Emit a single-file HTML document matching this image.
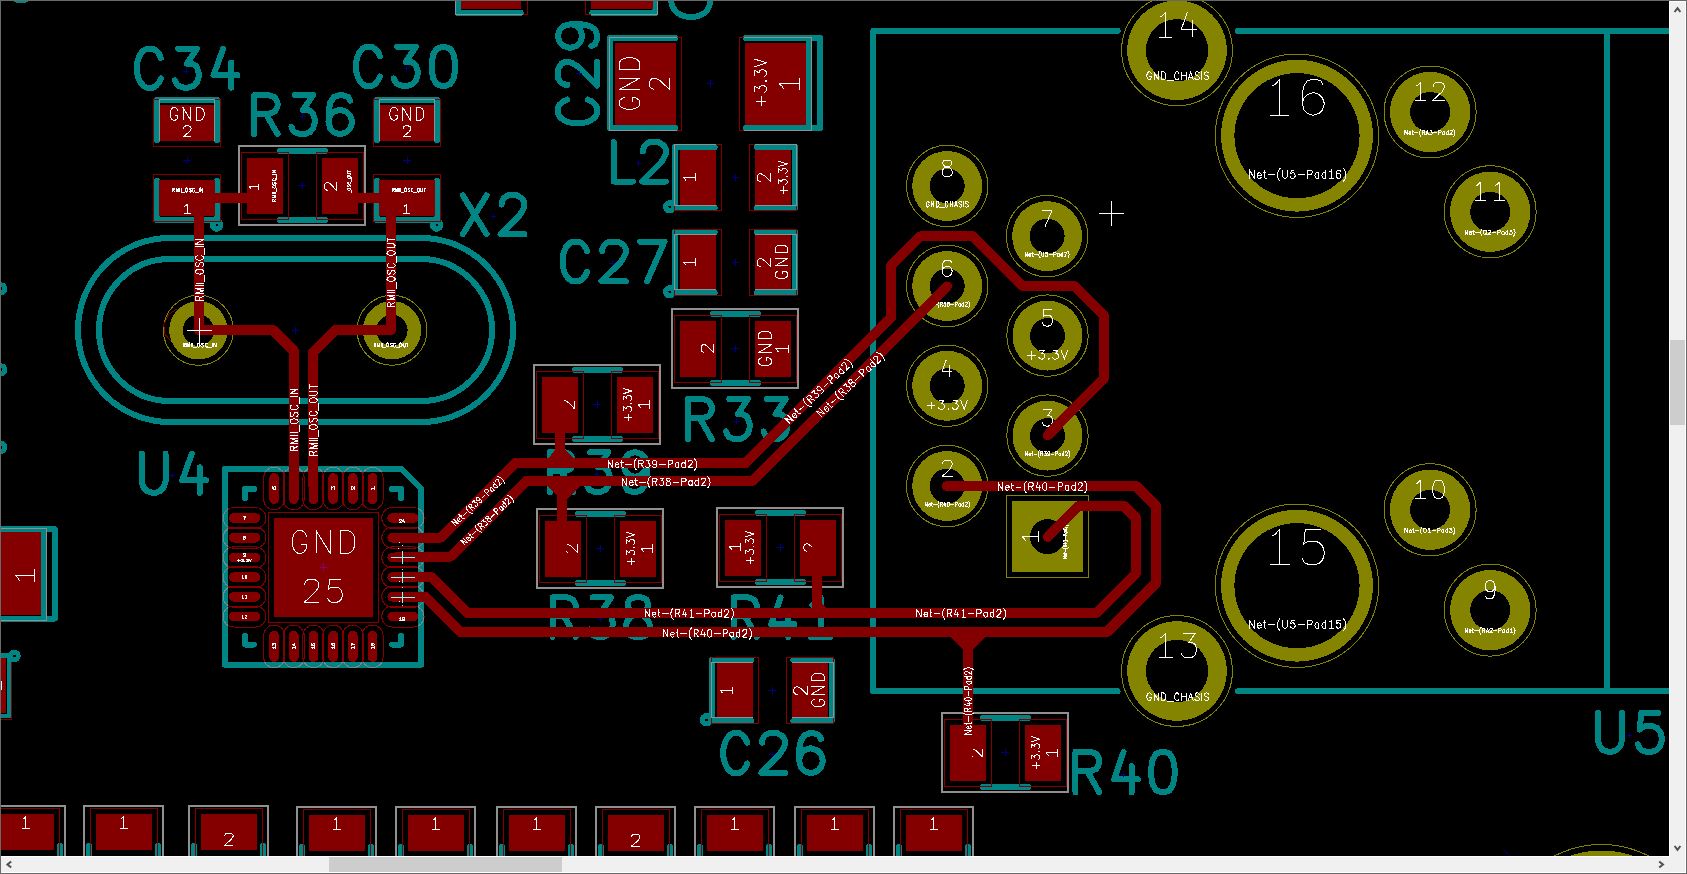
<!DOCTYPE html>
<html><head><meta charset="utf-8"><title>Pcbnew</title>
<style>html,body{margin:0;padding:0;background:#000;overflow:hidden;font-family:"Liberation Sans",sans-serif}
svg{display:block;position:absolute;left:0;top:0}</style></head>
<body>
<svg width="1687" height="874" viewBox="0 0 1687 874" fill="none" stroke-linecap="round" stroke-linejoin="round" shape-rendering="crispEdges">
<rect x="0" y="0" width="1687" height="874" fill="#000"/>
<g>
<path d="M157 140 L157 100 L217 100 L217 140" stroke="#008484" stroke-width="6" stroke-linecap="round" stroke-linejoin="round"/>
<path d="M157 181 L157 220 L217 220 L217 181" stroke="#008484" stroke-width="6" stroke-linecap="round" stroke-linejoin="round"/>
<circle cx="216.6" cy="225" r="4" fill="none" stroke="#008484" stroke-width="5.6"/>
<path transform="translate(187.2 68.2) rotate(0)" d="M-26.4 -10.2 L-27.9 -13.9 L-31.1 -17.6 L-34.3 -19.4 L-40.6 -19.4 L-43.8 -17.6 L-47.0 -13.9 L-48.6 -10.2 L-50.2 -4.6 L-50.2 4.6 L-48.6 10.2 L-47.0 13.9 L-43.8 17.6 L-40.6 19.4 L-34.3 19.4 L-31.1 17.6 L-27.9 13.9 L-26.4 10.2 M-8.9 -19.4 L9.8 -19.4 L-0.4 -4.6 L4.7 -4.6 L8.1 -2.8 L9.8 -0.9 L11.5 4.6 L11.5 8.3 L9.8 13.9 L6.4 17.6 L1.3 19.4 L-3.8 19.4 L-8.9 17.6 L-10.6 15.7 L-12.3 12.0 M35.9 -19.4 L26.4 7.0 L50.2 7.0 M43.9 -5.7 L43.9 19.4" stroke="#008484" stroke-width="6"/>
<path d="M377 140 L377 100 L437 100 L437 140" stroke="#008484" stroke-width="6" stroke-linecap="round" stroke-linejoin="round"/>
<path d="M377 181 L377 220 L437 220 L437 181" stroke="#008484" stroke-width="6" stroke-linecap="round" stroke-linejoin="round"/>
<circle cx="436.6" cy="225" r="4" fill="none" stroke="#008484" stroke-width="5.6"/>
<path transform="translate(405.7 66.4) rotate(0)" d="M-25.9 -10.2 L-27.4 -13.9 L-30.6 -17.6 L-33.8 -19.5 L-40.1 -19.5 L-43.3 -17.6 L-46.4 -13.9 L-48.0 -10.2 L-49.6 -4.6 L-49.6 4.6 L-48.0 10.2 L-46.4 13.9 L-43.3 17.6 L-40.1 19.5 L-33.8 19.5 L-30.6 17.6 L-27.4 13.9 L-25.9 10.2 M-8.5 -19.5 L10.2 -19.5 L-0.0 -4.6 L5.1 -4.6 L8.5 -2.8 L10.2 -0.9 L11.9 4.6 L11.9 8.4 L10.2 13.9 L6.8 17.6 L1.7 19.5 L-3.4 19.5 L-8.5 17.6 L-10.2 15.8 L-11.9 12.1 M36.0 -19.5 L31.0 -17.6 L27.6 -12.1 L25.9 -2.8 L25.9 2.8 L27.6 12.1 L31.0 17.6 L36.0 19.5 L39.4 19.5 L44.5 17.6 L47.9 12.1 L49.6 2.8 L49.6 -2.8 L47.9 -12.1 L44.5 -17.6 L39.4 -19.5 L36.0 -19.5" stroke="#008484" stroke-width="6"/>
<path d="M280 151 L325.5 151" stroke="#008484" stroke-width="6" stroke-linecap="round" stroke-linejoin="round"/>
<path d="M280 220 L325.5 220" stroke="#008484" stroke-width="6" stroke-linecap="round" stroke-linejoin="round"/>
<path transform="translate(303 114.6) rotate(0)" d="M-48.9 -19.4 L-48.9 19.4 M-48.9 -19.4 L-33.9 -19.4 L-28.9 -17.6 L-27.2 -15.7 L-25.5 -12.0 L-25.5 -8.3 L-27.2 -4.6 L-28.9 -2.8 L-33.9 -0.9 L-48.9 -0.9 M-37.2 -0.9 L-25.5 19.4 M-8.3 -19.4 L10.1 -19.4 L0.0 -4.6 L5.1 -4.6 L8.4 -2.8 L10.1 -0.9 L11.7 4.6 L11.7 8.3 L10.1 13.9 L6.7 17.6 L1.7 19.4 L-3.3 19.4 L-8.3 17.6 L-10.0 15.7 L-11.6 12.0 M47.1 -13.9 L45.3 -17.6 L39.9 -19.4 L36.3 -19.4 L30.9 -17.6 L27.3 -12.0 L25.5 -2.8 L25.5 6.5 L27.3 13.9 L30.9 17.6 L36.3 19.4 L38.1 19.4 L43.5 17.6 L47.1 13.9 L48.9 8.3 L48.9 6.5 L47.1 0.9 L43.5 -2.8 L38.1 -4.6 L36.3 -4.6 L30.9 -2.8 L27.3 0.9 L25.5 6.5" stroke="#008484" stroke-width="6"/>
<path transform="translate(493.6 214.8) rotate(0)" d="M-30.8 -19.4 L-7.0 19.4 M-7.0 -19.4 L-30.8 19.4 M7.9 -10.2 L7.9 -12.0 L9.6 -15.7 L11.3 -17.6 L14.7 -19.4 L23.2 -19.4 L26.6 -17.6 L29.1 -15.7 L30.8 -12.0 L30.8 -8.3 L29.1 -4.6 L25.7 0.9 L7.0 19.4 L30.8 19.4" stroke="#008484" stroke-width="6"/>
<path d="M170 238 H421 A92 92 0 0 1 421 422 H170 A92 92 0 0 1 170 238 Z" stroke="#008484" stroke-width="6"/>
<path d="M170 259 H421 A71 71 0 0 1 421 401 H170 A71 71 0 0 1 170 259 Z" stroke="#008484" stroke-width="6"/>
<path d="M225 469 H401.3 L421 488.7 V664.8 H225 Z" stroke="#008484" stroke-width="6" stroke-linejoin="round"/>
<path transform="translate(173.9 473.2) rotate(0)" d="M-32.1 -19.6 L-32.1 8.4 L-30.5 14.0 L-27.1 17.7 L-22.0 19.6 L-18.6 19.6 L-13.5 17.7 L-10.1 14.0 L-8.4 8.4 L-8.4 -19.6 M17.9 -19.6 L8.4 7.1 L32.1 7.1 M25.9 -5.8 L25.9 19.6" stroke="#008484" stroke-width="6"/>
<path d="M254 489 L245 489 L245 498" stroke="#008484" stroke-width="6" stroke-linecap="round" stroke-linejoin="round"/>
<path d="M392 489 L401 489 L401 498" stroke="#008484" stroke-width="6" stroke-linecap="round" stroke-linejoin="round"/>
<path d="M254 644.5 L245 644.5 L245 635.5" stroke="#008484" stroke-width="6" stroke-linecap="round" stroke-linejoin="round"/>
<path d="M392 644.5 L401 644.5 L401 635.5" stroke="#008484" stroke-width="6" stroke-linecap="round" stroke-linejoin="round"/>
<path d="M713 314 L758.5 314" stroke="#008484" stroke-width="6" stroke-linecap="round" stroke-linejoin="round"/>
<path d="M713 383 L758.5 383" stroke="#008484" stroke-width="6" stroke-linecap="round" stroke-linejoin="round"/>
<path transform="translate(737.7 419.1) rotate(0)" d="M-49.7 -20.1 L-49.7 20.1 M-49.7 -20.1 L-34.4 -20.1 L-29.3 -18.1 L-27.6 -16.2 L-25.9 -12.4 L-25.9 -8.6 L-27.6 -4.8 L-29.3 -2.9 L-34.4 -1.0 L-49.7 -1.0 M-37.8 -1.0 L-25.9 20.1 M-8.4 -20.1 L10.2 -20.1 L0.0 -4.8 L5.1 -4.8 L8.5 -2.9 L10.2 -1.0 L11.9 4.8 L11.9 8.6 L10.2 14.3 L6.8 18.1 L1.7 20.1 L-3.3 20.1 L-8.4 18.1 L-10.1 16.2 L-11.8 12.4 M29.3 -20.1 L48.0 -20.1 L37.8 -4.8 L42.9 -4.8 L46.3 -2.9 L48.0 -1.0 L49.7 4.8 L49.7 8.6 L48.0 14.3 L44.6 18.1 L39.5 20.1 L34.4 20.1 L29.3 18.1 L27.6 16.2 L25.9 12.4" stroke="#008484" stroke-width="6"/>
<path d="M575 370 L620.5 370" stroke="#008484" stroke-width="6" stroke-linecap="round" stroke-linejoin="round"/>
<path d="M575 439 L620.5 439" stroke="#008484" stroke-width="6" stroke-linecap="round" stroke-linejoin="round"/>
<path transform="translate(598.3 472.1) rotate(0)" d="M-48.4 -19.9 L-48.4 19.9 M-48.4 -19.9 L-33.6 -19.9 L-28.6 -18.0 L-26.9 -16.1 L-25.3 -12.3 L-25.3 -8.5 L-26.9 -4.7 L-28.6 -2.8 L-33.6 -0.9 L-48.4 -0.9 M-36.9 -0.9 L-25.3 19.9 M-8.2 -19.9 L10.0 -19.9 L0.0 -4.7 L5.0 -4.7 L8.3 -2.8 L10.0 -0.9 L11.6 4.7 L11.6 8.5 L10.0 14.2 L6.7 18.0 L1.7 19.9 L-3.3 19.9 L-8.2 18.0 L-9.9 16.1 L-11.5 12.3 M48.4 -6.6 L46.7 -0.9 L43.1 2.8 L37.8 4.7 L36.0 4.7 L30.6 2.8 L27.1 -0.9 L25.3 -6.6 L25.3 -8.5 L27.1 -14.2 L30.6 -18.0 L36.0 -19.9 L37.8 -19.9 L43.1 -18.0 L46.7 -14.2 L48.4 -6.6 L48.4 2.8 L46.7 12.3 L43.1 18.0 L37.8 19.9 L34.2 19.9 L28.9 18.0 L27.1 14.2" stroke="#008484" stroke-width="6"/>
<path d="M578 514 L623.5 514" stroke="#008484" stroke-width="6" stroke-linecap="round" stroke-linejoin="round"/>
<path d="M578 583 L623.5 583" stroke="#008484" stroke-width="6" stroke-linecap="round" stroke-linejoin="round"/>
<path transform="translate(601 617.2) rotate(0)" d="M-48.5 -19.8 L-48.5 19.8 M-48.5 -19.8 L-33.6 -19.8 L-28.6 -17.9 L-27.0 -16.0 L-25.3 -12.2 L-25.3 -8.5 L-27.0 -4.7 L-28.6 -2.8 L-33.6 -0.9 L-48.5 -0.9 M-36.9 -0.9 L-25.3 19.8 M-8.2 -19.8 L10.0 -19.8 L0.0 -4.7 L5.0 -4.7 L8.3 -2.8 L10.0 -0.9 L11.6 4.7 L11.6 8.5 L10.0 14.1 L6.7 17.9 L1.7 19.8 L-3.3 19.8 L-8.2 17.9 L-9.9 16.0 L-11.5 12.2 M33.6 -19.8 L28.6 -17.9 L27.0 -14.1 L27.0 -10.3 L28.6 -6.6 L31.9 -4.7 L38.6 -2.8 L43.5 -0.9 L46.8 2.8 L48.5 6.6 L48.5 12.2 L46.8 16.0 L45.2 17.9 L40.2 19.8 L33.6 19.8 L28.6 17.9 L27.0 16.0 L25.3 12.2 L25.3 6.6 L27.0 2.8 L30.3 -0.9 L35.3 -2.8 L41.9 -4.7 L45.2 -6.6 L46.8 -10.3 L46.8 -14.1 L45.2 -17.9 L40.2 -19.8 L33.6 -19.8" stroke="#008484" stroke-width="6"/>
<path d="M758 513 L803.5 513" stroke="#008484" stroke-width="6" stroke-linecap="round" stroke-linejoin="round"/>
<path d="M758 582 L803.5 582" stroke="#008484" stroke-width="6" stroke-linecap="round" stroke-linejoin="round"/>
<path transform="translate(782 617.2) rotate(0)" d="M-48.4 -19.8 L-48.4 19.8 M-48.4 -19.8 L-33.6 -19.8 L-28.6 -17.9 L-26.9 -16.0 L-25.3 -12.2 L-25.3 -8.5 L-26.9 -4.7 L-28.6 -2.8 L-33.6 -0.9 L-48.4 -0.9 M-36.9 -0.9 L-25.3 19.8 M-1.4 -19.8 L-10.7 7.1 L12.5 7.1 M6.3 -5.8 L6.3 19.8 M30.3 -12.2 L33.6 -14.1 L38.5 -19.8 L38.5 19.8 M28.6 19.8 L48.4 19.8" stroke="#008484" stroke-width="6"/>
<path d="M983 718 L1028.5 718" stroke="#008484" stroke-width="6" stroke-linecap="round" stroke-linejoin="round"/>
<path d="M983 787 L1028.5 787" stroke="#008484" stroke-width="6" stroke-linecap="round" stroke-linejoin="round"/>
<path transform="translate(1125.1 772) rotate(0)" d="M-49.6 -20.2 L-49.6 20.2 M-49.6 -20.2 L-34.4 -20.2 L-29.3 -18.3 L-27.6 -16.4 L-25.9 -12.5 L-25.9 -8.7 L-27.6 -4.8 L-29.3 -2.9 L-34.4 -1.0 L-49.6 -1.0 M-37.8 -1.0 L-25.9 20.2 M-1.5 -20.2 L-11.0 7.3 L12.8 7.3 M6.5 -6.0 L6.5 20.2 M36.1 -20.2 L31.0 -18.3 L27.6 -12.5 L25.9 -2.9 L25.9 2.9 L27.6 12.5 L31.0 18.3 L36.1 20.2 L39.5 20.2 L44.6 18.3 L48.0 12.5 L49.6 2.9 L49.6 -2.9 L48.0 -12.5 L44.6 -18.3 L39.5 -20.2 L36.1 -20.2" stroke="#008484" stroke-width="6"/>
<path d="M714.7 147 L675 147 L675 208 L714.7 208" stroke="#008484" stroke-width="6" stroke-linecap="round" stroke-linejoin="round"/>
<path d="M756.6 147 L795 147 L795 208 L756.6 208" stroke="#008484" stroke-width="6" stroke-linecap="round" stroke-linejoin="round"/>
<circle cx="669.7" cy="206.8" r="4" fill="none" stroke="#008484" stroke-width="5.4"/>
<path transform="translate(639.9 161.8) rotate(0)" d="M-26.1 -19.7 L-26.1 19.7 M-26.1 19.7 L-6.8 19.7 M3.0 -10.3 L3.0 -12.2 L4.7 -15.9 L6.4 -17.8 L9.9 -19.7 L18.4 -19.7 L21.9 -17.8 L24.4 -15.9 L26.1 -12.2 L26.1 -8.4 L24.4 -4.7 L21.0 0.9 L2.1 19.7 L26.1 19.7" stroke="#008484" stroke-width="6"/>
<path d="M714.7 232 L675 232 L675 293 L714.7 293" stroke="#008484" stroke-width="6" stroke-linecap="round" stroke-linejoin="round"/>
<path d="M756.6 232 L795 232 L795 293 L756.6 293" stroke="#008484" stroke-width="6" stroke-linecap="round" stroke-linejoin="round"/>
<circle cx="669.7" cy="291.8" r="4" fill="none" stroke="#008484" stroke-width="5.4"/>
<path transform="translate(613.6 261.4) rotate(0)" d="M-26.5 -10.3 L-28.2 -14.1 L-31.4 -17.9 L-34.7 -19.8 L-41.2 -19.8 L-44.4 -17.9 L-47.7 -14.1 L-49.3 -10.3 L-50.9 -4.7 L-50.9 4.7 L-49.3 10.3 L-47.7 14.1 L-44.4 17.9 L-41.2 19.8 L-34.7 19.8 L-31.4 17.9 L-28.2 14.1 L-26.5 10.3 M-11.3 -10.3 L-11.3 -12.2 L-9.6 -16.0 L-7.8 -17.9 L-4.3 -19.8 L4.3 -19.8 L7.8 -17.9 L10.4 -16.0 L12.2 -12.2 L12.2 -8.5 L10.4 -4.7 L7.0 0.9 L-12.2 19.8 L12.2 19.8 M50.9 -19.8 L33.5 19.8 M26.5 -19.8 L50.9 -19.8" stroke="#008484" stroke-width="6"/>
<path d="M751.5 660 L711.8 660 L711.8 721 L751.5 721" stroke="#008484" stroke-width="6" stroke-linecap="round" stroke-linejoin="round"/>
<path d="M793.4 660 L831.8 660 L831.8 721 L793.4 721" stroke="#008484" stroke-width="6" stroke-linecap="round" stroke-linejoin="round"/>
<circle cx="706.5" cy="719.8" r="4" fill="none" stroke="#008484" stroke-width="5.4"/>
<path transform="translate(773.1 753.1) rotate(0)" d="M-25.9 -10.4 L-27.4 -14.2 L-30.6 -18.0 L-33.8 -19.9 L-40.1 -19.9 L-43.3 -18.0 L-46.4 -14.2 L-48.0 -10.4 L-49.6 -4.7 L-49.6 4.7 L-48.0 10.4 L-46.4 14.2 L-43.3 18.0 L-40.1 19.9 L-33.8 19.9 L-30.6 18.0 L-27.4 14.2 L-25.9 10.4 M-11.0 -10.4 L-11.0 -12.3 L-9.3 -16.1 L-7.6 -18.0 L-4.2 -19.9 L4.2 -19.9 L7.6 -18.0 L10.2 -16.1 L11.9 -12.3 L11.9 -8.5 L10.2 -4.7 L6.8 0.9 L-11.9 19.9 L11.9 19.9 M47.8 -14.2 L45.9 -18.0 L40.5 -19.9 L36.8 -19.9 L31.3 -18.0 L27.7 -12.3 L25.9 -2.8 L25.9 6.6 L27.7 14.2 L31.3 18.0 L36.8 19.9 L38.6 19.9 L44.1 18.0 L47.8 14.2 L49.6 8.5 L49.6 6.6 L47.8 0.9 L44.1 -2.8 L38.6 -4.7 L36.8 -4.7 L31.3 -2.8 L27.7 0.9 L25.9 6.6" stroke="#008484" stroke-width="6"/>
<path d="M675 38 L610 38 L610 128 L675 128" stroke="#008484" stroke-width="6" stroke-linecap="round" stroke-linejoin="round"/>
<path d="M746 38 L820 38 L820 128 L746 128" stroke="#008484" stroke-width="6" stroke-linecap="round" stroke-linejoin="round"/>
<path d="M809 38 L809 128" stroke="#008484" stroke-width="6" stroke-linecap="round" stroke-linejoin="round"/>
<path transform="translate(577.5 73.7) rotate(-90)" d="M-25.9 -10.2 L-27.5 -13.9 L-30.6 -17.6 L-33.8 -19.5 L-40.1 -19.5 L-43.3 -17.6 L-46.5 -13.9 L-48.1 -10.2 L-49.6 -4.6 L-49.6 4.6 L-48.1 10.2 L-46.5 13.9 L-43.3 17.6 L-40.1 19.5 L-33.8 19.5 L-30.6 17.6 L-27.5 13.9 L-25.9 10.2 M-11.0 -10.2 L-11.0 -12.1 L-9.3 -15.8 L-7.6 -17.6 L-4.2 -19.5 L4.2 -19.5 L7.6 -17.6 L10.2 -15.8 L11.9 -12.1 L11.9 -8.4 L10.2 -4.6 L6.8 0.9 L-11.9 19.5 L11.9 19.5 M49.6 -6.5 L47.8 -0.9 L44.2 2.8 L38.7 4.6 L36.9 4.6 L31.4 2.8 L27.7 -0.9 L25.9 -6.5 L25.9 -8.4 L27.7 -13.9 L31.4 -17.6 L36.9 -19.5 L38.7 -19.5 L44.2 -17.6 L47.8 -13.9 L49.6 -6.5 L49.6 2.8 L47.8 12.1 L44.2 17.6 L38.7 19.5 L35.0 19.5 L29.5 17.6 L27.7 13.9" stroke="#008484" stroke-width="6"/>
<path d="M457.5 0 L457.5 12.9 L520.6 12.9" stroke="#008484" stroke-width="6" stroke-linecap="round" stroke-linejoin="round"/>
<path d="M592.4 12.9 L655.4 12.9 L655.4 0" stroke="#008484" stroke-width="6" stroke-linecap="round" stroke-linejoin="round"/>
<path d="M671 -2 C671 11,680 17,691 17 S710.5 11,710.5 -2" stroke="#008484" stroke-width="6" stroke-linecap="round"/>
<path d="M1117.6 30.9 L873.3 30.9 L873.3 691.3 L1117.6 691.3" stroke="#008484" stroke-width="6" stroke-linecap="round" stroke-linejoin="round"/>
<path d="M1238 30.9 L1680 30.9" stroke="#008484" stroke-width="6" stroke-linecap="round" stroke-linejoin="round"/>
<path d="M1238 691.3 L1680 691.3" stroke="#008484" stroke-width="6" stroke-linecap="round" stroke-linejoin="round"/>
<path d="M1606.7 30.9 L1606.7 691.3" stroke="#008484" stroke-width="6" stroke-linecap="round" stroke-linejoin="round"/>
<path transform="translate(1629.9 732.4) rotate(0)" d="M-31.9 -19.4 L-31.9 8.3 L-30.2 13.9 L-26.8 17.6 L-21.7 19.4 L-18.2 19.4 L-13.1 17.6 L-9.7 13.9 L-8.0 8.3 L-8.0 -19.4 M28.5 -19.4 L11.4 -19.4 L9.7 -2.8 L11.4 -4.6 L16.5 -6.5 L21.7 -6.5 L26.8 -4.6 L30.2 -0.9 L31.9 4.6 L31.9 8.3 L30.2 13.9 L26.8 17.6 L21.7 19.4 L16.5 19.4 L11.4 17.6 L9.7 15.7 L8.0 12.0" stroke="#008484" stroke-width="6"/>
<ellipse cx="21" cy="0.5" rx="8" ry="2.5" fill="#008484"/>
<path d="M0 529.2 L54.8 529.2 L54.8 618.6 L0 618.6" stroke="#008484" stroke-width="6" stroke-linecap="round" stroke-linejoin="round"/>
<path d="M44.2 529.2 L44.2 618.6" stroke="#008484" stroke-width="6" stroke-linecap="round" stroke-linejoin="round"/>
<path d="M0 655.2 L8.8 655.2 L8.8 715.8 L0 715.8" stroke="#008484" stroke-width="4.6" stroke-linecap="round" stroke-linejoin="round"/>
<circle cx="14.3" cy="656" r="3.9" fill="none" stroke="#008484" stroke-width="5"/>
<circle cx="1" cy="288.7" r="3.9" fill="none" stroke="#008484" stroke-width="5"/>
<circle cx="1" cy="369.7" r="3.9" fill="none" stroke="#008484" stroke-width="5"/>
<circle cx="1" cy="447.4" r="3.9" fill="none" stroke="#008484" stroke-width="5"/>
<path d="M-9 846 L-9 870" stroke="#008484" stroke-width="6" stroke-linecap="round" stroke-linejoin="round"/>
<path d="M60 846 L60 870" stroke="#008484" stroke-width="6" stroke-linecap="round" stroke-linejoin="round"/>
<path d="M89 846 L89 870" stroke="#008484" stroke-width="6" stroke-linecap="round" stroke-linejoin="round"/>
<path d="M158 846 L158 870" stroke="#008484" stroke-width="6" stroke-linecap="round" stroke-linejoin="round"/>
<path d="M194 846 L194 870" stroke="#008484" stroke-width="6" stroke-linecap="round" stroke-linejoin="round"/>
<path d="M263 846 L263 870" stroke="#008484" stroke-width="6" stroke-linecap="round" stroke-linejoin="round"/>
<path d="M302 847 L302 870" stroke="#008484" stroke-width="6" stroke-linecap="round" stroke-linejoin="round"/>
<path d="M371 847 L371 870" stroke="#008484" stroke-width="6" stroke-linecap="round" stroke-linejoin="round"/>
<path d="M401 847 L401 870" stroke="#008484" stroke-width="6" stroke-linecap="round" stroke-linejoin="round"/>
<path d="M470 847 L470 870" stroke="#008484" stroke-width="6" stroke-linecap="round" stroke-linejoin="round"/>
<path d="M502 847 L502 870" stroke="#008484" stroke-width="6" stroke-linecap="round" stroke-linejoin="round"/>
<path d="M571 847 L571 870" stroke="#008484" stroke-width="6" stroke-linecap="round" stroke-linejoin="round"/>
<path d="M601 847 L601 870" stroke="#008484" stroke-width="6" stroke-linecap="round" stroke-linejoin="round"/>
<path d="M670 847 L670 870" stroke="#008484" stroke-width="6" stroke-linecap="round" stroke-linejoin="round"/>
<path d="M700 847 L700 870" stroke="#008484" stroke-width="6" stroke-linecap="round" stroke-linejoin="round"/>
<path d="M769 847 L769 870" stroke="#008484" stroke-width="6" stroke-linecap="round" stroke-linejoin="round"/>
<path d="M800 847 L800 870" stroke="#008484" stroke-width="6" stroke-linecap="round" stroke-linejoin="round"/>
<path d="M869 847 L869 870" stroke="#008484" stroke-width="6" stroke-linecap="round" stroke-linejoin="round"/>
<path d="M899 847 L899 870" stroke="#008484" stroke-width="6" stroke-linecap="round" stroke-linejoin="round"/>
<path d="M968 847 L968 870" stroke="#008484" stroke-width="6" stroke-linecap="round" stroke-linejoin="round"/>
</g>
<g style="mix-blend-mode:difference">
<rect x="263.6" y="467.3" width="21" height="42.5" rx="10.5" stroke="#840000" stroke-width="1"/>
<rect x="263.6" y="625" width="21" height="42.7" rx="10.5" stroke="#840000" stroke-width="1"/>
<rect x="223.1" y="507.5" width="42.9" height="21" rx="10.5" stroke="#840000" stroke-width="1"/>
<rect x="381.7" y="507.5" width="42.4" height="21" rx="10.5" stroke="#840000" stroke-width="1"/>
<rect x="283.2" y="467.3" width="21" height="42.5" rx="10.5" stroke="#840000" stroke-width="1"/>
<rect x="283.2" y="625" width="21" height="42.7" rx="10.5" stroke="#840000" stroke-width="1"/>
<rect x="223.1" y="527.2" width="42.9" height="21" rx="10.5" stroke="#840000" stroke-width="1"/>
<rect x="381.7" y="527.2" width="42.4" height="21" rx="10.5" stroke="#840000" stroke-width="1"/>
<rect x="302.9" y="467.3" width="21" height="42.5" rx="10.5" stroke="#840000" stroke-width="1"/>
<rect x="302.9" y="625" width="21" height="42.7" rx="10.5" stroke="#840000" stroke-width="1"/>
<rect x="223.1" y="546.9" width="42.9" height="21" rx="10.5" stroke="#840000" stroke-width="1"/>
<rect x="381.7" y="546.9" width="42.4" height="21" rx="10.5" stroke="#840000" stroke-width="1"/>
<rect x="322.7" y="467.3" width="21" height="42.5" rx="10.5" stroke="#840000" stroke-width="1"/>
<rect x="322.7" y="625" width="21" height="42.7" rx="10.5" stroke="#840000" stroke-width="1"/>
<rect x="223.1" y="566.6" width="42.9" height="21" rx="10.5" stroke="#840000" stroke-width="1"/>
<rect x="381.7" y="566.6" width="42.4" height="21" rx="10.5" stroke="#840000" stroke-width="1"/>
<rect x="342.4" y="467.3" width="21" height="42.5" rx="10.5" stroke="#840000" stroke-width="1"/>
<rect x="342.4" y="625" width="21" height="42.7" rx="10.5" stroke="#840000" stroke-width="1"/>
<rect x="223.1" y="586.2" width="42.9" height="21" rx="10.5" stroke="#840000" stroke-width="1"/>
<rect x="381.7" y="586.2" width="42.4" height="21" rx="10.5" stroke="#840000" stroke-width="1"/>
<rect x="362.1" y="467.3" width="21" height="42.5" rx="10.5" stroke="#840000" stroke-width="1"/>
<rect x="362.1" y="625" width="21" height="42.7" rx="10.5" stroke="#840000" stroke-width="1"/>
<rect x="223.1" y="606" width="42.9" height="21" rx="10.5" stroke="#840000" stroke-width="1"/>
<rect x="381.7" y="606" width="42.4" height="21" rx="10.5" stroke="#840000" stroke-width="1"/>
</g>
<g>
<circle cx="198.4" cy="330.3" r="29.2" fill="#848400" stroke="none" stroke-width="1"/>
<circle cx="198.4" cy="330.3" r="15.6" fill="#000" stroke="none" stroke-width="1"/>
<circle cx="198.4" cy="330.3" r="35" fill="none" stroke="#848400" stroke-width="1"/>
<circle cx="392" cy="330.3" r="29.2" fill="#848400" stroke="none" stroke-width="1"/>
<circle cx="392" cy="330.3" r="15.6" fill="#000" stroke="none" stroke-width="1"/>
<circle cx="392" cy="330.3" r="35" fill="none" stroke="#848400" stroke-width="1"/>
<circle cx="947.2" cy="186" r="35" fill="#848400" stroke="none" stroke-width="1"/>
<circle cx="947.2" cy="186" r="17.5" fill="#000" stroke="none" stroke-width="1"/>
<circle cx="947.2" cy="186" r="40.7" fill="none" stroke="#848400" stroke-width="1"/>
<circle cx="947.2" cy="286" r="35" fill="#848400" stroke="none" stroke-width="1"/>
<circle cx="947.2" cy="286" r="17.5" fill="#000" stroke="none" stroke-width="1"/>
<circle cx="947.2" cy="286" r="40.7" fill="none" stroke="#848400" stroke-width="1"/>
<circle cx="947.2" cy="385.8" r="35" fill="#848400" stroke="none" stroke-width="1"/>
<circle cx="947.2" cy="385.8" r="17.5" fill="#000" stroke="none" stroke-width="1"/>
<circle cx="947.2" cy="385.8" r="40.7" fill="none" stroke="#848400" stroke-width="1"/>
<circle cx="947.2" cy="486" r="35" fill="#848400" stroke="none" stroke-width="1"/>
<circle cx="947.2" cy="486" r="17.5" fill="#000" stroke="none" stroke-width="1"/>
<circle cx="947.2" cy="486" r="40.7" fill="none" stroke="#848400" stroke-width="1"/>
<circle cx="1047.1" cy="236.1" r="35" fill="#848400" stroke="none" stroke-width="1"/>
<circle cx="1047.1" cy="236.1" r="17.5" fill="#000" stroke="none" stroke-width="1"/>
<circle cx="1047.1" cy="236.1" r="40.7" fill="none" stroke="#848400" stroke-width="1"/>
<circle cx="1047.5" cy="335.6" r="35" fill="#848400" stroke="none" stroke-width="1"/>
<circle cx="1047.5" cy="335.6" r="17.5" fill="#000" stroke="none" stroke-width="1"/>
<circle cx="1047.5" cy="335.6" r="40.7" fill="none" stroke="#848400" stroke-width="1"/>
<circle cx="1047.5" cy="435.6" r="35" fill="#848400" stroke="none" stroke-width="1"/>
<circle cx="1047.5" cy="435.6" r="17.5" fill="#000" stroke="none" stroke-width="1"/>
<circle cx="1047.5" cy="435.6" r="40.7" fill="none" stroke="#848400" stroke-width="1"/>
<rect x="1012" y="501" width="71" height="71" fill="#848400" stroke="none"/>
<circle cx="1047.5" cy="536.7" r="17.5" fill="#000" stroke="none" stroke-width="1"/>
<rect x="1006.5" y="495.5" width="82" height="82" stroke="#848400" stroke-width="1"/>
<circle cx="1177" cy="50.3" r="49.8" fill="#848400" stroke="none" stroke-width="1"/>
<circle cx="1177" cy="50.3" r="31.2" fill="#000" stroke="none" stroke-width="1"/>
<circle cx="1177" cy="50.3" r="55.4" fill="none" stroke="#848400" stroke-width="1"/>
<circle cx="1177" cy="671" r="49.8" fill="#848400" stroke="none" stroke-width="1"/>
<circle cx="1177" cy="671" r="31.2" fill="#000" stroke="none" stroke-width="1"/>
<circle cx="1177" cy="671" r="55.4" fill="none" stroke="#848400" stroke-width="1"/>
<circle cx="1297" cy="135.7" r="75.9" fill="#848400" stroke="none" stroke-width="1"/>
<circle cx="1297" cy="135.7" r="62.6" fill="#000" stroke="none" stroke-width="1"/>
<circle cx="1297" cy="135.7" r="81.7" fill="none" stroke="#848400" stroke-width="1"/>
<circle cx="1297" cy="585.7" r="75.9" fill="#848400" stroke="none" stroke-width="1"/>
<circle cx="1297" cy="585.7" r="62.6" fill="#000" stroke="none" stroke-width="1"/>
<circle cx="1297" cy="585.7" r="81.7" fill="none" stroke="#848400" stroke-width="1"/>
<circle cx="1430.1" cy="112" r="40.2" fill="#848400" stroke="none" stroke-width="1"/>
<circle cx="1430.1" cy="112" r="20" fill="#000" stroke="none" stroke-width="1"/>
<circle cx="1430.1" cy="112" r="46" fill="none" stroke="#848400" stroke-width="1"/>
<circle cx="1490.2" cy="211.8" r="40.2" fill="#848400" stroke="none" stroke-width="1"/>
<circle cx="1490.2" cy="211.8" r="20" fill="#000" stroke="none" stroke-width="1"/>
<circle cx="1490.2" cy="211.8" r="46" fill="none" stroke="#848400" stroke-width="1"/>
<circle cx="1430.1" cy="509.8" r="40.2" fill="#848400" stroke="none" stroke-width="1"/>
<circle cx="1430.1" cy="509.8" r="20" fill="#000" stroke="none" stroke-width="1"/>
<circle cx="1430.1" cy="509.8" r="46" fill="none" stroke="#848400" stroke-width="1"/>
<circle cx="1490.2" cy="610.1" r="40.2" fill="#848400" stroke="none" stroke-width="1"/>
<circle cx="1490.2" cy="610.1" r="20" fill="#000" stroke="none" stroke-width="1"/>
<circle cx="1490.2" cy="610.1" r="46" fill="none" stroke="#848400" stroke-width="1"/>
<circle cx="1601.5" cy="947.9" r="97.4" fill="#848400" stroke="none" stroke-width="1"/>
<circle cx="1601.5" cy="947.9" r="80" fill="#000" stroke="none" stroke-width="1"/>
<circle cx="1601.5" cy="947.9" r="103.4" fill="none" stroke="#848400" stroke-width="1"/>
</g>
<g>
<rect x="239" y="146" width="126" height="79" stroke="#909090" stroke-width="2"/>
<rect x="672" y="309" width="126" height="79" stroke="#909090" stroke-width="2"/>
<rect x="534" y="365" width="126" height="79" stroke="#909090" stroke-width="2"/>
<rect x="537" y="509" width="126" height="79" stroke="#909090" stroke-width="2"/>
<rect x="717" y="508" width="126" height="79" stroke="#909090" stroke-width="2"/>
<rect x="942" y="713" width="126" height="79" stroke="#909090" stroke-width="2"/>
<path d="M-14 900 V806 H65 V900" stroke="#909090" stroke-width="2" stroke-linejoin="round"/>
<path d="M84 900 V806 H163 V900" stroke="#909090" stroke-width="2" stroke-linejoin="round"/>
<path d="M189 900 V806 H268 V900" stroke="#909090" stroke-width="2" stroke-linejoin="round"/>
<path d="M297 900 V807 H376 V900" stroke="#909090" stroke-width="2" stroke-linejoin="round"/>
<path d="M396 900 V807 H475 V900" stroke="#909090" stroke-width="2" stroke-linejoin="round"/>
<path d="M497 900 V807 H576 V900" stroke="#909090" stroke-width="2" stroke-linejoin="round"/>
<path d="M596 900 V807 H675 V900" stroke="#909090" stroke-width="2" stroke-linejoin="round"/>
<path d="M695 900 V807 H774 V900" stroke="#909090" stroke-width="2" stroke-linejoin="round"/>
<path d="M795 900 V807 H874 V900" stroke="#909090" stroke-width="2" stroke-linejoin="round"/>
<path d="M894 900 V807 H973 V900" stroke="#909090" stroke-width="2" stroke-linejoin="round"/>
</g>
<g>
<path d="M183.9 71.2 h5 M186.4 68.7 v5" stroke="#000084" stroke-width="1"/>
<path d="M403.5 68.3 h5 M406 65.8 v5" stroke="#000084" stroke-width="1"/>
<path d="M300 116 h5 M302.5 113.5 v5" stroke="#000084" stroke-width="1"/>
<path d="M491 216.5 h5 M493.5 214 v5" stroke="#000084" stroke-width="1"/>
<path d="M169.5 475.5 h5 M172 473 v5" stroke="#000084" stroke-width="1"/>
<path d="M733.5 421.5 h5 M736 419 v5" stroke="#000084" stroke-width="1"/>
<path d="M594.2 474.1 h5 M596.7 471.6 v5" stroke="#000084" stroke-width="1"/>
<path d="M598 619 h5 M600.5 616.5 v5" stroke="#000084" stroke-width="1"/>
<path d="M778 618 h5 M780.5 615.5 v5" stroke="#000084" stroke-width="1"/>
<path d="M1121.4 774 h5 M1123.9 771.5 v5" stroke="#000084" stroke-width="1"/>
<path d="M636.4 163.5 h5 M638.9 161 v5" stroke="#000084" stroke-width="1"/>
<path d="M609.5 263.2 h5 M612 260.7 v5" stroke="#000084" stroke-width="1"/>
<path d="M769.5 754.4 h5 M772 751.9 v5" stroke="#000084" stroke-width="1"/>
<path d="M576.5 73.6 h5 M579 71.1 v5" stroke="#000084" stroke-width="1"/>
<path d="M1626.5 735 h5 M1629 732.5 v5" stroke="#000084" stroke-width="1"/>
</g>
<g>
<rect x="159" y="105" width="56" height="36" fill="#840000" stroke="none"/>
<rect x="159" y="180" width="56" height="36" fill="#840000" stroke="none"/>
<rect x="379" y="105" width="56" height="36" fill="#840000" stroke="none"/>
<rect x="379" y="180" width="56" height="36" fill="#840000" stroke="none"/>
<rect x="247" y="158" width="36" height="56" fill="#840000" stroke="none"/>
<rect x="322" y="158" width="36" height="56" fill="#840000" stroke="none"/>
<rect x="273.6" y="517.9" width="99.5" height="98.9" fill="#840000" stroke="none"/>
<path d="M274.1 477.8 L274.1 499.3" stroke="#840000" stroke-width="9.6" stroke-linecap="round" stroke-linejoin="round"/>
<path d="M274.1 635.5 L274.1 657.2" stroke="#840000" stroke-width="9.6" stroke-linecap="round" stroke-linejoin="round"/>
<path d="M233.6 518 L255.5 518" stroke="#840000" stroke-width="9.6" stroke-linecap="round" stroke-linejoin="round"/>
<path d="M392.2 518 L413.6 518" stroke="#840000" stroke-width="9.6" stroke-linecap="round" stroke-linejoin="round"/>
<path d="M293.8 477.8 L293.8 499.3" stroke="#840000" stroke-width="9.6" stroke-linecap="round" stroke-linejoin="round"/>
<path d="M293.8 635.5 L293.8 657.2" stroke="#840000" stroke-width="9.6" stroke-linecap="round" stroke-linejoin="round"/>
<path d="M233.6 537.7 L255.5 537.7" stroke="#840000" stroke-width="9.6" stroke-linecap="round" stroke-linejoin="round"/>
<path d="M392.2 537.7 L413.6 537.7" stroke="#840000" stroke-width="9.6" stroke-linecap="round" stroke-linejoin="round"/>
<path d="M313.4 477.8 L313.4 499.3" stroke="#840000" stroke-width="9.6" stroke-linecap="round" stroke-linejoin="round"/>
<path d="M313.4 635.5 L313.4 657.2" stroke="#840000" stroke-width="9.6" stroke-linecap="round" stroke-linejoin="round"/>
<path d="M233.6 557.4 L255.5 557.4" stroke="#840000" stroke-width="9.6" stroke-linecap="round" stroke-linejoin="round"/>
<path d="M392.2 557.4 L413.6 557.4" stroke="#840000" stroke-width="9.6" stroke-linecap="round" stroke-linejoin="round"/>
<path d="M333.2 477.8 L333.2 499.3" stroke="#840000" stroke-width="9.6" stroke-linecap="round" stroke-linejoin="round"/>
<path d="M333.2 635.5 L333.2 657.2" stroke="#840000" stroke-width="9.6" stroke-linecap="round" stroke-linejoin="round"/>
<path d="M233.6 577.1 L255.5 577.1" stroke="#840000" stroke-width="9.6" stroke-linecap="round" stroke-linejoin="round"/>
<path d="M392.2 577.1 L413.6 577.1" stroke="#840000" stroke-width="9.6" stroke-linecap="round" stroke-linejoin="round"/>
<path d="M352.9 477.8 L352.9 499.3" stroke="#840000" stroke-width="9.6" stroke-linecap="round" stroke-linejoin="round"/>
<path d="M352.9 635.5 L352.9 657.2" stroke="#840000" stroke-width="9.6" stroke-linecap="round" stroke-linejoin="round"/>
<path d="M233.6 596.8 L255.5 596.8" stroke="#840000" stroke-width="9.6" stroke-linecap="round" stroke-linejoin="round"/>
<path d="M392.2 596.8 L413.6 596.8" stroke="#840000" stroke-width="9.6" stroke-linecap="round" stroke-linejoin="round"/>
<path d="M372.6 477.8 L372.6 499.3" stroke="#840000" stroke-width="9.6" stroke-linecap="round" stroke-linejoin="round"/>
<path d="M372.6 635.5 L372.6 657.2" stroke="#840000" stroke-width="9.6" stroke-linecap="round" stroke-linejoin="round"/>
<path d="M233.6 616.5 L255.5 616.5" stroke="#840000" stroke-width="9.6" stroke-linecap="round" stroke-linejoin="round"/>
<path d="M392.2 616.5 L413.6 616.5" stroke="#840000" stroke-width="9.6" stroke-linecap="round" stroke-linejoin="round"/>
<rect x="680" y="321" width="36" height="56" fill="#840000" stroke="none"/>
<rect x="755" y="321" width="36" height="56" fill="#840000" stroke="none"/>
<rect x="542" y="377" width="36" height="56" fill="#840000" stroke="none"/>
<rect x="617" y="377" width="36" height="56" fill="#840000" stroke="none"/>
<rect x="545" y="521" width="36" height="56" fill="#840000" stroke="none"/>
<rect x="620" y="521" width="36" height="56" fill="#840000" stroke="none"/>
<rect x="725" y="520" width="36" height="56" fill="#840000" stroke="none"/>
<rect x="800" y="520" width="36" height="56" fill="#840000" stroke="none"/>
<rect x="950" y="725" width="36" height="56" fill="#840000" stroke="none"/>
<rect x="1025" y="725" width="36" height="56" fill="#840000" stroke="none"/>
<rect x="680" y="150" width="36" height="55" fill="#840000" stroke="none"/>
<rect x="755" y="150" width="36" height="55" fill="#840000" stroke="none"/>
<rect x="680" y="235" width="36" height="55" fill="#840000" stroke="none"/>
<rect x="755" y="235" width="36" height="55" fill="#840000" stroke="none"/>
<rect x="716.8" y="663" width="36" height="55" fill="#840000" stroke="none"/>
<rect x="791.8" y="663" width="36" height="55" fill="#840000" stroke="none"/>
<rect x="615" y="43" width="61" height="82" fill="#840000" stroke="none"/>
<rect x="745" y="43" width="61" height="82" fill="#840000" stroke="none"/>
<rect x="460.6" y="0" width="60.7" height="9.3" fill="#840000" stroke="none"/>
<rect x="590.9" y="0" width="61.7" height="8.8" fill="#840000" stroke="none"/>
<rect x="0" y="532.4" width="41.2" height="83" fill="#840000" stroke="none"/>
<rect x="0" y="658" width="5.5" height="55" fill="#840000" stroke="none"/>
<rect x="-2" y="814" width="56" height="36" fill="#840000" stroke="none"/>
<rect x="96" y="814" width="56" height="36" fill="#840000" stroke="none"/>
<rect x="201" y="814" width="56" height="36" fill="#840000" stroke="none"/>
<rect x="309" y="815" width="56" height="36" fill="#840000" stroke="none"/>
<rect x="408" y="815" width="56" height="36" fill="#840000" stroke="none"/>
<rect x="509" y="815" width="56" height="36" fill="#840000" stroke="none"/>
<rect x="608" y="815" width="56" height="36" fill="#840000" stroke="none"/>
<rect x="707" y="815" width="56" height="36" fill="#840000" stroke="none"/>
<rect x="807" y="815" width="56" height="36" fill="#840000" stroke="none"/>
<rect x="906" y="815" width="56" height="36" fill="#840000" stroke="none"/>
</g>
<g>
<rect x="153.5" y="99.5" width="67" height="47" stroke="#840000" stroke-width="1"/>
<rect x="153.5" y="174.5" width="67" height="47" stroke="#840000" stroke-width="1"/>
<rect x="373.5" y="99.5" width="67" height="47" stroke="#840000" stroke-width="1"/>
<rect x="373.5" y="174.5" width="67" height="47" stroke="#840000" stroke-width="1"/>
<rect x="241.5" y="152.5" width="47" height="67" stroke="#840000" stroke-width="1"/>
<rect x="316.5" y="152.5" width="47" height="67" stroke="#840000" stroke-width="1"/>
<rect x="268.3" y="512.6" width="110.1" height="109.5" stroke="#840000" stroke-width="1"/>
<rect x="674.5" y="315.5" width="47" height="67" stroke="#840000" stroke-width="1"/>
<rect x="749.5" y="315.5" width="47" height="67" stroke="#840000" stroke-width="1"/>
<rect x="536.5" y="371.5" width="47" height="67" stroke="#840000" stroke-width="1"/>
<rect x="611.5" y="371.5" width="47" height="67" stroke="#840000" stroke-width="1"/>
<rect x="539.5" y="515.5" width="47" height="67" stroke="#840000" stroke-width="1"/>
<rect x="614.5" y="515.5" width="47" height="67" stroke="#840000" stroke-width="1"/>
<rect x="719.5" y="514.5" width="47" height="67" stroke="#840000" stroke-width="1"/>
<rect x="794.5" y="514.5" width="47" height="67" stroke="#840000" stroke-width="1"/>
<rect x="944.5" y="719.5" width="47" height="67" stroke="#840000" stroke-width="1"/>
<rect x="1019.5" y="719.5" width="47" height="67" stroke="#840000" stroke-width="1"/>
<rect x="674.5" y="144.5" width="47" height="66" stroke="#840000" stroke-width="1"/>
<rect x="749.5" y="144.5" width="47" height="66" stroke="#840000" stroke-width="1"/>
<rect x="674.5" y="229.5" width="47" height="66" stroke="#840000" stroke-width="1"/>
<rect x="749.5" y="229.5" width="47" height="66" stroke="#840000" stroke-width="1"/>
<rect x="711.3" y="657.5" width="47" height="66" stroke="#840000" stroke-width="1"/>
<rect x="786.3" y="657.5" width="47" height="66" stroke="#840000" stroke-width="1"/>
<rect x="609.5" y="37.5" width="72" height="93" stroke="#840000" stroke-width="1"/>
<rect x="739.5" y="37.5" width="72" height="93" stroke="#840000" stroke-width="1"/>
<path d="M585.4 0 L585.4 14.6 L592 14.6" stroke="#840000" stroke-width="1" stroke-linecap="butt" stroke-linejoin="round"/>
<path d="M527 0 L527 14.6 L520 14.6" stroke="#840000" stroke-width="1" stroke-linecap="butt" stroke-linejoin="round"/>
<path d="M177.5 308.5 L168.5 314.5 L163.8 324.6 L164.8 334 L170.4 340.6" stroke="#840000" stroke-width="1" stroke-linecap="butt" stroke-linejoin="round"/>
<path d="M0 719.5 L11.5 719.5 L11.5 662" stroke="#840000" stroke-width="1" stroke-linecap="butt" stroke-linejoin="round"/>
<rect x="-7.5" y="808.5" width="67" height="91.5" stroke="#840000" stroke-width="1"/>
<rect x="90.5" y="808.5" width="67" height="91.5" stroke="#840000" stroke-width="1"/>
<rect x="195.5" y="808.5" width="67" height="91.5" stroke="#840000" stroke-width="1"/>
<rect x="303.5" y="809.5" width="67" height="90.5" stroke="#840000" stroke-width="1"/>
<rect x="402.5" y="809.5" width="67" height="90.5" stroke="#840000" stroke-width="1"/>
<rect x="503.5" y="809.5" width="67" height="90.5" stroke="#840000" stroke-width="1"/>
<rect x="602.5" y="809.5" width="67" height="90.5" stroke="#840000" stroke-width="1"/>
<rect x="701.5" y="809.5" width="67" height="90.5" stroke="#840000" stroke-width="1"/>
<rect x="801.5" y="809.5" width="67" height="90.5" stroke="#840000" stroke-width="1"/>
<rect x="900.5" y="809.5" width="67" height="90.5" stroke="#840000" stroke-width="1"/>
</g>
<g>
<path d="M159.5 141 L159.5 99.5 L214.5 99.5 L214.5 141" stroke="#909090" stroke-width="1" stroke-linecap="butt" stroke-linejoin="miter"/>
<path d="M379.5 141 L379.5 99.5 L434.5 99.5 L434.5 141" stroke="#909090" stroke-width="1" stroke-linecap="butt" stroke-linejoin="miter"/>
<path d="M716 144.5 L674.5 144.5 L674.5 205.5 L716 205.5" stroke="#909090" stroke-width="1" stroke-linecap="butt" stroke-linejoin="miter"/>
<path d="M755 144.5 L796.5 144.5 L796.5 205.5 L755 205.5" stroke="#909090" stroke-width="1" stroke-linecap="butt" stroke-linejoin="miter"/>
<path d="M716 234.5 L674.5 234.5 L674.5 289.5 L716 289.5" stroke="#909090" stroke-width="1" stroke-linecap="butt" stroke-linejoin="miter"/>
<path d="M755 234.5 L796.5 234.5 L796.5 289.5 L755 289.5" stroke="#909090" stroke-width="1" stroke-linecap="butt" stroke-linejoin="miter"/>
<path d="M752.8 662.5 L711.3 662.5 L711.3 717.5 L752.8 717.5" stroke="#909090" stroke-width="1" stroke-linecap="butt" stroke-linejoin="miter"/>
<path d="M791.8 662.5 L833.3 662.5 L833.3 717.5 L791.8 717.5" stroke="#909090" stroke-width="1" stroke-linecap="butt" stroke-linejoin="miter"/>
<path d="M677 37.5 L609.5 37.5 L609.5 130.5 L677 130.5" stroke="#909090" stroke-width="1" stroke-linecap="butt" stroke-linejoin="miter"/>
<path d="M744 37.5 L811.5 37.5 L811.5 130.5 L744 130.5" stroke="#909090" stroke-width="1" stroke-linecap="butt" stroke-linejoin="miter"/>
<path d="M455.5 0 L455.5 14.5 L522.5 14.5" stroke="#909090" stroke-width="1" stroke-linecap="butt" stroke-linejoin="miter"/>
<path d="M591 14.5 L657.5 14.5 L657.5 0" stroke="#909090" stroke-width="1" stroke-linecap="butt" stroke-linejoin="miter"/>
<path d="M0 528.5 L46.5 528.5 L46.5 620.5 L0 620.5" stroke="#909090" stroke-width="1" stroke-linecap="butt" stroke-linejoin="miter"/>
</g>
<g>
<path transform="translate(947.2 204.2) rotate(0)" d="M-18.1 -1.4 L-18.3 -2.0 L-18.7 -2.5 L-19.1 -2.8 L-19.8 -2.8 L-20.2 -2.5 L-20.6 -2.0 L-20.8 -1.4 L-21.0 -0.7 L-21.0 0.7 L-20.8 1.4 L-20.6 2.0 L-20.2 2.5 L-19.8 2.8 L-19.1 2.8 L-18.7 2.5 L-18.3 2.0 L-18.1 1.4 L-18.1 0.7 M-19.1 0.7 L-18.1 0.7 M-16.2 -2.8 L-16.2 2.8 M-16.2 -2.8 L-13.3 2.8 M-13.3 -2.8 L-13.3 2.8 M-11.1 -2.8 L-11.1 2.8 M-11.1 -2.8 L-9.7 -2.8 L-9.1 -2.5 L-8.6 -2.0 L-8.4 -1.4 L-8.2 -0.7 L-8.2 0.7 L-8.4 1.4 L-8.6 2.0 L-9.1 2.5 L-9.7 2.8 L-11.1 2.8 M-7.4 3.5 L-2.9 3.5 M0.8 -1.4 L0.6 -2.0 L0.2 -2.5 L-0.1 -2.8 L-0.9 -2.8 L-1.3 -2.5 L-1.7 -2.0 L-1.9 -1.4 L-2.1 -0.7 L-2.1 0.7 L-1.9 1.4 L-1.7 2.0 L-1.3 2.5 L-0.9 2.8 L-0.1 2.8 L0.2 2.5 L0.6 2.0 L0.8 1.4 M2.8 -2.8 L2.8 2.8 M5.7 -2.8 L5.7 2.8 M2.8 -0.1 L5.7 -0.1 M8.8 -2.8 L7.2 2.8 M8.8 -2.8 L10.5 2.8 M7.8 0.9 L9.8 0.9 M14.6 -2.0 L14.2 -2.5 L13.6 -2.8 L12.8 -2.8 L12.1 -2.5 L11.7 -2.0 L11.7 -1.4 L11.9 -0.9 L12.1 -0.7 L12.6 -0.4 L13.8 0.1 L14.2 0.4 L14.4 0.7 L14.6 1.2 L14.6 2.0 L14.2 2.5 L13.6 2.8 L12.8 2.8 L12.1 2.5 L11.7 2.0 M16.4 -2.8 L16.4 2.8 M21.0 -2.0 L20.6 -2.5 L20.0 -2.8 L19.1 -2.8 L18.5 -2.5 L18.1 -2.0 L18.1 -1.4 L18.3 -0.9 L18.5 -0.7 L18.9 -0.4 L20.2 0.1 L20.6 0.4 L20.8 0.7 L21.0 1.2 L21.0 2.0 L20.6 2.5 L20.0 2.8 L19.1 2.8 L18.5 2.5 L18.1 2.0" stroke="#ffffff" stroke-width="1"/>
<path transform="translate(947.2 304.2) rotate(0)" d="M-22.2 -2.1 L-22.2 2.1 M-22.2 -2.1 L-20.1 2.1 M-20.1 -2.1 L-20.1 2.1 M-18.7 0.5 L-16.8 0.5 L-16.8 0.1 L-17.0 -0.3 L-17.1 -0.5 L-17.4 -0.7 L-17.9 -0.7 L-18.2 -0.5 L-18.5 -0.1 L-18.7 0.5 L-18.7 0.9 L-18.5 1.5 L-18.2 1.9 L-17.9 2.1 L-17.4 2.1 L-17.1 1.9 L-16.8 1.5 M-15.4 -2.1 L-15.4 1.3 L-15.2 1.9 L-14.9 2.1 L-14.6 2.1 M-15.9 -0.7 L-14.7 -0.7 M-13.6 0.3 L-10.6 0.3 M-8.1 -3.0 L-8.5 -2.6 L-8.8 -1.9 L-9.1 -1.1 L-9.3 -0.1 L-9.3 0.7 L-9.1 1.7 L-8.8 2.6 L-8.5 3.2 L-8.1 3.6 M-6.8 -2.1 L-6.8 2.1 M-6.8 -2.1 L-5.4 -2.1 L-5.0 -1.9 L-4.8 -1.7 L-4.7 -1.3 L-4.7 -0.9 L-4.8 -0.5 L-5.0 -0.3 L-5.4 -0.1 L-6.8 -0.1 M-5.8 -0.1 L-4.7 2.1 M-3.1 -2.1 L-1.4 -2.1 L-2.3 -0.5 L-1.9 -0.5 L-1.6 -0.3 L-1.4 -0.1 L-1.3 0.5 L-1.3 0.9 L-1.4 1.5 L-1.7 1.9 L-2.2 2.1 L-2.6 2.1 L-3.1 1.9 L-3.3 1.7 L-3.4 1.3 M0.8 -2.1 L0.3 -1.9 L0.2 -1.5 L0.2 -1.1 L0.3 -0.7 L0.6 -0.5 L1.2 -0.3 L1.7 -0.1 L2.0 0.3 L2.2 0.7 L2.2 1.3 L2.0 1.7 L1.9 1.9 L1.4 2.1 L0.8 2.1 L0.3 1.9 L0.2 1.7 L0.0 1.3 L0.0 0.7 L0.2 0.3 L0.5 -0.1 L0.9 -0.3 L1.6 -0.5 L1.9 -0.7 L2.0 -1.1 L2.0 -1.5 L1.9 -1.9 L1.4 -2.1 L0.8 -2.1 M3.5 0.3 L6.4 0.3 M7.9 -2.1 L7.9 2.1 M7.9 -2.1 L9.3 -2.1 L9.7 -1.9 L9.9 -1.7 L10.0 -1.3 L10.0 -0.7 L9.9 -0.3 L9.7 -0.1 L9.3 0.1 L7.9 0.1 M13.2 -0.7 L13.2 2.1 M13.2 -0.1 L12.8 -0.5 L12.5 -0.7 L12.1 -0.7 L11.8 -0.5 L11.5 -0.1 L11.3 0.5 L11.3 0.9 L11.5 1.5 L11.8 1.9 L12.1 2.1 L12.5 2.1 L12.8 1.9 L13.2 1.5 M16.4 -2.1 L16.4 2.1 M16.4 -0.1 L16.1 -0.5 L15.8 -0.7 L15.3 -0.7 L15.0 -0.5 L14.7 -0.1 L14.6 0.5 L14.6 0.9 L14.7 1.5 L15.0 1.9 L15.3 2.1 L15.8 2.1 L16.1 1.9 L16.4 1.5 M17.9 -1.1 L17.9 -1.3 L18.0 -1.7 L18.2 -1.9 L18.5 -2.1 L19.3 -2.1 L19.6 -1.9 L19.8 -1.7 L20.0 -1.3 L20.0 -0.9 L19.8 -0.5 L19.5 0.1 L17.8 2.1 L20.0 2.1 M21.1 -3.0 L21.4 -2.6 L21.8 -1.9 L22.1 -1.1 L22.2 -0.1 L22.2 0.7 L22.1 1.7 L21.8 2.6 L21.4 3.2 L21.1 3.6" stroke="#ffffff" stroke-width="1"/>
<path transform="translate(947.2 404.8) rotate(0)" d="M-16.2 -3.2 L-16.2 4.5 M-20.2 0.6 L-12.2 0.6 M-7.8 -4.5 L-3.2 -4.5 L-5.7 -1.1 L-4.5 -1.1 L-3.6 -0.6 L-3.2 -0.2 L-2.8 1.1 L-2.8 1.9 L-3.2 3.2 L-4.0 4.1 L-5.3 4.5 L-6.6 4.5 L-7.8 4.1 L-8.2 3.6 L-8.6 2.8 M1.2 3.6 L0.7 4.1 L1.2 4.5 L1.6 4.1 L1.2 3.6 M6.0 -4.5 L10.6 -4.5 L8.1 -1.1 L9.3 -1.1 L10.2 -0.6 L10.6 -0.2 L11.0 1.1 L11.0 1.9 L10.6 3.2 L9.7 4.1 L8.5 4.5 L7.2 4.5 L6.0 4.1 L5.6 3.6 L5.1 2.8 M13.6 -4.5 L16.9 4.5 M20.2 -4.5 L16.9 4.5" stroke="#ffffff" stroke-width="1"/>
<path transform="translate(947.2 504.2) rotate(0)" d="M-22.2 -2.1 L-22.2 2.1 M-22.2 -2.1 L-20.1 2.1 M-20.1 -2.1 L-20.1 2.1 M-18.7 0.5 L-16.8 0.5 L-16.8 0.1 L-17.0 -0.3 L-17.1 -0.5 L-17.4 -0.7 L-17.9 -0.7 L-18.2 -0.5 L-18.5 -0.1 L-18.7 0.5 L-18.7 0.9 L-18.5 1.5 L-18.2 1.9 L-17.9 2.1 L-17.4 2.1 L-17.1 1.9 L-16.8 1.5 M-15.4 -2.1 L-15.4 1.3 L-15.2 1.9 L-14.9 2.1 L-14.6 2.1 M-15.9 -0.7 L-14.7 -0.7 M-13.6 0.3 L-10.6 0.3 M-8.1 -3.0 L-8.5 -2.6 L-8.8 -1.9 L-9.1 -1.1 L-9.3 -0.1 L-9.3 0.7 L-9.1 1.7 L-8.8 2.6 L-8.5 3.2 L-8.1 3.6 M-6.8 -2.1 L-6.8 2.1 M-6.8 -2.1 L-5.4 -2.1 L-5.0 -1.9 L-4.8 -1.7 L-4.7 -1.3 L-4.7 -0.9 L-4.8 -0.5 L-5.0 -0.3 L-5.4 -0.1 L-6.8 -0.1 M-5.8 -0.1 L-4.7 2.1 M-2.5 -2.1 L-3.3 0.8 L-1.2 0.8 M-1.7 -0.6 L-1.7 2.1 M0.9 -2.1 L0.5 -1.9 L0.2 -1.3 L0.0 -0.3 L0.0 0.3 L0.2 1.3 L0.5 1.9 L0.9 2.1 L1.2 2.1 L1.7 1.9 L2.0 1.3 L2.2 0.3 L2.2 -0.3 L2.0 -1.3 L1.7 -1.9 L1.2 -2.1 L0.9 -2.1 M3.5 0.3 L6.4 0.3 M7.9 -2.1 L7.9 2.1 M7.9 -2.1 L9.3 -2.1 L9.7 -1.9 L9.9 -1.7 L10.0 -1.3 L10.0 -0.7 L9.9 -0.3 L9.7 -0.1 L9.3 0.1 L7.9 0.1 M13.2 -0.7 L13.2 2.1 M13.2 -0.1 L12.8 -0.5 L12.5 -0.7 L12.1 -0.7 L11.8 -0.5 L11.5 -0.1 L11.3 0.5 L11.3 0.9 L11.5 1.5 L11.8 1.9 L12.1 2.1 L12.5 2.1 L12.8 1.9 L13.2 1.5 M16.4 -2.1 L16.4 2.1 M16.4 -0.1 L16.1 -0.5 L15.8 -0.7 L15.3 -0.7 L15.0 -0.5 L14.7 -0.1 L14.6 0.5 L14.6 0.9 L14.7 1.5 L15.0 1.9 L15.3 2.1 L15.8 2.1 L16.1 1.9 L16.4 1.5 M17.9 -1.1 L17.9 -1.3 L18.0 -1.7 L18.2 -1.9 L18.5 -2.1 L19.3 -2.1 L19.6 -1.9 L19.8 -1.7 L20.0 -1.3 L20.0 -0.9 L19.8 -0.5 L19.5 0.1 L17.8 2.1 L20.0 2.1 M21.1 -3.0 L21.4 -2.6 L21.8 -1.9 L22.1 -1.1 L22.2 -0.1 L22.2 0.7 L22.1 1.7 L21.8 2.6 L21.4 3.2 L21.1 3.6" stroke="#ffffff" stroke-width="1"/>
<path transform="translate(1047.1 254.3) rotate(0)" d="M-22.0 -2.2 L-22.0 2.2 M-22.0 -2.2 L-19.7 2.2 M-19.7 -2.2 L-19.7 2.2 M-18.2 0.5 L-16.2 0.5 L-16.2 0.1 L-16.4 -0.3 L-16.6 -0.5 L-16.9 -0.7 L-17.4 -0.7 L-17.7 -0.5 L-18.0 -0.1 L-18.2 0.5 L-18.2 0.9 L-18.0 1.5 L-17.7 1.9 L-17.4 2.2 L-16.9 2.2 L-16.6 1.9 L-16.2 1.5 M-14.7 -2.2 L-14.7 1.3 L-14.5 1.9 L-14.2 2.2 L-13.8 2.2 M-15.2 -0.7 L-14.0 -0.7 M-12.7 0.3 L-9.6 0.3 M-6.9 -3.0 L-7.3 -2.6 L-7.6 -1.9 L-8.0 -1.1 L-8.2 -0.1 L-8.2 0.7 L-8.0 1.7 L-7.6 2.6 L-7.3 3.2 L-6.9 3.6 M-5.5 -2.2 L-5.5 0.9 L-5.4 1.5 L-5.1 1.9 L-4.6 2.2 L-4.2 2.2 L-3.7 1.9 L-3.4 1.5 L-3.3 0.9 L-3.3 -2.2 M0.2 -2.2 L-1.4 -2.2 L-1.6 -0.3 L-1.4 -0.5 L-0.9 -0.7 L-0.4 -0.7 L0.1 -0.5 L0.4 -0.1 L0.6 0.5 L0.6 0.9 L0.4 1.5 L0.1 1.9 L-0.4 2.2 L-0.9 2.2 L-1.4 1.9 L-1.6 1.7 L-1.7 1.3 M2.0 0.3 L5.1 0.3 M6.7 -2.2 L6.7 2.2 M6.7 -2.2 L8.2 -2.2 L8.6 -1.9 L8.8 -1.7 L9.0 -1.3 L9.0 -0.7 L8.8 -0.3 L8.6 -0.1 L8.2 0.1 L6.7 0.1 M12.3 -0.7 L12.3 2.2 M12.3 -0.1 L12.0 -0.5 L11.6 -0.7 L11.1 -0.7 L10.8 -0.5 L10.5 -0.1 L10.3 0.5 L10.3 0.9 L10.5 1.5 L10.8 1.9 L11.1 2.2 L11.6 2.2 L12.0 1.9 L12.3 1.5 M15.8 -2.2 L15.8 2.2 M15.8 -0.1 L15.4 -0.5 L15.1 -0.7 L14.6 -0.7 L14.3 -0.5 L14.0 -0.1 L13.8 0.5 L13.8 0.9 L14.0 1.5 L14.3 1.9 L14.6 2.2 L15.1 2.2 L15.4 1.9 L15.8 1.5 M19.6 -2.2 L17.9 2.2 M17.3 -2.2 L19.6 -2.2 M20.8 -3.0 L21.1 -2.6 L21.5 -1.9 L21.8 -1.1 L22.0 -0.1 L22.0 0.7 L21.8 1.7 L21.5 2.6 L21.1 3.2 L20.8 3.6" stroke="#ffffff" stroke-width="1"/>
<path transform="translate(1047.5 354.6) rotate(0)" d="M-16.2 -3.2 L-16.2 4.5 M-20.2 0.6 L-12.2 0.6 M-7.8 -4.5 L-3.2 -4.5 L-5.7 -1.1 L-4.5 -1.1 L-3.6 -0.6 L-3.2 -0.2 L-2.8 1.1 L-2.8 1.9 L-3.2 3.2 L-4.0 4.1 L-5.3 4.5 L-6.6 4.5 L-7.8 4.1 L-8.2 3.6 L-8.6 2.8 M1.2 3.6 L0.7 4.1 L1.2 4.5 L1.6 4.1 L1.2 3.6 M6.0 -4.5 L10.6 -4.5 L8.1 -1.1 L9.3 -1.1 L10.2 -0.6 L10.6 -0.2 L11.0 1.1 L11.0 1.9 L10.6 3.2 L9.7 4.1 L8.5 4.5 L7.2 4.5 L6.0 4.1 L5.6 3.6 L5.1 2.8 M13.6 -4.5 L16.9 4.5 M20.2 -4.5 L16.9 4.5" stroke="#ffffff" stroke-width="1"/>
<path transform="translate(1047.5 453.8) rotate(0)" d="M-22.2 -2.1 L-22.2 2.1 M-22.2 -2.1 L-20.1 2.1 M-20.1 -2.1 L-20.1 2.1 M-18.7 0.5 L-16.8 0.5 L-16.8 0.1 L-17.0 -0.3 L-17.1 -0.5 L-17.4 -0.7 L-17.9 -0.7 L-18.2 -0.5 L-18.5 -0.1 L-18.7 0.5 L-18.7 0.9 L-18.5 1.5 L-18.2 1.9 L-17.9 2.1 L-17.4 2.1 L-17.1 1.9 L-16.8 1.5 M-15.4 -2.1 L-15.4 1.3 L-15.2 1.9 L-14.9 2.1 L-14.6 2.1 M-15.9 -0.7 L-14.7 -0.7 M-13.6 0.3 L-10.6 0.3 M-8.1 -3.0 L-8.5 -2.6 L-8.8 -1.9 L-9.1 -1.1 L-9.3 -0.1 L-9.3 0.7 L-9.1 1.7 L-8.8 2.6 L-8.5 3.2 L-8.1 3.6 M-6.8 -2.1 L-6.8 2.1 M-6.8 -2.1 L-5.4 -2.1 L-5.0 -1.9 L-4.8 -1.7 L-4.7 -1.3 L-4.7 -0.9 L-4.8 -0.5 L-5.0 -0.3 L-5.4 -0.1 L-6.8 -0.1 M-5.8 -0.1 L-4.7 2.1 M-3.1 -2.1 L-1.4 -2.1 L-2.3 -0.5 L-1.9 -0.5 L-1.6 -0.3 L-1.4 -0.1 L-1.3 0.5 L-1.3 0.9 L-1.4 1.5 L-1.7 1.9 L-2.2 2.1 L-2.6 2.1 L-3.1 1.9 L-3.3 1.7 L-3.4 1.3 M2.2 -0.7 L2.0 -0.1 L1.7 0.3 L1.2 0.5 L1.0 0.5 L0.5 0.3 L0.2 -0.1 L0.0 -0.7 L0.0 -0.9 L0.2 -1.5 L0.5 -1.9 L1.0 -2.1 L1.2 -2.1 L1.7 -1.9 L2.0 -1.5 L2.2 -0.7 L2.2 0.3 L2.0 1.3 L1.7 1.9 L1.2 2.1 L0.8 2.1 L0.3 1.9 L0.2 1.5 M3.5 0.3 L6.4 0.3 M7.9 -2.1 L7.9 2.1 M7.9 -2.1 L9.3 -2.1 L9.7 -1.9 L9.9 -1.7 L10.0 -1.3 L10.0 -0.7 L9.9 -0.3 L9.7 -0.1 L9.3 0.1 L7.9 0.1 M13.2 -0.7 L13.2 2.1 M13.2 -0.1 L12.8 -0.5 L12.5 -0.7 L12.1 -0.7 L11.8 -0.5 L11.5 -0.1 L11.3 0.5 L11.3 0.9 L11.5 1.5 L11.8 1.9 L12.1 2.1 L12.5 2.1 L12.8 1.9 L13.2 1.5 M16.4 -2.1 L16.4 2.1 M16.4 -0.1 L16.1 -0.5 L15.8 -0.7 L15.3 -0.7 L15.0 -0.5 L14.7 -0.1 L14.6 0.5 L14.6 0.9 L14.7 1.5 L15.0 1.9 L15.3 2.1 L15.8 2.1 L16.1 1.9 L16.4 1.5 M17.9 -1.1 L17.9 -1.3 L18.0 -1.7 L18.2 -1.9 L18.5 -2.1 L19.3 -2.1 L19.6 -1.9 L19.8 -1.7 L20.0 -1.3 L20.0 -0.9 L19.8 -0.5 L19.5 0.1 L17.8 2.1 L20.0 2.1 M21.1 -3.0 L21.4 -2.6 L21.8 -1.9 L22.1 -1.1 L22.2 -0.1 L22.2 0.7 L22.1 1.7 L21.8 2.6 L21.4 3.2 L21.1 3.6" stroke="#ffffff" stroke-width="1"/>
<path transform="translate(1065 541.7) rotate(-90)" d="M-16.6 -2.0 L-16.6 2.0 M-16.6 -2.0 L-15.0 2.0 M-15.0 -2.0 L-15.0 2.0 M-13.9 0.5 L-12.6 0.5 L-12.6 0.1 L-12.7 -0.3 L-12.8 -0.5 L-13.0 -0.7 L-13.4 -0.7 L-13.6 -0.5 L-13.8 -0.1 L-13.9 0.5 L-13.9 0.9 L-13.8 1.4 L-13.6 1.8 L-13.4 2.0 L-13.0 2.0 L-12.8 1.8 L-12.6 1.4 M-11.5 -2.0 L-11.5 1.2 L-11.4 1.8 L-11.1 2.0 L-10.9 2.0 M-11.9 -0.7 L-11.0 -0.7 M-10.1 0.3 L-7.9 0.3 M-6.1 -2.8 L-6.3 -2.4 L-6.6 -1.8 L-6.8 -1.0 L-6.9 -0.1 L-6.9 0.7 L-6.8 1.6 L-6.6 2.4 L-6.3 3.0 L-6.1 3.3 M-5.1 -2.0 L-5.1 2.0 M-5.1 -2.0 L-4.1 -2.0 L-3.7 -1.8 L-3.6 -1.6 L-3.5 -1.2 L-3.5 -0.9 L-3.6 -0.5 L-3.7 -0.3 L-4.1 -0.1 L-5.1 -0.1 M-4.3 -0.1 L-3.5 2.0 M-1.8 -2.0 L-2.5 0.7 L-0.9 0.7 M-1.3 -0.6 L-1.3 2.0 M0.4 -1.2 L0.6 -1.4 L0.9 -2.0 L0.9 2.0 M0.2 2.0 L1.6 2.0 M2.6 0.3 L4.8 0.3 M5.9 -2.0 L5.9 2.0 M5.9 -2.0 L6.9 -2.0 L7.3 -1.8 L7.4 -1.6 L7.5 -1.2 L7.5 -0.7 L7.4 -0.3 L7.3 -0.1 L6.9 0.1 L5.9 0.1 M9.8 -0.7 L9.8 2.0 M9.8 -0.1 L9.6 -0.5 L9.4 -0.7 L9.0 -0.7 L8.8 -0.5 L8.6 -0.1 L8.4 0.5 L8.4 0.9 L8.6 1.4 L8.8 1.8 L9.0 2.0 L9.4 2.0 L9.6 1.8 L9.8 1.4 M12.2 -2.0 L12.2 2.0 M12.2 -0.1 L12.0 -0.5 L11.8 -0.7 L11.4 -0.7 L11.2 -0.5 L11.0 -0.1 L10.9 0.5 L10.9 0.9 L11.0 1.4 L11.2 1.8 L11.4 2.0 L11.8 2.0 L12.0 1.8 L12.2 1.4 M13.3 -1.0 L13.3 -1.2 L13.5 -1.6 L13.6 -1.8 L13.8 -2.0 L14.4 -2.0 L14.6 -1.8 L14.8 -1.6 L14.9 -1.2 L14.9 -0.9 L14.8 -0.5 L14.6 0.1 L13.3 2.0 L14.9 2.0 M15.7 -2.8 L16.0 -2.4 L16.2 -1.8 L16.5 -1.0 L16.6 -0.1 L16.6 0.7 L16.5 1.6 L16.2 2.4 L16.0 3.0 L15.7 3.3" stroke="#ffffff" stroke-width="1"/>
</g>
<g>
<path transform="translate(199.5 345) rotate(0)" d="M-16.5 -2.0 L-16.5 2.0 M-16.5 -2.0 L-15.0 -2.0 L-14.5 -1.8 L-14.4 -1.6 L-14.2 -1.2 L-14.2 -0.9 L-14.4 -0.5 L-14.5 -0.3 L-15.0 -0.1 L-16.5 -0.1 M-15.4 -0.1 L-14.2 2.0 M-12.7 -2.0 L-12.7 2.0 M-12.7 -2.0 L-11.3 2.0 M-10.0 -2.0 L-11.3 2.0 M-10.0 -2.0 L-10.0 2.0 M-8.5 -2.0 L-8.5 2.0 M-7.1 -2.0 L-7.1 2.0 M-6.4 2.6 L-2.8 2.6 M-1.2 -2.0 L-1.5 -1.8 L-1.8 -1.4 L-2.0 -1.0 L-2.1 -0.5 L-2.1 0.5 L-2.0 1.0 L-1.8 1.4 L-1.5 1.8 L-1.2 2.0 L-0.5 2.0 L-0.2 1.8 L0.1 1.4 L0.3 1.0 L0.5 0.5 L0.5 -0.5 L0.3 -1.0 L0.1 -1.4 L-0.2 -1.8 L-0.5 -2.0 L-1.2 -2.0 M4.1 -1.4 L3.8 -1.8 L3.3 -2.0 L2.7 -2.0 L2.2 -1.8 L1.8 -1.4 L1.8 -1.0 L2.0 -0.7 L2.2 -0.5 L2.5 -0.3 L3.5 0.1 L3.8 0.3 L4.0 0.5 L4.1 0.9 L4.1 1.4 L3.8 1.8 L3.3 2.0 L2.7 2.0 L2.2 1.8 L1.8 1.4 M7.8 -1.0 L7.6 -1.4 L7.3 -1.8 L7.0 -2.0 L6.4 -2.0 L6.1 -1.8 L5.8 -1.4 L5.6 -1.0 L5.5 -0.5 L5.5 0.5 L5.6 1.0 L5.8 1.4 L6.1 1.8 L6.4 2.0 L7.0 2.0 L7.3 1.8 L7.6 1.4 L7.8 1.0 M8.4 2.6 L12.0 2.6 M12.7 -2.0 L12.7 2.0 M14.2 -2.0 L14.2 2.0 M14.2 -2.0 L16.5 2.0 M16.5 -2.0 L16.5 2.0" stroke="#ffffff" stroke-width="1"/>
<path transform="translate(391.2 345) rotate(0)" d="M-17.2 -2.0 L-17.2 2.0 M-17.2 -2.0 L-16.0 -2.0 L-15.5 -1.8 L-15.4 -1.6 L-15.2 -1.2 L-15.2 -0.9 L-15.4 -0.5 L-15.5 -0.3 L-16.0 -0.1 L-17.2 -0.1 M-16.2 -0.1 L-15.2 2.0 M-13.9 -2.0 L-13.9 2.0 M-13.9 -2.0 L-12.7 2.0 M-11.5 -2.0 L-12.7 2.0 M-11.5 -2.0 L-11.5 2.0 M-10.1 -2.0 L-10.1 2.0 M-8.9 -2.0 L-8.9 2.0 M-8.3 2.6 L-5.2 2.6 M-3.7 -2.0 L-4.0 -1.8 L-4.3 -1.4 L-4.4 -1.0 L-4.6 -0.5 L-4.6 0.5 L-4.4 1.0 L-4.3 1.4 L-4.0 1.8 L-3.7 2.0 L-3.1 2.0 L-2.8 1.8 L-2.5 1.4 L-2.4 1.0 L-2.3 0.5 L-2.3 -0.5 L-2.4 -1.0 L-2.5 -1.4 L-2.8 -1.8 L-3.1 -2.0 L-3.7 -2.0 M1.0 -1.4 L0.7 -1.8 L0.2 -2.0 L-0.3 -2.0 L-0.8 -1.8 L-1.0 -1.4 L-1.0 -1.0 L-0.9 -0.7 L-0.8 -0.5 L-0.5 -0.3 L0.4 0.1 L0.7 0.3 L0.8 0.5 L1.0 0.9 L1.0 1.4 L0.7 1.8 L0.2 2.0 L-0.3 2.0 L-0.8 1.8 L-1.0 1.4 M4.2 -1.0 L4.0 -1.4 L3.8 -1.8 L3.5 -2.0 L3.0 -2.0 L2.7 -1.8 L2.4 -1.4 L2.3 -1.0 L2.2 -0.5 L2.2 0.5 L2.3 1.0 L2.4 1.4 L2.7 1.8 L3.0 2.0 L3.5 2.0 L3.8 1.8 L4.0 1.4 L4.2 1.0 M4.8 2.6 L7.9 2.6 M9.4 -2.0 L9.1 -1.8 L8.8 -1.4 L8.6 -1.0 L8.5 -0.5 L8.5 0.5 L8.6 1.0 L8.8 1.4 L9.1 1.8 L9.4 2.0 L9.9 2.0 L10.2 1.8 L10.5 1.4 L10.7 1.0 L10.8 0.5 L10.8 -0.5 L10.7 -1.0 L10.5 -1.4 L10.2 -1.8 L9.9 -2.0 L9.4 -2.0 M12.2 -2.0 L12.2 0.9 L12.3 1.4 L12.6 1.8 L13.0 2.0 L13.3 2.0 L13.8 1.8 L14.1 1.4 L14.2 0.9 L14.2 -2.0 M16.2 -2.0 L16.2 2.0 M15.2 -2.0 L17.2 -2.0" stroke="#ffffff" stroke-width="1"/>
<path transform="translate(187.1 113.9) rotate(0)" d="M-9.3 -3.3 L-9.8 -4.5 L-10.8 -5.7 L-11.9 -6.3 L-13.9 -6.3 L-14.9 -5.7 L-16.0 -4.5 L-16.5 -3.3 L-17.0 -1.5 L-17.0 1.5 L-16.5 3.3 L-16.0 4.5 L-14.9 5.7 L-13.9 6.3 L-11.9 6.3 L-10.8 5.7 L-9.8 4.5 L-9.3 3.3 L-9.3 1.5 M-11.9 1.5 L-9.3 1.5 M-4.1 -6.3 L-4.1 6.3 M-4.1 -6.3 L3.6 6.3 M3.6 -6.3 L3.6 6.3 M9.3 -6.3 L9.3 6.3 M9.3 -6.3 L13.1 -6.3 L14.8 -5.7 L15.9 -4.5 L16.4 -3.3 L17.0 -1.5 L17.0 1.5 L16.4 3.3 L15.9 4.5 L14.8 5.7 L13.1 6.3 L9.3 6.3" stroke="#ffffff" stroke-width="1"/>
<path transform="translate(187.1 131.4) rotate(0)" d="M-3.7 -2.9 L-3.7 -3.4 L-3.1 -4.5 L-2.6 -5.0 L-1.4 -5.5 L1.4 -5.5 L2.6 -5.0 L3.4 -4.5 L4.0 -3.4 L4.0 -2.4 L3.4 -1.3 L2.3 0.3 L-4.0 5.5 L4.0 5.5" stroke="#ffffff" stroke-width="1"/>
<path transform="translate(187.1 208.8) rotate(0)" d="M-2.9 -2.6 L-1.8 -3.0 L-0.0 -4.2 L-0.0 4.2 M-3.5 4.2 L3.5 4.2" stroke="#ffffff" stroke-width="1"/>
<path transform="translate(406.9 113.9) rotate(0)" d="M-9.3 -3.3 L-9.8 -4.5 L-10.8 -5.7 L-11.9 -6.3 L-13.9 -6.3 L-14.9 -5.7 L-16.0 -4.5 L-16.5 -3.3 L-17.0 -1.5 L-17.0 1.5 L-16.5 3.3 L-16.0 4.5 L-14.9 5.7 L-13.9 6.3 L-11.9 6.3 L-10.8 5.7 L-9.8 4.5 L-9.3 3.3 L-9.3 1.5 M-11.9 1.5 L-9.3 1.5 M-4.1 -6.3 L-4.1 6.3 M-4.1 -6.3 L3.6 6.3 M3.6 -6.3 L3.6 6.3 M9.3 -6.3 L9.3 6.3 M9.3 -6.3 L13.1 -6.3 L14.8 -5.7 L15.9 -4.5 L16.4 -3.3 L17.0 -1.5 L17.0 1.5 L16.4 3.3 L15.9 4.5 L14.8 5.7 L13.1 6.3 L9.3 6.3" stroke="#ffffff" stroke-width="1"/>
<path transform="translate(406.9 131.4) rotate(0)" d="M-3.7 -2.9 L-3.7 -3.4 L-3.1 -4.5 L-2.6 -5.0 L-1.4 -5.5 L1.4 -5.5 L2.6 -5.0 L3.4 -4.5 L4.0 -3.4 L4.0 -2.4 L3.4 -1.3 L2.3 0.3 L-4.0 5.5 L4.0 5.5" stroke="#ffffff" stroke-width="1"/>
<path transform="translate(406.9 208.8) rotate(0)" d="M-2.9 -2.6 L-1.8 -3.0 L-0.0 -4.2 L-0.0 4.2 M-3.5 4.2 L3.5 4.2" stroke="#ffffff" stroke-width="1"/>
<path transform="translate(187.5 190) rotate(0)" d="M-15.0 -2.0 L-15.0 2.0 M-15.0 -2.0 L-13.7 -2.0 L-13.2 -1.8 L-13.1 -1.6 L-12.9 -1.2 L-12.9 -0.9 L-13.1 -0.5 L-13.2 -0.3 L-13.7 -0.1 L-15.0 -0.1 M-14.0 -0.1 L-12.9 2.0 M-11.5 -2.0 L-11.5 2.0 M-11.5 -2.0 L-10.3 2.0 M-9.1 -2.0 L-10.3 2.0 M-9.1 -2.0 L-9.1 2.0 M-7.7 -2.0 L-7.7 2.0 M-6.4 -2.0 L-6.4 2.0 M-5.8 2.6 L-2.6 2.6 M-1.1 -2.0 L-1.4 -1.8 L-1.7 -1.4 L-1.8 -1.0 L-2.0 -0.5 L-2.0 0.5 L-1.8 1.0 L-1.7 1.4 L-1.4 1.8 L-1.1 2.0 L-0.5 2.0 L-0.2 1.8 L0.1 1.4 L0.3 1.0 L0.4 0.5 L0.4 -0.5 L0.3 -1.0 L0.1 -1.4 L-0.2 -1.8 L-0.5 -2.0 L-1.1 -2.0 M3.7 -1.4 L3.5 -1.8 L3.0 -2.0 L2.4 -2.0 L2.0 -1.8 L1.7 -1.4 L1.7 -1.0 L1.8 -0.7 L2.0 -0.5 L2.3 -0.3 L3.2 0.1 L3.5 0.3 L3.6 0.5 L3.7 0.9 L3.7 1.4 L3.5 1.8 L3.0 2.0 L2.4 2.0 L2.0 1.8 L1.7 1.4 M7.1 -1.0 L6.9 -1.4 L6.6 -1.8 L6.4 -2.0 L5.8 -2.0 L5.5 -1.8 L5.3 -1.4 L5.1 -1.0 L5.0 -0.5 L5.0 0.5 L5.1 1.0 L5.3 1.4 L5.5 1.8 L5.8 2.0 L6.4 2.0 L6.6 1.8 L6.9 1.4 L7.1 1.0 M7.7 2.6 L10.9 2.6 M11.5 -2.0 L11.5 2.0 M12.9 -2.0 L12.9 2.0 M12.9 -2.0 L15.0 2.0 M15.0 -2.0 L15.0 2.0" stroke="#ffffff" stroke-width="1"/>
<path transform="translate(409 190) rotate(0)" d="M-16.5 -2.0 L-16.5 2.0 M-16.5 -2.0 L-15.3 -2.0 L-14.8 -1.8 L-14.7 -1.6 L-14.6 -1.2 L-14.6 -0.9 L-14.7 -0.5 L-14.8 -0.3 L-15.3 -0.1 L-16.5 -0.1 M-15.5 -0.1 L-14.6 2.0 M-13.2 -2.0 L-13.2 2.0 M-13.2 -2.0 L-12.1 2.0 M-11.0 -2.0 L-12.1 2.0 M-11.0 -2.0 L-11.0 2.0 M-9.7 -2.0 L-9.7 2.0 M-8.5 -2.0 L-8.5 2.0 M-7.9 2.6 L-5.0 2.6 M-3.5 -2.0 L-3.8 -1.8 L-4.1 -1.4 L-4.2 -1.0 L-4.4 -0.5 L-4.4 0.5 L-4.2 1.0 L-4.1 1.4 L-3.8 1.8 L-3.5 2.0 L-3.0 2.0 L-2.7 1.8 L-2.4 1.4 L-2.3 1.0 L-2.2 0.5 L-2.2 -0.5 L-2.3 -1.0 L-2.4 -1.4 L-2.7 -1.8 L-3.0 -2.0 L-3.5 -2.0 M0.9 -1.4 L0.7 -1.8 L0.2 -2.0 L-0.3 -2.0 L-0.7 -1.8 L-1.0 -1.4 L-1.0 -1.0 L-0.9 -0.7 L-0.7 -0.5 L-0.5 -0.3 L0.4 0.1 L0.7 0.3 L0.8 0.5 L0.9 0.9 L0.9 1.4 L0.7 1.8 L0.2 2.0 L-0.3 2.0 L-0.7 1.8 L-1.0 1.4 M4.0 -1.0 L3.9 -1.4 L3.6 -1.8 L3.4 -2.0 L2.8 -2.0 L2.6 -1.8 L2.3 -1.4 L2.2 -1.0 L2.1 -0.5 L2.1 0.5 L2.2 1.0 L2.3 1.4 L2.6 1.8 L2.8 2.0 L3.4 2.0 L3.6 1.8 L3.9 1.4 L4.0 1.0 M4.6 2.6 L7.5 2.6 M9.0 -2.0 L8.7 -1.8 L8.4 -1.4 L8.3 -1.0 L8.1 -0.5 L8.1 0.5 L8.3 1.0 L8.4 1.4 L8.7 1.8 L9.0 2.0 L9.5 2.0 L9.8 1.8 L10.1 1.4 L10.2 1.0 L10.3 0.5 L10.3 -0.5 L10.2 -1.0 L10.1 -1.4 L9.8 -1.8 L9.5 -2.0 L9.0 -2.0 M11.6 -2.0 L11.6 0.9 L11.8 1.4 L12.1 1.8 L12.5 2.0 L12.8 2.0 L13.2 1.8 L13.4 1.4 L13.6 0.9 L13.6 -2.0 M15.5 -2.0 L15.5 2.0 M14.6 -2.0 L16.5 -2.0" stroke="#ffffff" stroke-width="1"/>
<path transform="translate(253.8 186.8) rotate(-90)" d="M-2.3 -2.7 L-1.4 -3.1 L-0.0 -4.3 L-0.0 4.3 M-2.8 4.3 L2.8 4.3" stroke="#ffffff" stroke-width="1"/>
<path transform="translate(330.5 186.5) rotate(-90)" d="M-3.7 -3.1 L-3.7 -3.7 L-3.1 -4.9 L-2.6 -5.4 L-1.4 -6.0 L1.4 -6.0 L2.6 -5.4 L3.4 -4.9 L4.0 -3.7 L4.0 -2.6 L3.4 -1.4 L2.3 0.3 L-4.0 6.0 L4.0 6.0" stroke="#ffffff" stroke-width="1"/>
<path transform="translate(274.2 186) rotate(-90)" d="M-15.5 -1.8 L-15.5 1.8 M-15.5 -1.8 L-14.1 -1.8 L-13.7 -1.6 L-13.5 -1.4 L-13.4 -1.1 L-13.4 -0.8 L-13.5 -0.4 L-13.7 -0.2 L-14.1 -0.1 L-15.5 -0.1 M-14.4 -0.1 L-13.4 1.8 M-11.9 -1.8 L-11.9 1.8 M-11.9 -1.8 L-10.7 1.8 M-9.4 -1.8 L-10.7 1.8 M-9.4 -1.8 L-9.4 1.8 M-7.9 -1.8 L-7.9 1.8 M-6.6 -1.8 L-6.6 1.8 M-6.0 2.2 L-2.7 2.2 M-1.1 -1.8 L-1.4 -1.6 L-1.7 -1.2 L-1.9 -0.9 L-2.0 -0.4 L-2.0 0.4 L-1.9 0.9 L-1.7 1.2 L-1.4 1.6 L-1.1 1.8 L-0.5 1.8 L-0.2 1.6 L0.1 1.2 L0.3 0.9 L0.4 0.4 L0.4 -0.4 L0.3 -0.9 L0.1 -1.2 L-0.2 -1.6 L-0.5 -1.8 L-1.1 -1.8 M3.9 -1.2 L3.6 -1.6 L3.1 -1.8 L2.5 -1.8 L2.0 -1.6 L1.7 -1.2 L1.7 -0.9 L1.9 -0.6 L2.0 -0.4 L2.3 -0.2 L3.3 0.1 L3.6 0.2 L3.7 0.4 L3.9 0.8 L3.9 1.2 L3.6 1.6 L3.1 1.8 L2.5 1.8 L2.0 1.6 L1.7 1.2 M7.3 -0.9 L7.1 -1.2 L6.9 -1.6 L6.6 -1.8 L6.0 -1.8 L5.7 -1.6 L5.4 -1.2 L5.3 -0.9 L5.1 -0.4 L5.1 0.4 L5.3 0.9 L5.4 1.2 L5.7 1.6 L6.0 1.8 L6.6 1.8 L6.9 1.6 L7.1 1.2 L7.3 0.9 M7.9 2.2 L11.2 2.2 M11.9 -1.8 L11.9 1.8 M13.4 -1.8 L13.4 1.8 M13.4 -1.8 L15.5 1.8 M15.5 -1.8 L15.5 1.8" stroke="#ffffff" stroke-width="1"/>
<path transform="translate(349.2 186) rotate(-90)" d="M-15.5 -1.8 L-15.5 1.8 M-15.5 -1.8 L-14.3 -1.8 L-13.9 -1.6 L-13.8 -1.4 L-13.7 -1.1 L-13.7 -0.8 L-13.8 -0.4 L-13.9 -0.2 L-14.3 -0.1 L-15.5 -0.1 M-14.6 -0.1 L-13.7 1.8 M-12.4 -1.8 L-12.4 1.8 M-12.4 -1.8 L-11.4 1.8 M-10.4 -1.8 L-11.4 1.8 M-10.4 -1.8 L-10.4 1.8 M-9.1 -1.8 L-9.1 1.8 M-8.0 -1.8 L-8.0 1.8 M-7.4 2.2 L-4.7 2.2 M-3.3 -1.8 L-3.6 -1.6 L-3.8 -1.2 L-4.0 -0.9 L-4.1 -0.4 L-4.1 0.4 L-4.0 0.9 L-3.8 1.2 L-3.6 1.6 L-3.3 1.8 L-2.8 1.8 L-2.5 1.6 L-2.3 1.2 L-2.2 0.9 L-2.0 0.4 L-2.0 -0.4 L-2.2 -0.9 L-2.3 -1.2 L-2.5 -1.6 L-2.8 -1.8 L-3.3 -1.8 M0.9 -1.2 L0.6 -1.6 L0.2 -1.8 L-0.3 -1.8 L-0.7 -1.6 L-0.9 -1.2 L-0.9 -0.9 L-0.8 -0.6 L-0.7 -0.4 L-0.4 -0.2 L0.4 0.1 L0.6 0.2 L0.7 0.4 L0.9 0.8 L0.9 1.2 L0.6 1.6 L0.2 1.8 L-0.3 1.8 L-0.7 1.6 L-0.9 1.2 M3.8 -0.9 L3.6 -1.2 L3.4 -1.6 L3.2 -1.8 L2.7 -1.8 L2.4 -1.6 L2.2 -1.2 L2.1 -0.9 L1.9 -0.4 L1.9 0.4 L2.1 0.9 L2.2 1.2 L2.4 1.6 L2.7 1.8 L3.2 1.8 L3.4 1.6 L3.6 1.2 L3.8 0.9 M4.3 2.2 L7.1 2.2 M8.4 -1.8 L8.2 -1.6 L7.9 -1.2 L7.8 -0.9 L7.6 -0.4 L7.6 0.4 L7.8 0.9 L7.9 1.2 L8.2 1.6 L8.4 1.8 L8.9 1.8 L9.2 1.6 L9.5 1.2 L9.6 0.9 L9.7 0.4 L9.7 -0.4 L9.6 -0.9 L9.5 -1.2 L9.2 -1.6 L8.9 -1.8 L8.4 -1.8 M10.9 -1.8 L10.9 0.8 L11.1 1.2 L11.3 1.6 L11.7 1.8 L12.0 1.8 L12.4 1.6 L12.6 1.2 L12.8 0.8 L12.8 -1.8 M14.6 -1.8 L14.6 1.8 M13.7 -1.8 L15.5 -1.8" stroke="#ffffff" stroke-width="1"/>
<path transform="translate(323.6 541.9) rotate(0)" d="M-17.1 -5.9 L-18.1 -8.1 L-20.0 -10.3 L-21.8 -11.4 L-25.6 -11.4 L-27.5 -10.3 L-29.4 -8.1 L-30.4 -5.9 L-31.3 -2.7 L-31.3 2.7 L-30.4 5.9 L-29.4 8.1 L-27.5 10.3 L-25.6 11.4 L-21.8 11.4 L-20.0 10.3 L-18.1 8.1 L-17.1 5.9 L-17.1 2.7 M-21.8 2.7 L-17.1 2.7 M-7.6 -11.4 L-7.6 11.4 M-7.6 -11.4 L6.6 11.4 M6.6 -11.4 L6.6 11.4 M17.1 -11.4 L17.1 11.4 M17.1 -11.4 L24.2 -11.4 L27.2 -10.3 L29.3 -8.1 L30.3 -5.9 L31.3 -2.7 L31.3 2.7 L30.3 5.9 L29.3 8.1 L27.2 10.3 L24.2 11.4 L17.1 11.4" stroke="#ffffff" stroke-width="1"/>
<path transform="translate(323.2 590.9) rotate(0)" d="M-18.6 -6.1 L-18.6 -7.2 L-17.6 -9.4 L-16.5 -10.5 L-14.4 -11.6 L-9.1 -11.6 L-7.0 -10.5 L-5.4 -9.4 L-4.4 -7.2 L-4.4 -5.0 L-5.4 -2.8 L-7.5 0.6 L-19.1 11.6 L-4.4 11.6 M17.0 -11.6 L6.5 -11.6 L5.4 -1.7 L6.5 -2.8 L9.6 -3.9 L12.8 -3.9 L16.0 -2.8 L18.1 -0.6 L19.1 2.8 L19.1 5.0 L18.1 8.3 L16.0 10.5 L12.8 11.6 L9.6 11.6 L6.5 10.5 L5.4 9.4 L4.4 7.2" stroke="#ffffff" stroke-width="1"/>
<path transform="translate(274.1 488) rotate(-90)" d="M1.3 -1.1 L1.0 -1.4 L0.3 -1.5 L-0.1 -1.5 L-0.8 -1.4 L-1.3 -0.9 L-1.5 -0.2 L-1.5 0.5 L-1.3 1.1 L-0.8 1.4 L-0.1 1.5 L0.1 1.5 L0.8 1.4 L1.3 1.1 L1.5 0.6 L1.5 0.5 L1.3 0.1 L0.8 -0.2 L0.1 -0.4 L-0.1 -0.4 L-0.8 -0.2 L-1.3 0.1 L-1.5 0.5" stroke="#ffffff" stroke-width="1"/>
<path transform="translate(293.8 488) rotate(-90)" d="M1.1 -1.5 L-1.1 -1.5 L-1.3 -0.2 L-1.1 -0.4 L-0.4 -0.5 L0.2 -0.5 L0.9 -0.4 L1.3 -0.1 L1.5 0.4 L1.5 0.6 L1.3 1.1 L0.9 1.4 L0.2 1.5 L-0.4 1.5 L-1.1 1.4 L-1.3 1.2 L-1.5 0.9" stroke="#ffffff" stroke-width="1"/>
<path transform="translate(313.4 488) rotate(-90)" d="M-0.3 -1.5 L-1.5 0.5 L1.5 0.5 M0.7 -0.4 L0.7 1.5" stroke="#ffffff" stroke-width="1"/>
<path transform="translate(333.2 488) rotate(-90)" d="M-1.1 -1.5 L1.3 -1.5 L-0.0 -0.4 L0.6 -0.4 L1.1 -0.2 L1.3 -0.1 L1.5 0.4 L1.5 0.6 L1.3 1.1 L0.9 1.4 L0.2 1.5 L-0.4 1.5 L-1.1 1.4 L-1.3 1.2 L-1.5 0.9" stroke="#ffffff" stroke-width="1"/>
<path transform="translate(352.9 488) rotate(-90)" d="M-1.4 -0.8 L-1.4 -0.9 L-1.2 -1.2 L-1.0 -1.4 L-0.5 -1.5 L0.5 -1.5 L1.0 -1.4 L1.3 -1.2 L1.5 -0.9 L1.5 -0.6 L1.3 -0.4 L0.9 0.1 L-1.5 1.5 L1.5 1.5" stroke="#ffffff" stroke-width="1"/>
<path transform="translate(372.6 488) rotate(-90)" d="M-1.3 -0.9 L-0.8 -1.1 L-0.0 -1.5 L-0.0 1.5 M-1.5 1.5 L1.5 1.5" stroke="#ffffff" stroke-width="1"/>
<path transform="translate(274.1 646) rotate(-90)" d="M-2.4 -0.9 L-2.1 -1.1 L-1.6 -1.5 L-1.6 1.5 M-2.5 1.5 L-0.7 1.5 M0.7 -1.5 L2.4 -1.5 L1.5 -0.4 L1.9 -0.4 L2.2 -0.2 L2.4 -0.1 L2.5 0.4 L2.5 0.6 L2.4 1.1 L2.1 1.4 L1.6 1.5 L1.2 1.5 L0.7 1.4 L0.6 1.2 L0.5 0.9" stroke="#ffffff" stroke-width="1"/>
<path transform="translate(293.8 646) rotate(-90)" d="M-2.4 -0.9 L-2.1 -1.1 L-1.6 -1.5 L-1.6 1.5 M-2.5 1.5 L-0.8 1.5 M1.3 -1.5 L0.5 0.5 L2.5 0.5 M2.0 -0.4 L2.0 1.5" stroke="#ffffff" stroke-width="1"/>
<path transform="translate(313.4 646) rotate(-90)" d="M-2.4 -0.9 L-2.1 -1.1 L-1.6 -1.5 L-1.6 1.5 M-2.5 1.5 L-0.7 1.5 M2.2 -1.5 L0.7 -1.5 L0.6 -0.2 L0.7 -0.4 L1.2 -0.5 L1.6 -0.5 L2.1 -0.4 L2.4 -0.1 L2.5 0.4 L2.5 0.6 L2.4 1.1 L2.1 1.4 L1.6 1.5 L1.2 1.5 L0.7 1.4 L0.6 1.2 L0.5 0.9" stroke="#ffffff" stroke-width="1"/>
<path transform="translate(333.2 646) rotate(-90)" d="M-2.4 -0.9 L-2.1 -1.1 L-1.6 -1.5 L-1.6 1.5 M-2.5 1.5 L-0.7 1.5 M2.3 -1.1 L2.2 -1.4 L1.7 -1.5 L1.4 -1.5 L0.9 -1.4 L0.6 -0.9 L0.5 -0.2 L0.5 0.5 L0.6 1.1 L0.9 1.4 L1.4 1.5 L1.6 1.5 L2.0 1.4 L2.3 1.1 L2.5 0.6 L2.5 0.5 L2.3 0.1 L2.0 -0.2 L1.6 -0.4 L1.4 -0.4 L0.9 -0.2 L0.6 0.1 L0.5 0.5" stroke="#ffffff" stroke-width="1"/>
<path transform="translate(352.9 646) rotate(-90)" d="M-2.4 -0.9 L-2.1 -1.1 L-1.6 -1.5 L-1.6 1.5 M-2.5 1.5 L-0.7 1.5 M2.5 -1.5 L1.0 1.5 M0.5 -1.5 L2.5 -1.5" stroke="#ffffff" stroke-width="1"/>
<path transform="translate(372.6 646) rotate(-90)" d="M-2.4 -0.9 L-2.1 -1.1 L-1.6 -1.5 L-1.6 1.5 M-2.5 1.5 L-0.7 1.5 M1.2 -1.5 L0.7 -1.4 L0.6 -1.1 L0.6 -0.8 L0.7 -0.5 L1.0 -0.4 L1.6 -0.2 L2.1 -0.1 L2.4 0.2 L2.5 0.5 L2.5 0.9 L2.4 1.2 L2.2 1.4 L1.8 1.5 L1.2 1.5 L0.7 1.4 L0.6 1.2 L0.5 0.9 L0.5 0.5 L0.6 0.2 L0.9 -0.1 L1.3 -0.2 L1.9 -0.4 L2.2 -0.5 L2.4 -0.8 L2.4 -1.1 L2.2 -1.4 L1.8 -1.5 L1.2 -1.5" stroke="#ffffff" stroke-width="1"/>
<path transform="translate(244.5 518) rotate(0)" d="M1.0 -1.5 L-0.4 1.5 M-1.0 -1.5 L1.0 -1.5" stroke="#ffffff" stroke-width="1"/>
<path transform="translate(244.5 537.7) rotate(0)" d="M-0.3 -1.5 L-0.7 -1.4 L-0.9 -1.1 L-0.9 -0.8 L-0.7 -0.5 L-0.4 -0.4 L0.1 -0.2 L0.6 -0.1 L0.9 0.2 L1.0 0.5 L1.0 0.9 L0.9 1.2 L0.7 1.4 L0.3 1.5 L-0.3 1.5 L-0.7 1.4 L-0.9 1.2 L-1.0 0.9 L-1.0 0.5 L-0.9 0.2 L-0.6 -0.1 L-0.1 -0.2 L0.4 -0.4 L0.7 -0.5 L0.9 -0.8 L0.9 -1.1 L0.7 -1.4 L0.3 -1.5 L-0.3 -1.5" stroke="#ffffff" stroke-width="1"/>
<path transform="translate(244.5 555.1) rotate(0)" d="M1.0 -0.5 L0.8 -0.1 L0.5 0.2 L0.1 0.4 L-0.1 0.4 L-0.5 0.2 L-0.8 -0.1 L-1.0 -0.5 L-1.0 -0.6 L-0.8 -1.1 L-0.5 -1.4 L-0.1 -1.5 L0.1 -1.5 L0.5 -1.4 L0.8 -1.1 L1.0 -0.5 L1.0 0.2 L0.8 0.9 L0.5 1.4 L0.1 1.5 L-0.2 1.5 L-0.7 1.4 L-0.8 1.1" stroke="#ffffff" stroke-width="1"/>
<path transform="translate(244.5 577.1) rotate(0)" d="M-2.4 -0.9 L-2.1 -1.1 L-1.6 -1.5 L-1.6 1.5 M-2.5 1.5 L-0.7 1.5 M1.3 -1.5 L0.9 -1.4 L0.6 -0.9 L0.5 -0.2 L0.5 0.2 L0.6 0.9 L0.9 1.4 L1.3 1.5 L1.6 1.5 L2.1 1.4 L2.4 0.9 L2.5 0.2 L2.5 -0.2 L2.4 -0.9 L2.1 -1.4 L1.6 -1.5 L1.3 -1.5" stroke="#ffffff" stroke-width="1"/>
<path transform="translate(244.5 596.8) rotate(0)" d="M-2.4 -0.9 L-2.1 -1.1 L-1.6 -1.5 L-1.6 1.5 M-2.5 1.5 L-0.7 1.5 M0.9 -0.9 L1.2 -1.1 L1.6 -1.5 L1.6 1.5 M0.7 1.5 L2.5 1.5" stroke="#ffffff" stroke-width="1"/>
<path transform="translate(244.5 616.5) rotate(0)" d="M-2.4 -0.9 L-2.1 -1.1 L-1.6 -1.5 L-1.6 1.5 M-2.5 1.5 L-0.7 1.5 M0.5 -0.8 L0.5 -0.9 L0.7 -1.2 L0.8 -1.4 L1.1 -1.5 L1.8 -1.5 L2.1 -1.4 L2.4 -1.2 L2.5 -0.9 L2.5 -0.6 L2.4 -0.4 L2.1 0.1 L0.5 1.5 L2.5 1.5" stroke="#ffffff" stroke-width="1"/>
<path transform="translate(244.5 560.6) rotate(0)" d="M-5.6 -0.9 L-5.6 1.3 M-7.0 0.2 L-4.2 0.2 M-2.7 -1.3 L-1.1 -1.3 L-2.0 -0.3 L-1.5 -0.3 L-1.3 -0.2 L-1.1 -0.1 L-1.0 0.3 L-1.0 0.6 L-1.1 0.9 L-1.4 1.2 L-1.8 1.3 L-2.3 1.3 L-2.7 1.2 L-2.8 1.1 L-3.0 0.8 M0.4 1.1 L0.3 1.2 L0.4 1.3 L0.6 1.2 L0.4 1.1 M2.1 -1.3 L3.7 -1.3 L2.8 -0.3 L3.2 -0.3 L3.5 -0.2 L3.7 -0.1 L3.8 0.3 L3.8 0.6 L3.7 0.9 L3.4 1.2 L2.9 1.3 L2.5 1.3 L2.1 1.2 L1.9 1.1 L1.8 0.8 M4.7 -1.3 L5.8 1.3 M7.0 -1.3 L5.8 1.3" stroke="#ffffff" stroke-width="1"/>
<path transform="translate(402 521) rotate(0)" d="M-2.4 -0.8 L-2.4 -0.9 L-2.3 -1.2 L-2.2 -1.4 L-1.9 -1.5 L-1.2 -1.5 L-0.9 -1.4 L-0.7 -1.2 L-0.6 -0.9 L-0.6 -0.6 L-0.7 -0.4 L-1.0 0.1 L-2.5 1.5 L-0.6 1.5 M1.4 -1.5 L0.6 0.5 L2.5 0.5 M2.0 -0.4 L2.0 1.5" stroke="#ffffff" stroke-width="1"/>
<path transform="translate(402 619) rotate(0)" d="M-2.4 -0.9 L-2.1 -1.1 L-1.6 -1.5 L-1.6 1.5 M-2.5 1.5 L-0.7 1.5 M2.5 -0.5 L2.3 -0.1 L2.0 0.2 L1.6 0.4 L1.4 0.4 L0.9 0.2 L0.6 -0.1 L0.5 -0.5 L0.5 -0.6 L0.6 -1.1 L0.9 -1.4 L1.4 -1.5 L1.6 -1.5 L2.0 -1.4 L2.3 -1.1 L2.5 -0.5 L2.5 0.2 L2.3 0.9 L2.0 1.4 L1.6 1.5 L1.2 1.5 L0.8 1.4 L0.6 1.1" stroke="#ffffff" stroke-width="1"/>
<path transform="translate(707.2 348.5) rotate(-90)" d="M-3.7 -3.2 L-3.7 -3.8 L-3.1 -5.0 L-2.6 -5.6 L-1.4 -6.1 L1.4 -6.1 L2.6 -5.6 L3.4 -5.0 L4.0 -3.8 L4.0 -2.6 L3.4 -1.5 L2.3 0.3 L-4.0 6.1 L4.0 6.1" stroke="#ffffff" stroke-width="1"/>
<path transform="translate(764.9 348.4) rotate(-90)" d="M-9.4 -3.5 L-10.0 -4.7 L-11.0 -6.0 L-12.0 -6.6 L-14.1 -6.6 L-15.2 -6.0 L-16.2 -4.7 L-16.7 -3.5 L-17.2 -1.6 L-17.2 1.6 L-16.7 3.5 L-16.2 4.7 L-15.2 6.0 L-14.1 6.6 L-12.0 6.6 L-11.0 6.0 L-10.0 4.7 L-9.4 3.5 L-9.4 1.6 M-12.0 1.6 L-9.4 1.6 M-4.2 -6.6 L-4.2 6.6 M-4.2 -6.6 L3.6 6.6 M3.6 -6.6 L3.6 6.6 M9.4 -6.6 L9.4 6.6 M9.4 -6.6 L13.3 -6.6 L15.0 -6.0 L16.1 -4.7 L16.7 -3.5 L17.2 -1.6 L17.2 1.6 L16.7 3.5 L16.1 4.7 L15.0 6.0 L13.3 6.6 L9.4 6.6" stroke="#ffffff" stroke-width="1"/>
<path transform="translate(782.2 348.8) rotate(-90)" d="M-3.1 -4.0 L-1.8 -4.6 L-0.0 -6.5 L-0.0 6.5 M-3.7 6.5 L3.7 6.5" stroke="#ffffff" stroke-width="1"/>
<path transform="translate(568 404.6) rotate(-90)" d="M-3.5 -3.2 L-3.5 -3.8 L-2.9 -5.0 L-2.4 -5.6 L-1.3 -6.1 L1.3 -6.1 L2.4 -5.6 L3.2 -5.0 L3.8 -3.8 L3.8 -2.6 L3.2 -1.5 L2.1 0.3 L-3.8 6.1 L3.8 6.1" stroke="#ffffff" stroke-width="1"/>
<path transform="translate(627.5 404.4) rotate(-90)" d="M-12.8 -3.0 L-12.8 4.2 M-16.0 0.6 L-9.6 0.6 M-6.2 -4.2 L-2.5 -4.2 L-4.5 -1.0 L-3.5 -1.0 L-2.9 -0.6 L-2.5 -0.2 L-2.2 1.0 L-2.2 1.8 L-2.5 3.0 L-3.2 3.8 L-4.2 4.2 L-5.2 4.2 L-6.2 3.8 L-6.5 3.4 L-6.8 2.6 M0.9 3.4 L0.6 3.8 L0.9 4.2 L1.3 3.8 L0.9 3.4 M4.7 -4.2 L8.4 -4.2 L6.4 -1.0 L7.4 -1.0 L8.0 -0.6 L8.4 -0.2 L8.7 1.0 L8.7 1.8 L8.4 3.0 L7.7 3.8 L6.7 4.2 L5.7 4.2 L4.7 3.8 L4.4 3.4 L4.1 2.6 M10.7 -4.2 L13.4 4.2 M16.0 -4.2 L13.4 4.2" stroke="#ffffff" stroke-width="1"/>
<path transform="translate(643.7 404.6) rotate(-90)" d="M-3.1 -3.4 L-1.9 -3.9 L-0.0 -5.5 L-0.0 5.5 M-3.8 5.5 L3.7 5.5" stroke="#ffffff" stroke-width="1"/>
<path transform="translate(571 548.5) rotate(-90)" d="M-3.5 -3.2 L-3.5 -3.8 L-2.9 -5.0 L-2.4 -5.6 L-1.3 -6.1 L1.3 -6.1 L2.4 -5.6 L3.2 -5.0 L3.8 -3.8 L3.8 -2.6 L3.2 -1.5 L2.1 0.3 L-3.8 6.1 L3.8 6.1" stroke="#ffffff" stroke-width="1"/>
<path transform="translate(630.5 548.3) rotate(-90)" d="M-12.8 -3.0 L-12.8 4.2 M-16.0 0.6 L-9.6 0.6 M-6.2 -4.2 L-2.5 -4.2 L-4.5 -1.0 L-3.5 -1.0 L-2.9 -0.6 L-2.5 -0.2 L-2.2 1.0 L-2.2 1.8 L-2.5 3.0 L-3.2 3.8 L-4.2 4.2 L-5.2 4.2 L-6.2 3.8 L-6.5 3.4 L-6.8 2.6 M0.9 3.4 L0.6 3.8 L0.9 4.2 L1.3 3.8 L0.9 3.4 M4.7 -4.2 L8.4 -4.2 L6.4 -1.0 L7.4 -1.0 L8.0 -0.6 L8.4 -0.2 L8.7 1.0 L8.7 1.8 L8.4 3.0 L7.7 3.8 L6.7 4.2 L5.7 4.2 L4.7 3.8 L4.4 3.4 L4.1 2.6 M10.7 -4.2 L13.4 4.2 M16.0 -4.2 L13.4 4.2" stroke="#ffffff" stroke-width="1"/>
<path transform="translate(646.7 548.5) rotate(-90)" d="M-3.1 -3.4 L-1.9 -3.9 L-0.0 -5.5 L-0.0 5.5 M-3.8 5.5 L3.7 5.5" stroke="#ffffff" stroke-width="1"/>
<path transform="translate(976 752.9) rotate(-90)" d="M-3.5 -3.2 L-3.5 -3.8 L-2.9 -5.0 L-2.4 -5.6 L-1.3 -6.1 L1.3 -6.1 L2.4 -5.6 L3.2 -5.0 L3.8 -3.8 L3.8 -2.6 L3.2 -1.5 L2.1 0.3 L-3.8 6.1 L3.8 6.1" stroke="#ffffff" stroke-width="1"/>
<path transform="translate(1035.5 752.6) rotate(-90)" d="M-12.8 -3.0 L-12.8 4.2 M-16.0 0.6 L-9.6 0.6 M-6.2 -4.2 L-2.5 -4.2 L-4.5 -1.0 L-3.5 -1.0 L-2.9 -0.6 L-2.5 -0.2 L-2.2 1.0 L-2.2 1.8 L-2.5 3.0 L-3.2 3.8 L-4.2 4.2 L-5.2 4.2 L-6.2 3.8 L-6.5 3.4 L-6.8 2.6 M0.9 3.4 L0.6 3.8 L0.9 4.2 L1.3 3.8 L0.9 3.4 M4.7 -4.2 L8.4 -4.2 L6.4 -1.0 L7.4 -1.0 L8.0 -0.6 L8.4 -0.2 L8.7 1.0 L8.7 1.8 L8.4 3.0 L7.7 3.8 L6.7 4.2 L5.7 4.2 L4.7 3.8 L4.4 3.4 L4.1 2.6 M10.7 -4.2 L13.4 4.2 M16.0 -4.2 L13.4 4.2" stroke="#ffffff" stroke-width="1"/>
<path transform="translate(1051.7 752.9) rotate(-90)" d="M-3.1 -3.4 L-1.9 -3.9 L-0.0 -5.5 L-0.0 5.5 M-3.8 5.5 L3.7 5.5" stroke="#ffffff" stroke-width="1"/>
<path transform="translate(735 546.8) rotate(-90)" d="M-3.1 -3.4 L-1.9 -3.9 L-0.0 -5.5 L-0.0 5.5 M-3.8 5.5 L3.7 5.5" stroke="#ffffff" stroke-width="1"/>
<path transform="translate(749.8 547.5) rotate(-90)" d="M-12.8 -3.0 L-12.8 4.2 M-16.0 0.6 L-9.6 0.6 M-6.2 -4.2 L-2.5 -4.2 L-4.5 -1.0 L-3.5 -1.0 L-2.9 -0.6 L-2.5 -0.2 L-2.2 1.0 L-2.2 1.8 L-2.5 3.0 L-3.2 3.8 L-4.2 4.2 L-5.2 4.2 L-6.2 3.8 L-6.5 3.4 L-6.8 2.6 M0.9 3.4 L0.6 3.8 L0.9 4.2 L1.3 3.8 L0.9 3.4 M4.7 -4.2 L8.4 -4.2 L6.4 -1.0 L7.4 -1.0 L8.0 -0.6 L8.4 -0.2 L8.7 1.0 L8.7 1.8 L8.4 3.0 L7.7 3.8 L6.7 4.2 L5.7 4.2 L4.7 3.8 L4.4 3.4 L4.1 2.6 M10.7 -4.2 L13.4 4.2 M16.0 -4.2 L13.4 4.2" stroke="#ffffff" stroke-width="1"/>
<path transform="translate(810.1 547.7) rotate(-90)" d="M-3.5 -3.2 L-3.5 -3.8 L-3.0 -5.0 L-2.4 -5.6 L-1.4 -6.1 L1.4 -6.1 L2.4 -5.6 L3.3 -5.0 L3.8 -3.8 L3.8 -2.6 L3.3 -1.5 L2.2 0.3 L-3.8 6.1 L3.8 6.1" stroke="#ffffff" stroke-width="1"/>
<path transform="translate(689.2 177.2) rotate(-90)" d="M-2.8 -3.7 L-1.7 -4.3 L-0.0 -6.0 L-0.0 6.0 M-3.4 6.0 L3.4 6.0" stroke="#ffffff" stroke-width="1"/>
<path transform="translate(763.9 177.8) rotate(-90)" d="M-3.7 -3.6 L-3.7 -4.2 L-3.1 -5.5 L-2.6 -6.2 L-1.4 -6.8 L1.4 -6.8 L2.6 -6.2 L3.4 -5.5 L4.0 -4.2 L4.0 -2.9 L3.4 -1.6 L2.3 0.3 L-4.0 6.8 L4.0 6.8" stroke="#ffffff" stroke-width="1"/>
<path transform="translate(782.9 177.3) rotate(-90)" d="M-12.8 -3.1 L-12.8 4.4 M-16.0 0.6 L-9.6 0.6 M-6.2 -4.4 L-2.5 -4.4 L-4.5 -1.0 L-3.5 -1.0 L-2.9 -0.6 L-2.5 -0.2 L-2.2 1.0 L-2.2 1.9 L-2.5 3.1 L-3.2 3.9 L-4.2 4.4 L-5.2 4.4 L-6.2 3.9 L-6.5 3.5 L-6.8 2.7 M0.9 3.5 L0.6 3.9 L0.9 4.4 L1.3 3.9 L0.9 3.5 M4.7 -4.4 L8.4 -4.4 L6.4 -1.0 L7.4 -1.0 L8.0 -0.6 L8.4 -0.2 L8.7 1.0 L8.7 1.9 L8.4 3.1 L7.7 3.9 L6.7 4.4 L5.7 4.4 L4.7 3.9 L4.4 3.5 L4.1 2.7 M10.7 -4.4 L13.4 4.4 M16.0 -4.4 L13.4 4.4" stroke="#ffffff" stroke-width="1"/>
<path transform="translate(689.2 262.1) rotate(-90)" d="M-2.8 -3.7 L-1.7 -4.3 L-0.0 -6.0 L-0.0 6.0 M-3.4 6.0 L3.4 6.0" stroke="#ffffff" stroke-width="1"/>
<path transform="translate(763.9 262.7) rotate(-90)" d="M-3.7 -3.6 L-3.7 -4.2 L-3.1 -5.5 L-2.6 -6.2 L-1.4 -6.8 L1.4 -6.8 L2.6 -6.2 L3.4 -5.5 L4.0 -4.2 L4.0 -2.9 L3.4 -1.6 L2.3 0.3 L-4.0 6.8 L4.0 6.8" stroke="#ffffff" stroke-width="1"/>
<path transform="translate(781.4 261.9) rotate(-90)" d="M-9.2 -3.3 L-9.7 -4.5 L-10.7 -5.7 L-11.7 -6.4 L-13.7 -6.4 L-14.7 -5.7 L-15.7 -4.5 L-16.2 -3.3 L-16.8 -1.5 L-16.8 1.5 L-16.2 3.3 L-15.7 4.5 L-14.7 5.7 L-13.7 6.4 L-11.7 6.4 L-10.7 5.7 L-9.7 4.5 L-9.2 3.3 L-9.2 1.5 M-11.7 1.5 L-9.2 1.5 M-4.1 -6.4 L-4.1 6.4 M-4.1 -6.4 L3.5 6.4 M3.5 -6.4 L3.5 6.4 M9.2 -6.4 L9.2 6.4 M9.2 -6.4 L13.0 -6.4 L14.6 -5.7 L15.7 -4.5 L16.2 -3.3 L16.8 -1.5 L16.8 1.5 L16.2 3.3 L15.7 4.5 L14.6 5.7 L13.0 6.4 L9.2 6.4" stroke="#ffffff" stroke-width="1"/>
<path transform="translate(726 690.2) rotate(-90)" d="M-2.8 -3.7 L-1.7 -4.3 L-0.0 -6.0 L-0.0 6.0 M-3.4 6.0 L3.4 6.0" stroke="#ffffff" stroke-width="1"/>
<path transform="translate(800.7 690.8) rotate(-90)" d="M-3.7 -3.6 L-3.7 -4.2 L-3.1 -5.5 L-2.6 -6.2 L-1.4 -6.8 L1.4 -6.8 L2.6 -6.2 L3.4 -5.5 L4.0 -4.2 L4.0 -2.9 L3.4 -1.6 L2.3 0.3 L-4.0 6.8 L4.0 6.8" stroke="#ffffff" stroke-width="1"/>
<path transform="translate(818.1 690) rotate(-90)" d="M-9.2 -3.3 L-9.7 -4.5 L-10.7 -5.7 L-11.7 -6.4 L-13.7 -6.4 L-14.7 -5.7 L-15.7 -4.5 L-16.2 -3.3 L-16.8 -1.5 L-16.8 1.5 L-16.2 3.3 L-15.7 4.5 L-14.7 5.7 L-13.7 6.4 L-11.7 6.4 L-10.7 5.7 L-9.7 4.5 L-9.2 3.3 L-9.2 1.5 M-11.7 1.5 L-9.2 1.5 M-4.1 -6.4 L-4.1 6.4 M-4.1 -6.4 L3.5 6.4 M3.5 -6.4 L3.5 6.4 M9.2 -6.4 L9.2 6.4 M9.2 -6.4 L13.0 -6.4 L14.6 -5.7 L15.7 -4.5 L16.2 -3.3 L16.8 -1.5 L16.8 1.5 L16.2 3.3 L15.7 4.5 L14.6 5.7 L13.0 6.4 L9.2 6.4" stroke="#ffffff" stroke-width="1"/>
<path transform="translate(629.5 83.5) rotate(-90)" d="M-14.1 -5.4 L-14.9 -7.4 L-16.5 -9.3 L-18.0 -10.3 L-21.2 -10.3 L-22.7 -9.3 L-24.3 -7.4 L-25.1 -5.4 L-25.8 -2.5 L-25.8 2.5 L-25.1 5.4 L-24.3 7.4 L-22.7 9.3 L-21.2 10.3 L-18.0 10.3 L-16.5 9.3 L-14.9 7.4 L-14.1 5.4 L-14.1 2.5 M-18.0 2.5 L-14.1 2.5 M-6.3 -10.3 L-6.3 10.3 M-6.3 -10.3 L5.4 10.3 M5.4 -10.3 L5.4 10.3 M14.1 -10.3 L14.1 10.3 M14.1 -10.3 L20.0 -10.3 L22.5 -9.3 L24.2 -7.4 L25.0 -5.4 L25.8 -2.5 L25.8 2.5 L25.0 5.4 L24.2 7.4 L22.5 9.3 L20.0 10.3 L14.1 10.3" stroke="#ffffff" stroke-width="1"/>
<path transform="translate(659.5 83.9) rotate(-90)" d="M-5.2 -5.3 L-5.2 -6.2 L-4.4 -8.1 L-3.6 -9.1 L-2.0 -10.1 L2.0 -10.1 L3.6 -9.1 L4.8 -8.1 L5.6 -6.2 L5.6 -4.3 L4.8 -2.4 L3.2 0.5 L-5.6 10.1 L5.6 10.1" stroke="#ffffff" stroke-width="1"/>
<path transform="translate(760.6 82.4) rotate(-90)" d="M-18.6 -4.2 L-18.6 5.9 M-23.3 0.8 L-14.0 0.8 M-9.0 -5.9 L-3.7 -5.9 L-6.6 -1.4 L-5.1 -1.4 L-4.2 -0.8 L-3.7 -0.3 L-3.2 1.4 L-3.2 2.5 L-3.7 4.2 L-4.7 5.3 L-6.1 5.9 L-7.5 5.9 L-9.0 5.3 L-9.5 4.8 L-9.9 3.7 M1.4 4.8 L0.8 5.3 L1.4 5.9 L1.9 5.3 L1.4 4.8 M6.9 -5.9 L12.2 -5.9 L9.3 -1.4 L10.7 -1.4 L11.7 -0.8 L12.2 -0.3 L12.7 1.4 L12.7 2.5 L12.2 4.2 L11.2 5.3 L9.8 5.9 L8.3 5.9 L6.9 5.3 L6.4 4.8 L5.9 3.7 M15.6 -5.9 L19.5 5.9 M23.3 -5.9 L19.5 5.9" stroke="#ffffff" stroke-width="1"/>
<path transform="translate(789.5 83.8) rotate(-90)" d="M-4.5 -6.2 L-2.7 -7.2 L-0.0 -10.1 L-0.0 10.1 M-5.5 10.1 L5.5 10.1" stroke="#ffffff" stroke-width="1"/>
<path transform="translate(947.2 168.3) rotate(0)" d="M-1.4 -8.2 L-3.6 -7.5 L-4.3 -5.9 L-4.3 -4.3 L-3.6 -2.8 L-2.1 -2.0 L0.7 -1.2 L2.9 -0.4 L4.3 1.2 L5.0 2.8 L5.0 5.1 L4.3 6.7 L3.6 7.5 L1.4 8.2 L-1.4 8.2 L-3.6 7.5 L-4.3 6.7 L-5.0 5.1 L-5.0 2.8 L-4.3 1.2 L-2.9 -0.4 L-0.7 -1.2 L2.1 -2.0 L3.6 -2.8 L4.3 -4.3 L4.3 -5.9 L3.6 -7.5 L1.4 -8.2 L-1.4 -8.2" stroke="#ffffff" stroke-width="1"/>
<path transform="translate(947.2 268.3) rotate(0)" d="M4.2 -5.9 L3.5 -7.5 L1.2 -8.2 L-0.4 -8.2 L-2.7 -7.5 L-4.2 -5.1 L-5.0 -1.2 L-5.0 2.8 L-4.2 5.9 L-2.7 7.5 L-0.4 8.2 L0.4 8.2 L2.7 7.5 L4.2 5.9 L5.0 3.5 L5.0 2.8 L4.2 0.4 L2.7 -1.2 L0.4 -2.0 L-0.4 -2.0 L-2.7 -1.2 L-4.2 0.4 L-5.0 2.8" stroke="#ffffff" stroke-width="1"/>
<path transform="translate(947.2 368.1) rotate(0)" d="M-1.0 -8.2 L-5.0 3.0 L5.0 3.0 M2.4 -2.4 L2.4 8.2" stroke="#ffffff" stroke-width="1"/>
<path transform="translate(947.2 468.3) rotate(0)" d="M-4.6 -4.3 L-4.6 -5.1 L-3.9 -6.7 L-3.2 -7.5 L-1.8 -8.2 L1.8 -8.2 L3.2 -7.5 L4.3 -6.7 L5.0 -5.1 L5.0 -3.5 L4.3 -2.0 L2.9 0.4 L-5.0 8.2 L5.0 8.2" stroke="#ffffff" stroke-width="1"/>
<path transform="translate(1047.1 218.4) rotate(0)" d="M5.0 -8.2 L-2.1 8.2 M-5.0 -8.2 L5.0 -8.2" stroke="#ffffff" stroke-width="1"/>
<path transform="translate(1047.5 317.9) rotate(0)" d="M3.6 -8.2 L-3.6 -8.2 L-4.3 -1.2 L-3.6 -2.0 L-1.4 -2.8 L0.7 -2.8 L2.9 -2.0 L4.3 -0.4 L5.0 2.0 L5.0 3.5 L4.3 5.9 L2.9 7.5 L0.7 8.2 L-1.4 8.2 L-3.6 7.5 L-4.3 6.7 L-5.0 5.1" stroke="#ffffff" stroke-width="1"/>
<path transform="translate(1047.5 417.9) rotate(0)" d="M-3.6 -8.2 L4.3 -8.2 L-0.0 -2.0 L2.1 -2.0 L3.6 -1.2 L4.3 -0.4 L5.0 2.0 L5.0 3.5 L4.3 5.9 L2.9 7.5 L0.7 8.2 L-1.4 8.2 L-3.6 7.5 L-4.3 6.7 L-5.0 5.1" stroke="#ffffff" stroke-width="1"/>
<path transform="translate(1030.5 536.8) rotate(-90)" d="M-4.1 -5.1 L-2.5 -5.9 L-0.0 -8.3 L-0.0 8.3 M-5.0 8.3 L5.0 8.3" stroke="#ffffff" stroke-width="1"/>
<path transform="translate(1177.8 24.6) rotate(0)" d="M-17.5 -7.7 L-15.3 -8.9 L-12.1 -12.4 L-12.1 12.4 M-18.6 12.4 L-5.7 12.4 M9.6 -12.4 L3.6 4.5 L18.6 4.5 M14.6 -3.7 L14.6 12.4" stroke="#ffffff" stroke-width="1"/>
<path transform="translate(1177.8 75.8) rotate(0)" d="M-26.6 -2.0 L-26.9 -2.8 L-27.5 -3.5 L-28.0 -3.9 L-29.2 -3.9 L-29.7 -3.5 L-30.3 -2.8 L-30.6 -2.0 L-30.9 -0.9 L-30.9 0.9 L-30.6 2.0 L-30.3 2.8 L-29.7 3.5 L-29.2 3.9 L-28.0 3.9 L-27.5 3.5 L-26.9 2.8 L-26.6 2.0 L-26.6 0.9 M-28.0 0.9 L-26.6 0.9 M-23.8 -3.9 L-23.8 3.9 M-23.8 -3.9 L-19.5 3.9 M-19.5 -3.9 L-19.5 3.9 M-16.3 -3.9 L-16.3 3.9 M-16.3 -3.9 L-14.2 -3.9 L-13.3 -3.5 L-12.7 -2.8 L-12.4 -2.0 L-12.1 -0.9 L-12.1 0.9 L-12.4 2.0 L-12.7 2.8 L-13.3 3.5 L-14.2 3.9 L-16.3 3.9 M-10.8 5.0 L-4.3 5.0 M1.2 -2.0 L0.9 -2.8 L0.4 -3.5 L-0.2 -3.9 L-1.3 -3.9 L-1.9 -3.5 L-2.5 -2.8 L-2.8 -2.0 L-3.0 -0.9 L-3.0 0.9 L-2.8 2.0 L-2.5 2.8 L-1.9 3.5 L-1.3 3.9 L-0.2 3.9 L0.4 3.5 L0.9 2.8 L1.2 2.0 M4.1 -3.9 L4.1 3.9 M8.3 -3.9 L8.3 3.9 M4.1 -0.2 L8.3 -0.2 M12.9 -3.9 L10.5 3.9 M12.9 -3.9 L15.4 3.9 M11.4 1.3 L14.5 1.3 M21.5 -2.8 L20.9 -3.5 L20.0 -3.9 L18.7 -3.9 L17.8 -3.5 L17.2 -2.8 L17.2 -2.0 L17.5 -1.3 L17.8 -0.9 L18.4 -0.6 L20.3 0.2 L20.9 0.6 L21.2 0.9 L21.5 1.7 L21.5 2.8 L20.9 3.5 L20.0 3.9 L18.7 3.9 L17.8 3.5 L17.2 2.8 M24.0 -3.9 L24.0 3.9 M30.9 -2.8 L30.2 -3.5 L29.3 -3.9 L28.1 -3.9 L27.2 -3.5 L26.6 -2.8 L26.6 -2.0 L26.9 -1.3 L27.2 -0.9 L27.8 -0.6 L29.6 0.2 L30.2 0.6 L30.5 0.9 L30.9 1.7 L30.9 2.8 L30.2 3.5 L29.3 3.9 L28.1 3.9 L27.2 3.5 L26.6 2.8" stroke="#ffffff" stroke-width="1"/>
<path transform="translate(1177.9 645.5) rotate(0)" d="M-17.5 -7.7 L-15.3 -8.9 L-12.1 -12.4 L-12.1 12.4 M-18.6 12.4 L-5.6 12.4 M5.6 -12.4 L17.5 -12.4 L11.0 -3.0 L14.3 -3.0 L16.4 -1.8 L17.5 -0.6 L18.6 3.0 L18.6 5.3 L17.5 8.9 L15.3 11.3 L12.1 12.4 L8.8 12.4 L5.6 11.3 L4.5 10.1 L3.4 7.7" stroke="#ffffff" stroke-width="1"/>
<path transform="translate(1177.8 696.8) rotate(0)" d="M-26.6 -2.0 L-26.9 -2.7 L-27.5 -3.4 L-28.0 -3.8 L-29.2 -3.8 L-29.7 -3.4 L-30.3 -2.7 L-30.6 -2.0 L-30.9 -0.9 L-30.9 0.9 L-30.6 2.0 L-30.3 2.7 L-29.7 3.4 L-29.2 3.8 L-28.0 3.8 L-27.5 3.4 L-26.9 2.7 L-26.6 2.0 L-26.6 0.9 M-28.0 0.9 L-26.6 0.9 M-23.8 -3.8 L-23.8 3.8 M-23.8 -3.8 L-19.5 3.8 M-19.5 -3.8 L-19.5 3.8 M-16.3 -3.8 L-16.3 3.8 M-16.3 -3.8 L-14.2 -3.8 L-13.3 -3.4 L-12.7 -2.7 L-12.4 -2.0 L-12.1 -0.9 L-12.1 0.9 L-12.4 2.0 L-12.7 2.7 L-13.3 3.4 L-14.2 3.8 L-16.3 3.8 M-10.8 4.8 L-4.3 4.8 M1.2 -2.0 L0.9 -2.7 L0.4 -3.4 L-0.2 -3.8 L-1.3 -3.8 L-1.9 -3.4 L-2.5 -2.7 L-2.8 -2.0 L-3.0 -0.9 L-3.0 0.9 L-2.8 2.0 L-2.5 2.7 L-1.9 3.4 L-1.3 3.8 L-0.2 3.8 L0.4 3.4 L0.9 2.7 L1.2 2.0 M4.1 -3.8 L4.1 3.8 M8.3 -3.8 L8.3 3.8 M4.1 -0.2 L8.3 -0.2 M12.9 -3.8 L10.5 3.8 M12.9 -3.8 L15.4 3.8 M11.4 1.2 L14.5 1.2 M21.5 -2.7 L20.9 -3.4 L20.0 -3.8 L18.7 -3.8 L17.8 -3.4 L17.2 -2.7 L17.2 -2.0 L17.5 -1.2 L17.8 -0.9 L18.4 -0.5 L20.3 0.2 L20.9 0.5 L21.2 0.9 L21.5 1.6 L21.5 2.7 L20.9 3.4 L20.0 3.8 L18.7 3.8 L17.8 3.4 L17.2 2.7 M24.0 -3.8 L24.0 3.8 M30.9 -2.7 L30.2 -3.4 L29.3 -3.8 L28.1 -3.8 L27.2 -3.4 L26.6 -2.7 L26.6 -2.0 L26.9 -1.2 L27.2 -0.9 L27.8 -0.5 L29.6 0.2 L30.2 0.5 L30.5 0.9 L30.9 1.6 L30.9 2.7 L30.2 3.4 L29.3 3.8 L28.1 3.8 L27.2 3.4 L26.6 2.7" stroke="#ffffff" stroke-width="1"/>
<path transform="translate(1297.3 97.1) rotate(0)" d="M-25.3 -11.1 L-22.1 -12.8 L-17.4 -17.9 L-17.4 17.9 M-26.9 17.9 L-8.0 17.9 M25.2 -12.8 L23.5 -16.2 L18.4 -17.9 L15.0 -17.9 L10.0 -16.2 L6.6 -11.1 L4.9 -2.6 L4.9 6.0 L6.6 12.8 L10.0 16.2 L15.0 17.9 L16.7 17.9 L21.8 16.2 L25.2 12.8 L26.9 7.7 L26.9 6.0 L25.2 0.9 L21.8 -2.6 L16.7 -4.3 L15.0 -4.3 L10.0 -2.6 L6.6 0.9 L4.9 6.0" stroke="#ffffff" stroke-width="1"/>
<path transform="translate(1297.7 174.2) rotate(0)" d="M-48.1 -4.2 L-48.1 4.2 M-48.1 -4.2 L-43.5 4.2 M-43.5 -4.2 L-43.5 4.2 M-40.4 1.0 L-36.5 1.0 L-36.5 0.2 L-36.8 -0.6 L-37.1 -1.0 L-37.8 -1.4 L-38.8 -1.4 L-39.5 -1.0 L-40.1 -0.2 L-40.4 1.0 L-40.4 1.8 L-40.1 3.0 L-39.5 3.8 L-38.8 4.2 L-37.8 4.2 L-37.1 3.8 L-36.5 3.0 M-33.4 -4.2 L-33.4 2.6 L-33.0 3.8 L-32.3 4.2 L-31.6 4.2 M-34.4 -1.4 L-31.9 -1.4 M-29.4 0.6 L-23.0 0.6 M-17.7 -5.7 L-18.4 -4.9 L-19.1 -3.8 L-19.8 -2.2 L-20.2 -0.2 L-20.2 1.4 L-19.8 3.4 L-19.1 4.9 L-18.4 6.1 L-17.7 6.9 M-14.9 -4.2 L-14.9 1.8 L-14.6 3.0 L-13.9 3.8 L-12.9 4.2 L-12.2 4.2 L-11.3 3.8 L-10.6 3.0 L-10.3 1.8 L-10.3 -4.2 M-3.2 -4.2 L-6.5 -4.2 L-6.8 -0.6 L-6.5 -1.0 L-5.5 -1.4 L-4.5 -1.4 L-3.5 -1.0 L-2.9 -0.2 L-2.5 1.0 L-2.5 1.8 L-2.9 3.0 L-3.5 3.8 L-4.5 4.2 L-5.5 4.2 L-6.5 3.8 L-6.8 3.4 L-7.2 2.6 M0.3 0.6 L6.7 0.6 M9.8 -4.2 L9.8 4.2 M9.8 -4.2 L12.8 -4.2 L13.8 -3.8 L14.1 -3.4 L14.5 -2.6 L14.5 -1.4 L14.1 -0.6 L13.8 -0.2 L12.8 0.2 L9.8 0.2 M21.2 -1.4 L21.2 4.2 M21.2 -0.2 L20.5 -1.0 L19.8 -1.4 L18.8 -1.4 L18.2 -1.0 L17.5 -0.2 L17.2 1.0 L17.2 1.8 L17.5 3.0 L18.2 3.8 L18.8 4.2 L19.8 4.2 L20.5 3.8 L21.2 3.0 M28.2 -4.2 L28.2 4.2 M28.2 -0.2 L27.5 -1.0 L26.8 -1.4 L25.9 -1.4 L25.2 -1.0 L24.5 -0.2 L24.2 1.0 L24.2 1.8 L24.5 3.0 L25.2 3.8 L25.9 4.2 L26.8 4.2 L27.5 3.8 L28.2 3.0 M32.2 -2.6 L32.9 -3.0 L33.9 -4.2 L33.9 4.2 M31.9 4.2 L35.9 4.2 M42.9 -3.0 L42.5 -3.8 L41.4 -4.2 L40.7 -4.2 L39.7 -3.8 L38.9 -2.6 L38.6 -0.6 L38.6 1.4 L38.9 3.0 L39.7 3.8 L40.7 4.2 L41.1 4.2 L42.2 3.8 L42.9 3.0 L43.2 1.8 L43.2 1.4 L42.9 0.2 L42.2 -0.6 L41.1 -1.0 L40.7 -1.0 L39.7 -0.6 L38.9 0.2 L38.6 1.4 M45.7 -5.7 L46.4 -4.9 L47.1 -3.8 L47.8 -2.2 L48.1 -0.2 L48.1 1.4 L47.8 3.4 L47.1 4.9 L46.4 6.1 L45.7 6.9" stroke="#ffffff" stroke-width="1"/>
<path transform="translate(1297.3 547) rotate(0)" d="M-25.3 -11.1 L-22.1 -12.8 L-17.4 -17.9 L-17.4 17.9 M-26.9 17.9 L-8.0 17.9 M23.7 -17.9 L8.0 -17.9 L6.5 -2.6 L8.0 -4.3 L12.7 -6.0 L17.4 -6.0 L22.1 -4.3 L25.3 -0.9 L26.9 4.3 L26.9 7.7 L25.3 12.8 L22.1 16.2 L17.4 17.9 L12.7 17.9 L8.0 16.2 L6.5 14.5 L4.9 11.1" stroke="#ffffff" stroke-width="1"/>
<path transform="translate(1297.7 624.2) rotate(0)" d="M-48.1 -4.0 L-48.1 4.0 M-48.1 -4.0 L-43.5 4.0 M-43.5 -4.0 L-43.5 4.0 M-40.4 1.0 L-36.5 1.0 L-36.5 0.2 L-36.8 -0.6 L-37.1 -1.0 L-37.8 -1.3 L-38.8 -1.3 L-39.5 -1.0 L-40.1 -0.2 L-40.4 1.0 L-40.4 1.7 L-40.1 2.9 L-39.5 3.6 L-38.8 4.0 L-37.8 4.0 L-37.1 3.6 L-36.5 2.9 M-33.4 -4.0 L-33.4 2.5 L-33.0 3.6 L-32.3 4.0 L-31.6 4.0 M-34.4 -1.3 L-31.9 -1.3 M-29.4 0.6 L-23.0 0.6 M-17.7 -5.5 L-18.4 -4.8 L-19.1 -3.6 L-19.8 -2.1 L-20.2 -0.2 L-20.2 1.3 L-19.8 3.2 L-19.1 4.8 L-18.4 5.9 L-17.7 6.7 M-14.9 -4.0 L-14.9 1.7 L-14.6 2.9 L-13.9 3.6 L-12.9 4.0 L-12.2 4.0 L-11.3 3.6 L-10.6 2.9 L-10.3 1.7 L-10.3 -4.0 M-3.2 -4.0 L-6.5 -4.0 L-6.8 -0.6 L-6.5 -1.0 L-5.5 -1.3 L-4.5 -1.3 L-3.5 -1.0 L-2.9 -0.2 L-2.5 1.0 L-2.5 1.7 L-2.9 2.9 L-3.5 3.6 L-4.5 4.0 L-5.5 4.0 L-6.5 3.6 L-6.8 3.2 L-7.2 2.5 M0.3 0.6 L6.7 0.6 M9.8 -4.0 L9.8 4.0 M9.8 -4.0 L12.8 -4.0 L13.8 -3.6 L14.1 -3.2 L14.5 -2.5 L14.5 -1.3 L14.1 -0.6 L13.8 -0.2 L12.8 0.2 L9.8 0.2 M21.2 -1.3 L21.2 4.0 M21.2 -0.2 L20.5 -1.0 L19.8 -1.3 L18.8 -1.3 L18.2 -1.0 L17.5 -0.2 L17.2 1.0 L17.2 1.7 L17.5 2.9 L18.2 3.6 L18.8 4.0 L19.8 4.0 L20.5 3.6 L21.2 2.9 M28.2 -4.0 L28.2 4.0 M28.2 -0.2 L27.5 -1.0 L26.8 -1.3 L25.9 -1.3 L25.2 -1.0 L24.5 -0.2 L24.2 1.0 L24.2 1.7 L24.5 2.9 L25.2 3.6 L25.9 4.0 L26.8 4.0 L27.5 3.6 L28.2 2.9 M32.2 -2.5 L32.9 -2.9 L33.9 -4.0 L33.9 4.0 M31.9 4.0 L35.9 4.0 M42.6 -4.0 L39.2 -4.0 L38.9 -0.6 L39.2 -1.0 L40.2 -1.3 L41.2 -1.3 L42.2 -1.0 L42.9 -0.2 L43.2 1.0 L43.2 1.7 L42.9 2.9 L42.2 3.6 L41.2 4.0 L40.2 4.0 L39.2 3.6 L38.9 3.2 L38.6 2.5 M45.7 -5.5 L46.4 -4.8 L47.1 -3.6 L47.8 -2.1 L48.1 -0.2 L48.1 1.3 L47.8 3.2 L47.1 4.8 L46.4 5.9 L45.7 6.7" stroke="#ffffff" stroke-width="1"/>
<path transform="translate(1429.9 91.5) rotate(0)" d="M-13.7 -5.7 L-12.0 -6.6 L-9.4 -9.2 L-9.4 9.2 M-14.5 9.2 L-4.3 9.2 M3.1 -4.8 L3.1 -5.7 L3.9 -7.5 L4.8 -8.4 L6.5 -9.2 L10.7 -9.2 L12.4 -8.4 L13.7 -7.5 L14.5 -5.7 L14.5 -4.0 L13.7 -2.2 L12.0 0.4 L2.6 9.2 L14.5 9.2" stroke="#ffffff" stroke-width="1"/>
<path transform="translate(1429.9 132.6) rotate(0)" d="M-25.0 -2.2 L-25.0 2.2 M-25.0 -2.2 L-22.6 2.2 M-22.6 -2.2 L-22.6 2.2 M-21.0 0.5 L-18.9 0.5 L-18.9 0.1 L-19.0 -0.3 L-19.2 -0.5 L-19.6 -0.8 L-20.1 -0.8 L-20.4 -0.5 L-20.8 -0.1 L-21.0 0.5 L-21.0 1.0 L-20.8 1.6 L-20.4 2.0 L-20.1 2.2 L-19.6 2.2 L-19.2 2.0 L-18.9 1.6 M-17.2 -2.2 L-17.2 1.4 L-17.0 2.0 L-16.7 2.2 L-16.3 2.2 M-17.8 -0.8 L-16.5 -0.8 M-15.2 0.3 L-11.8 0.3 M-9.0 -3.1 L-9.4 -2.7 L-9.8 -2.0 L-10.1 -1.2 L-10.3 -0.1 L-10.3 0.8 L-10.1 1.8 L-9.8 2.7 L-9.4 3.3 L-9.0 3.8 M-7.5 -2.2 L-7.5 2.2 M-7.5 -2.2 L-6.0 -2.2 L-5.5 -2.0 L-5.3 -1.8 L-5.1 -1.4 L-5.1 -1.0 L-5.3 -0.5 L-5.5 -0.3 L-6.0 -0.1 L-7.5 -0.1 M-6.3 -0.1 L-5.1 2.2 M-2.6 -2.2 L-4.0 2.2 M-2.6 -2.2 L-1.2 2.2 M-3.5 0.8 L-1.8 0.8 M0.2 -2.2 L2.1 -2.2 L1.0 -0.5 L1.6 -0.5 L1.9 -0.3 L2.1 -0.1 L2.3 0.5 L2.3 1.0 L2.1 1.6 L1.7 2.0 L1.2 2.2 L0.7 2.2 L0.2 2.0 L-0.0 1.8 L-0.2 1.4 M3.7 0.3 L7.1 0.3 M8.7 -2.2 L8.7 2.2 M8.7 -2.2 L10.3 -2.2 L10.8 -2.0 L11.0 -1.8 L11.2 -1.4 L11.2 -0.8 L11.0 -0.3 L10.8 -0.1 L10.3 0.1 L8.7 0.1 M14.7 -0.8 L14.7 2.2 M14.7 -0.1 L14.4 -0.5 L14.0 -0.8 L13.5 -0.8 L13.1 -0.5 L12.8 -0.1 L12.6 0.5 L12.6 1.0 L12.8 1.6 L13.1 2.0 L13.5 2.2 L14.0 2.2 L14.4 2.0 L14.7 1.6 M18.4 -2.2 L18.4 2.2 M18.4 -0.1 L18.0 -0.5 L17.7 -0.8 L17.2 -0.8 L16.8 -0.5 L16.5 -0.1 L16.3 0.5 L16.3 1.0 L16.5 1.6 L16.8 2.0 L17.2 2.2 L17.7 2.2 L18.0 2.0 L18.4 1.6 M20.1 -1.2 L20.1 -1.4 L20.2 -1.8 L20.4 -2.0 L20.8 -2.2 L21.6 -2.2 L22.0 -2.0 L22.2 -1.8 L22.4 -1.4 L22.4 -1.0 L22.2 -0.5 L21.9 0.1 L20.0 2.2 L22.4 2.2 M23.7 -3.1 L24.1 -2.7 L24.4 -2.0 L24.8 -1.2 L25.0 -0.1 L25.0 0.8 L24.8 1.8 L24.4 2.7 L24.1 3.3 L23.7 3.8" stroke="#ffffff" stroke-width="1"/>
<path transform="translate(1490 191.3) rotate(0)" d="M-13.7 -5.7 L-12.0 -6.6 L-9.4 -9.2 L-9.4 9.2 M-14.5 9.2 L-4.3 9.2 M5.2 -5.7 L6.9 -6.6 L9.4 -9.2 L9.4 9.2 M4.3 9.2 L14.5 9.2" stroke="#ffffff" stroke-width="1"/>
<path transform="translate(1490 232.3) rotate(0)" d="M-25.0 -2.2 L-25.0 2.2 M-25.0 -2.2 L-22.4 2.2 M-22.4 -2.2 L-22.4 2.2 M-20.7 0.5 L-18.4 0.5 L-18.4 0.1 L-18.6 -0.3 L-18.8 -0.5 L-19.2 -0.8 L-19.7 -0.8 L-20.1 -0.5 L-20.5 -0.1 L-20.7 0.5 L-20.7 1.0 L-20.5 1.6 L-20.1 2.0 L-19.7 2.2 L-19.2 2.2 L-18.8 2.0 L-18.4 1.6 M-16.7 -2.2 L-16.7 1.4 L-16.5 2.0 L-16.1 2.2 L-15.7 2.2 M-17.3 -0.8 L-15.9 -0.8 M-14.5 0.3 L-10.9 0.3 M-7.9 -3.1 L-8.3 -2.7 L-8.7 -2.0 L-9.1 -1.2 L-9.3 -0.1 L-9.3 0.8 L-9.1 1.8 L-8.7 2.7 L-8.3 3.3 L-7.9 3.8 M-5.4 -2.2 L-5.7 -2.0 L-6.1 -1.6 L-6.3 -1.2 L-6.5 -0.5 L-6.5 0.5 L-6.3 1.2 L-6.1 1.6 L-5.7 2.0 L-5.4 2.2 L-4.6 2.2 L-4.3 2.0 L-3.9 1.6 L-3.7 1.2 L-3.5 0.5 L-3.5 -0.5 L-3.7 -1.2 L-3.9 -1.6 L-4.3 -2.0 L-4.6 -2.2 L-5.4 -2.2 M-4.8 1.4 L-3.7 2.7 M-1.9 -1.2 L-1.9 -1.4 L-1.7 -1.8 L-1.5 -2.0 L-1.1 -2.2 L-0.2 -2.2 L0.2 -2.0 L0.5 -1.8 L0.7 -1.4 L0.7 -1.0 L0.5 -0.5 L0.1 0.1 L-2.0 2.2 L0.7 2.2 M2.2 0.3 L5.8 0.3 M7.6 -2.2 L7.6 2.2 M7.6 -2.2 L9.3 -2.2 L9.8 -2.0 L10.0 -1.8 L10.2 -1.4 L10.2 -0.8 L10.0 -0.3 L9.8 -0.1 L9.3 0.1 L7.6 0.1 M14.0 -0.8 L14.0 2.2 M14.0 -0.1 L13.6 -0.5 L13.2 -0.8 L12.7 -0.8 L12.3 -0.5 L11.9 -0.1 L11.7 0.5 L11.7 1.0 L11.9 1.6 L12.3 2.0 L12.7 2.2 L13.2 2.2 L13.6 2.0 L14.0 1.6 M17.9 -2.2 L17.9 2.2 M17.9 -0.1 L17.5 -0.5 L17.2 -0.8 L16.6 -0.8 L16.2 -0.5 L15.9 -0.1 L15.7 0.5 L15.7 1.0 L15.9 1.6 L16.2 2.0 L16.6 2.2 L17.2 2.2 L17.5 2.0 L17.9 1.6 M20.0 -2.2 L22.0 -2.2 L20.9 -0.5 L21.5 -0.5 L21.9 -0.3 L22.0 -0.1 L22.2 0.5 L22.2 1.0 L22.0 1.6 L21.7 2.0 L21.1 2.2 L20.6 2.2 L20.0 2.0 L19.8 1.8 L19.6 1.4 M23.6 -3.1 L24.0 -2.7 L24.4 -2.0 L24.8 -1.2 L25.0 -0.1 L25.0 0.8 L24.8 1.8 L24.4 2.7 L24.0 3.3 L23.6 3.8" stroke="#ffffff" stroke-width="1"/>
<path transform="translate(1429.9 489.4) rotate(0)" d="M-13.7 -5.7 L-12.0 -6.6 L-9.4 -9.2 L-9.4 9.2 M-14.5 9.2 L-4.3 9.2 M7.7 -9.2 L5.2 -8.4 L3.5 -5.7 L2.6 -1.3 L2.6 1.3 L3.5 5.7 L5.2 8.4 L7.7 9.2 L9.4 9.2 L12.0 8.4 L13.7 5.7 L14.5 1.3 L14.5 -1.3 L13.7 -5.7 L12.0 -8.4 L9.4 -9.2 L7.7 -9.2" stroke="#ffffff" stroke-width="1"/>
<path transform="translate(1429.9 530.4) rotate(0)" d="M-25.0 -2.2 L-25.0 2.2 M-25.0 -2.2 L-22.4 2.2 M-22.4 -2.2 L-22.4 2.2 M-20.7 0.5 L-18.4 0.5 L-18.4 0.1 L-18.6 -0.3 L-18.8 -0.5 L-19.2 -0.8 L-19.7 -0.8 L-20.1 -0.5 L-20.5 -0.1 L-20.7 0.5 L-20.7 1.0 L-20.5 1.6 L-20.1 2.0 L-19.7 2.2 L-19.2 2.2 L-18.8 2.0 L-18.4 1.6 M-16.7 -2.2 L-16.7 1.4 L-16.5 2.0 L-16.1 2.2 L-15.7 2.2 M-17.3 -0.8 L-15.9 -0.8 M-14.5 0.3 L-10.9 0.3 M-7.9 -3.1 L-8.3 -2.7 L-8.7 -2.0 L-9.1 -1.2 L-9.3 -0.1 L-9.3 0.8 L-9.1 1.8 L-8.7 2.7 L-8.3 3.3 L-7.9 3.8 M-5.4 -2.2 L-5.7 -2.0 L-6.1 -1.6 L-6.3 -1.2 L-6.5 -0.5 L-6.5 0.5 L-6.3 1.2 L-6.1 1.6 L-5.7 2.0 L-5.4 2.2 L-4.6 2.2 L-4.3 2.0 L-3.9 1.6 L-3.7 1.2 L-3.5 0.5 L-3.5 -0.5 L-3.7 -1.2 L-3.9 -1.6 L-4.3 -2.0 L-4.6 -2.2 L-5.4 -2.2 M-4.8 1.4 L-3.7 2.7 M-1.4 -1.4 L-1.0 -1.6 L-0.5 -2.2 L-0.5 2.2 M-1.6 2.2 L0.7 2.2 M2.2 0.3 L5.8 0.3 M7.6 -2.2 L7.6 2.2 M7.6 -2.2 L9.3 -2.2 L9.8 -2.0 L10.0 -1.8 L10.2 -1.4 L10.2 -0.8 L10.0 -0.3 L9.8 -0.1 L9.3 0.1 L7.6 0.1 M14.0 -0.8 L14.0 2.2 M14.0 -0.1 L13.6 -0.5 L13.2 -0.8 L12.7 -0.8 L12.3 -0.5 L11.9 -0.1 L11.7 0.5 L11.7 1.0 L11.9 1.6 L12.3 2.0 L12.7 2.2 L13.2 2.2 L13.6 2.0 L14.0 1.6 M17.9 -2.2 L17.9 2.2 M17.9 -0.1 L17.5 -0.5 L17.2 -0.8 L16.6 -0.8 L16.2 -0.5 L15.9 -0.1 L15.7 0.5 L15.7 1.0 L15.9 1.6 L16.2 2.0 L16.6 2.2 L17.2 2.2 L17.5 2.0 L17.9 1.6 M20.0 -2.2 L22.0 -2.2 L20.9 -0.5 L21.5 -0.5 L21.9 -0.3 L22.0 -0.1 L22.2 0.5 L22.2 1.0 L22.0 1.6 L21.7 2.0 L21.1 2.2 L20.6 2.2 L20.0 2.0 L19.8 1.8 L19.6 1.4 M23.6 -3.1 L24.0 -2.7 L24.4 -2.0 L24.8 -1.2 L25.0 -0.1 L25.0 0.8 L24.8 1.8 L24.4 2.7 L24.0 3.3 L23.6 3.8" stroke="#ffffff" stroke-width="1"/>
<path transform="translate(1490 589.6) rotate(0)" d="M5.0 -3.1 L4.2 -0.4 L2.7 1.3 L0.4 2.2 L-0.4 2.2 L-2.7 1.3 L-4.2 -0.4 L-5.0 -3.1 L-5.0 -4.0 L-4.2 -6.6 L-2.7 -8.4 L-0.4 -9.2 L0.4 -9.2 L2.7 -8.4 L4.2 -6.6 L5.0 -3.1 L5.0 1.3 L4.2 5.7 L2.7 8.4 L0.4 9.2 L-1.2 9.2 L-3.5 8.4 L-4.2 6.6" stroke="#ffffff" stroke-width="1"/>
<path transform="translate(1490 630.6) rotate(0)" d="M-25.0 -2.2 L-25.0 2.2 M-25.0 -2.2 L-22.6 2.2 M-22.6 -2.2 L-22.6 2.2 M-21.0 0.5 L-18.9 0.5 L-18.9 0.1 L-19.0 -0.3 L-19.2 -0.5 L-19.6 -0.8 L-20.1 -0.8 L-20.4 -0.5 L-20.8 -0.1 L-21.0 0.5 L-21.0 1.0 L-20.8 1.6 L-20.4 2.0 L-20.1 2.2 L-19.6 2.2 L-19.2 2.0 L-18.9 1.6 M-17.2 -2.2 L-17.2 1.4 L-17.0 2.0 L-16.7 2.2 L-16.3 2.2 M-17.8 -0.8 L-16.5 -0.8 M-15.2 0.3 L-11.8 0.3 M-9.0 -3.1 L-9.4 -2.7 L-9.8 -2.0 L-10.1 -1.2 L-10.3 -0.1 L-10.3 0.8 L-10.1 1.8 L-9.8 2.7 L-9.4 3.3 L-9.0 3.8 M-7.5 -2.2 L-7.5 2.2 M-7.5 -2.2 L-6.0 -2.2 L-5.5 -2.0 L-5.3 -1.8 L-5.1 -1.4 L-5.1 -1.0 L-5.3 -0.5 L-5.5 -0.3 L-6.0 -0.1 L-7.5 -0.1 M-6.3 -0.1 L-5.1 2.2 M-2.6 -2.2 L-4.0 2.2 M-2.6 -2.2 L-1.2 2.2 M-3.5 0.8 L-1.8 0.8 M-0.1 -1.2 L-0.1 -1.4 L0.1 -1.8 L0.3 -2.0 L0.6 -2.2 L1.5 -2.2 L1.8 -2.0 L2.1 -1.8 L2.3 -1.4 L2.3 -1.0 L2.1 -0.5 L1.7 0.1 L-0.2 2.2 L2.3 2.2 M3.7 0.3 L7.1 0.3 M8.7 -2.2 L8.7 2.2 M8.7 -2.2 L10.3 -2.2 L10.8 -2.0 L11.0 -1.8 L11.2 -1.4 L11.2 -0.8 L11.0 -0.3 L10.8 -0.1 L10.3 0.1 L8.7 0.1 M14.7 -0.8 L14.7 2.2 M14.7 -0.1 L14.4 -0.5 L14.0 -0.8 L13.5 -0.8 L13.1 -0.5 L12.8 -0.1 L12.6 0.5 L12.6 1.0 L12.8 1.6 L13.1 2.0 L13.5 2.2 L14.0 2.2 L14.4 2.0 L14.7 1.6 M18.4 -2.2 L18.4 2.2 M18.4 -0.1 L18.0 -0.5 L17.7 -0.8 L17.2 -0.8 L16.8 -0.5 L16.5 -0.1 L16.3 0.5 L16.3 1.0 L16.5 1.6 L16.8 2.0 L17.2 2.2 L17.7 2.2 L18.0 2.0 L18.4 1.6 M20.5 -1.4 L20.8 -1.6 L21.4 -2.2 L21.4 2.2 M20.3 2.2 L22.4 2.2 M23.7 -3.1 L24.1 -2.7 L24.4 -2.0 L24.8 -1.2 L25.0 -0.1 L25.0 0.8 L24.8 1.8 L24.4 2.7 L24.1 3.3 L23.7 3.8" stroke="#ffffff" stroke-width="1"/>
<path transform="translate(25 575.5) rotate(-90)" d="M-5.0 -5.9 L-3.0 -6.8 L-0.0 -9.5 L-0.0 9.5 M-6.0 9.5 L6.0 9.5" stroke="#ffffff" stroke-width="1"/>
<path d="M1.5 681 L1.5 690" stroke="#ffffff" stroke-width="1" stroke-linecap="butt" stroke-linejoin="round"/>
<path transform="translate(25.9 822.5) rotate(0)" d="M-2.8 -3.7 L-1.7 -4.3 L-0.0 -6.0 L-0.0 6.0 M-3.3 6.0 L3.3 6.0" stroke="#ffffff" stroke-width="1"/>
<path transform="translate(123.8 822.5) rotate(0)" d="M-2.8 -3.7 L-1.7 -4.3 L-0.0 -6.0 L-0.0 6.0 M-3.4 6.0 L3.4 6.0" stroke="#ffffff" stroke-width="1"/>
<path transform="translate(228.7 839.2) rotate(0)" d="M-4.0 -3.3 L-4.0 -3.9 L-3.4 -5.1 L-2.8 -5.7 L-1.6 -6.2 L1.6 -6.2 L2.8 -5.7 L3.7 -5.1 L4.3 -3.9 L4.3 -2.7 L3.7 -1.5 L2.5 0.3 L-4.3 6.2 L4.3 6.2" stroke="#ffffff" stroke-width="1"/>
<path transform="translate(336.9 823.5) rotate(0)" d="M-2.8 -3.7 L-1.7 -4.3 L-0.0 -6.0 L-0.0 6.0 M-3.3 6.0 L3.3 6.0" stroke="#ffffff" stroke-width="1"/>
<path transform="translate(435.9 823.5) rotate(0)" d="M-2.8 -3.7 L-1.7 -4.3 L-0.0 -6.0 L-0.0 6.0 M-3.3 6.0 L3.3 6.0" stroke="#ffffff" stroke-width="1"/>
<path transform="translate(536.9 823.5) rotate(0)" d="M-2.8 -3.7 L-1.7 -4.3 L-0.0 -6.0 L-0.0 6.0 M-3.4 6.0 L3.4 6.0" stroke="#ffffff" stroke-width="1"/>
<path transform="translate(635.6 840.2) rotate(0)" d="M-4.0 -3.3 L-4.0 -3.9 L-3.4 -5.1 L-2.8 -5.7 L-1.6 -6.2 L1.6 -6.2 L2.8 -5.7 L3.7 -5.1 L4.4 -3.9 L4.4 -2.7 L3.7 -1.5 L2.5 0.3 L-4.4 6.2 L4.4 6.2" stroke="#ffffff" stroke-width="1"/>
<path transform="translate(734.9 823.5) rotate(0)" d="M-2.8 -3.7 L-1.7 -4.3 L-0.0 -6.0 L-0.0 6.0 M-3.4 6.0 L3.4 6.0" stroke="#ffffff" stroke-width="1"/>
<path transform="translate(834.9 823.5) rotate(0)" d="M-2.8 -3.7 L-1.7 -4.3 L-0.0 -6.0 L-0.0 6.0 M-3.4 6.0 L3.4 6.0" stroke="#ffffff" stroke-width="1"/>
<path transform="translate(933.9 823.5) rotate(0)" d="M-2.8 -3.7 L-1.7 -4.3 L-0.0 -6.0 L-0.0 6.0 M-3.4 6.0 L3.4 6.0" stroke="#ffffff" stroke-width="1"/>
</g>
<g>
<path d="M187 198.2 L264.6 198.2" stroke="#840000" stroke-width="10" stroke-linecap="round" stroke-linejoin="round"/>
<path d="M339.6 198.2 L406.9 198.2" stroke="#840000" stroke-width="10" stroke-linecap="round" stroke-linejoin="round"/>
<path d="M199 198.2 L199 330 L273 330 L294 351 L294 485" stroke="#840000" stroke-width="10" stroke-linecap="round" stroke-linejoin="round"/>
<path d="M391 198.2 L391 330 L335.2 330 L313 352.2 L313 485" stroke="#840000" stroke-width="10" stroke-linecap="round" stroke-linejoin="round"/>
<path d="M398 537.7 L440.5 537.7 L515 463.2 L745.4 463.2 L891.1 317.5 L891.1 265.8 L920.5 236.4 L973 236.4 L1022.4 285.8 L1074 285.8 L1103.9 315.7 L1103.9 378.4 L1047.6 435.5" stroke="#840000" stroke-width="10" stroke-linecap="round" stroke-linejoin="round"/>
<path d="M398 556.6 L450.5 556.6 L526.1 481 L752.3 481 L946.9 286.4" stroke="#840000" stroke-width="10" stroke-linecap="round" stroke-linejoin="round"/>
<path d="M398 577.2 L431.6 577.2 L467.4 613 L1096.2 613 L1136.1 573.1 L1136.1 518.1 L1124 506 L1078.8 506 L1047.8 537" stroke="#840000" stroke-width="10" stroke-linecap="round" stroke-linejoin="round"/>
<path d="M398 596.6 L424.8 596.6 L460.1 632 L1107 632 L1156 583 L1156 506 L1136 486 L947 486" stroke="#840000" stroke-width="10" stroke-linecap="round" stroke-linejoin="round"/>
<path d="M560 405 L560 463.2" stroke="#840000" stroke-width="10" stroke-linecap="round" stroke-linejoin="round"/>
<path d="M555 449.7 H565 L574 458.5 H548.5 Z" fill="#840000"/>
<path d="M562 549 L562 481" stroke="#840000" stroke-width="10" stroke-linecap="round" stroke-linejoin="round"/>
<path d="M547 485.5 H581.3 L567 500 H557 V495.7 Z" fill="#840000"/>
<path d="M816.8 548 L816.8 613" stroke="#840000" stroke-width="10" stroke-linecap="round" stroke-linejoin="round"/>
<path d="M821.8 603.2 L826.8 608.2 H821.8 Z" fill="#840000"/>
<path d="M968 631.8 L968 753" stroke="#840000" stroke-width="10" stroke-linecap="round" stroke-linejoin="round"/>
<path d="M949.6 636.6 H986.1 L973 650 H963 Z" fill="#840000"/>
</g>
<g>
<path transform="translate(199.5 270.1) rotate(-90)" d="M-30.2 -4.0 L-30.2 4.0 M-30.2 -4.0 L-27.6 -4.0 L-26.7 -3.6 L-26.4 -3.2 L-26.1 -2.5 L-26.1 -1.7 L-26.4 -1.0 L-26.7 -0.6 L-27.6 -0.2 L-30.2 -0.2 M-28.2 -0.2 L-26.1 4.0 M-23.2 -4.0 L-23.2 4.0 M-23.2 -4.0 L-20.8 4.0 M-18.4 -4.0 L-20.8 4.0 M-18.4 -4.0 L-18.4 4.0 M-15.5 -4.0 L-15.5 4.0 M-12.9 -4.0 L-12.9 4.0 M-11.6 5.1 L-5.2 5.1 M-2.1 -4.0 L-2.7 -3.6 L-3.3 -2.9 L-3.6 -2.1 L-3.9 -1.0 L-3.9 1.0 L-3.6 2.1 L-3.3 2.9 L-2.7 3.6 L-2.1 4.0 L-0.9 4.0 L-0.3 3.6 L0.3 2.9 L0.6 2.1 L0.9 1.0 L0.9 -1.0 L0.6 -2.1 L0.3 -2.9 L-0.3 -3.6 L-0.9 -4.0 L-2.1 -4.0 M7.6 -2.9 L7.0 -3.6 L6.1 -4.0 L4.9 -4.0 L4.0 -3.6 L3.4 -2.9 L3.4 -2.1 L3.7 -1.3 L4.0 -1.0 L4.6 -0.6 L6.4 0.2 L7.0 0.6 L7.3 1.0 L7.6 1.7 L7.6 2.9 L7.0 3.6 L6.1 4.0 L4.9 4.0 L4.0 3.6 L3.4 2.9 M14.2 -2.1 L13.9 -2.9 L13.4 -3.6 L12.8 -4.0 L11.7 -4.0 L11.2 -3.6 L10.6 -2.9 L10.3 -2.1 L10.0 -1.0 L10.0 1.0 L10.3 2.1 L10.6 2.9 L11.2 3.6 L11.7 4.0 L12.8 4.0 L13.4 3.6 L13.9 2.9 L14.2 2.1 M15.5 5.1 L21.9 5.1 M23.2 -4.0 L23.2 4.0 M26.1 -4.0 L26.1 4.0 M26.1 -4.0 L30.2 4.0 M30.2 -4.0 L30.2 4.0" stroke="#ffffff" stroke-width="1"/>
<path transform="translate(391 272.2) rotate(-90)" d="M-34.5 -4.0 L-34.5 4.0 M-34.5 -4.0 L-31.9 -4.0 L-31.0 -3.6 L-30.7 -3.2 L-30.5 -2.5 L-30.5 -1.7 L-30.7 -1.0 L-31.0 -0.6 L-31.9 -0.2 L-34.5 -0.2 M-32.5 -0.2 L-30.5 4.0 M-27.7 -4.0 L-27.7 4.0 M-27.7 -4.0 L-25.4 4.0 M-23.1 -4.0 L-25.4 4.0 M-23.1 -4.0 L-23.1 4.0 M-20.3 -4.0 L-20.3 4.0 M-17.8 -4.0 L-17.8 4.0 M-16.6 5.1 L-10.4 5.1 M-7.4 -4.0 L-8.0 -3.6 L-8.6 -2.9 L-8.8 -2.1 L-9.1 -1.0 L-9.1 1.0 L-8.8 2.1 L-8.6 2.9 L-8.0 3.6 L-7.4 4.0 L-6.2 4.0 L-5.7 3.6 L-5.1 2.9 L-4.8 2.1 L-4.5 1.0 L-4.5 -1.0 L-4.8 -2.1 L-5.1 -2.9 L-5.7 -3.6 L-6.2 -4.0 L-7.4 -4.0 M1.9 -2.9 L1.4 -3.6 L0.5 -4.0 L-0.7 -4.0 L-1.5 -3.6 L-2.1 -2.9 L-2.1 -2.1 L-1.8 -1.3 L-1.5 -1.0 L-0.9 -0.6 L0.8 0.2 L1.4 0.6 L1.7 1.0 L1.9 1.7 L1.9 2.9 L1.4 3.6 L0.5 4.0 L-0.7 4.0 L-1.5 3.6 L-2.1 2.9 M8.4 -2.1 L8.1 -2.9 L7.6 -3.6 L7.0 -4.0 L5.9 -4.0 L5.4 -3.6 L4.9 -2.9 L4.6 -2.1 L4.3 -1.0 L4.3 1.0 L4.6 2.1 L4.9 2.9 L5.4 3.6 L5.9 4.0 L7.0 4.0 L7.6 3.6 L8.1 2.9 L8.4 2.1 M9.6 5.1 L15.8 5.1 M18.7 -4.0 L18.1 -3.6 L17.6 -2.9 L17.3 -2.1 L17.0 -1.0 L17.0 1.0 L17.3 2.1 L17.6 2.9 L18.1 3.6 L18.7 4.0 L19.9 4.0 L20.5 3.6 L21.0 2.9 L21.3 2.1 L21.6 1.0 L21.6 -1.0 L21.3 -2.1 L21.0 -2.9 L20.5 -3.6 L19.9 -4.0 L18.7 -4.0 M24.4 -4.0 L24.4 1.7 L24.6 2.9 L25.2 3.6 L26.1 4.0 L26.7 4.0 L27.5 3.6 L28.1 2.9 L28.4 1.7 L28.4 -4.0 M32.5 -4.0 L32.5 4.0 M30.5 -4.0 L34.5 -4.0" stroke="#ffffff" stroke-width="1"/>
<path transform="translate(294 419.8) rotate(-90)" d="M-30.7 -4.0 L-30.7 4.0 M-30.7 -4.0 L-28.0 -4.0 L-27.1 -3.6 L-26.7 -3.2 L-26.4 -2.5 L-26.4 -1.7 L-26.7 -1.0 L-27.1 -0.6 L-28.0 -0.2 L-30.7 -0.2 M-28.6 -0.2 L-26.4 4.0 M-23.5 -4.0 L-23.5 4.0 M-23.5 -4.0 L-21.1 4.0 M-18.7 -4.0 L-21.1 4.0 M-18.7 -4.0 L-18.7 4.0 M-15.7 -4.0 L-15.7 4.0 M-13.1 -4.0 L-13.1 4.0 M-11.8 5.1 L-5.3 5.1 M-2.2 -4.0 L-2.8 -3.6 L-3.4 -2.9 L-3.7 -2.1 L-4.0 -1.0 L-4.0 1.0 L-3.7 2.1 L-3.4 2.9 L-2.8 3.6 L-2.2 4.0 L-1.0 4.0 L-0.3 3.6 L0.3 2.9 L0.6 2.1 L0.9 1.0 L0.9 -1.0 L0.6 -2.1 L0.3 -2.9 L-0.3 -3.6 L-1.0 -4.0 L-2.2 -4.0 M7.7 -2.9 L7.1 -3.6 L6.2 -4.0 L4.9 -4.0 L4.0 -3.6 L3.4 -2.9 L3.4 -2.1 L3.7 -1.3 L4.0 -1.0 L4.6 -0.6 L6.5 0.2 L7.1 0.6 L7.4 1.0 L7.7 1.7 L7.7 2.9 L7.1 3.6 L6.2 4.0 L4.9 4.0 L4.0 3.6 L3.4 2.9 M14.4 -2.1 L14.2 -2.9 L13.6 -3.6 L13.0 -4.0 L11.9 -4.0 L11.3 -3.6 L10.8 -2.9 L10.5 -2.1 L10.2 -1.0 L10.2 1.0 L10.5 2.1 L10.8 2.9 L11.3 3.6 L11.9 4.0 L13.0 4.0 L13.6 3.6 L14.2 2.9 L14.4 2.1 M15.7 5.1 L22.2 5.1 M23.5 -4.0 L23.5 4.0 M26.4 -4.0 L26.4 4.0 M26.4 -4.0 L30.7 4.0 M30.7 -4.0 L30.7 4.0" stroke="#ffffff" stroke-width="1"/>
<path transform="translate(313.2 420) rotate(-90)" d="M-35.2 -4.0 L-35.2 4.0 M-35.2 -4.0 L-32.5 -4.0 L-31.7 -3.6 L-31.4 -3.2 L-31.1 -2.5 L-31.1 -1.7 L-31.4 -1.0 L-31.7 -0.6 L-32.5 -0.2 L-35.2 -0.2 M-33.1 -0.2 L-31.1 4.0 M-28.3 -4.0 L-28.3 4.0 M-28.3 -4.0 L-25.9 4.0 M-23.6 -4.0 L-25.9 4.0 M-23.6 -4.0 L-23.6 4.0 M-20.7 -4.0 L-20.7 4.0 M-18.2 -4.0 L-18.2 4.0 M-16.9 5.1 L-10.6 5.1 M-7.6 -4.0 L-8.1 -3.6 L-8.7 -2.9 L-9.0 -2.1 L-9.3 -1.0 L-9.3 1.0 L-9.0 2.1 L-8.7 2.9 L-8.1 3.6 L-7.6 4.0 L-6.4 4.0 L-5.8 3.6 L-5.2 2.9 L-4.9 2.1 L-4.6 1.0 L-4.6 -1.0 L-4.9 -2.1 L-5.2 -2.9 L-5.8 -3.6 L-6.4 -4.0 L-7.6 -4.0 M2.0 -2.9 L1.4 -3.6 L0.5 -4.0 L-0.7 -4.0 L-1.6 -3.6 L-2.1 -2.9 L-2.1 -2.1 L-1.8 -1.3 L-1.6 -1.0 L-1.0 -0.6 L0.8 0.2 L1.4 0.6 L1.7 1.0 L2.0 1.7 L2.0 2.9 L1.4 3.6 L0.5 4.0 L-0.7 4.0 L-1.6 3.6 L-2.1 2.9 M8.5 -2.1 L8.3 -2.9 L7.7 -3.6 L7.2 -4.0 L6.1 -4.0 L5.5 -3.6 L5.0 -2.9 L4.7 -2.1 L4.4 -1.0 L4.4 1.0 L4.7 2.1 L5.0 2.9 L5.5 3.6 L6.1 4.0 L7.2 4.0 L7.7 3.6 L8.3 2.9 L8.5 2.1 M9.8 5.1 L16.1 5.1 M19.1 -4.0 L18.5 -3.6 L17.9 -2.9 L17.6 -2.1 L17.3 -1.0 L17.3 1.0 L17.6 2.1 L17.9 2.9 L18.5 3.6 L19.1 4.0 L20.3 4.0 L20.9 3.6 L21.5 2.9 L21.8 2.1 L22.1 1.0 L22.1 -1.0 L21.8 -2.1 L21.5 -2.9 L20.9 -3.6 L20.3 -4.0 L19.1 -4.0 M24.8 -4.0 L24.8 1.7 L25.1 2.9 L25.7 3.6 L26.6 4.0 L27.2 4.0 L28.1 3.6 L28.7 2.9 L29.0 1.7 L29.0 -4.0 M33.1 -4.0 L33.1 4.0 M31.1 -4.0 L35.2 -4.0" stroke="#ffffff" stroke-width="1"/>
<path transform="translate(652.5 463.9) rotate(0)" d="M-44.3 -3.7 L-44.3 3.7 M-44.3 -3.7 L-40.1 3.7 M-40.1 -3.7 L-40.1 3.7 M-37.2 0.9 L-33.6 0.9 L-33.6 0.2 L-33.9 -0.5 L-34.2 -0.9 L-34.8 -1.2 L-35.7 -1.2 L-36.3 -0.9 L-36.9 -0.2 L-37.2 0.9 L-37.2 1.6 L-36.9 2.6 L-36.3 3.3 L-35.7 3.7 L-34.8 3.7 L-34.2 3.3 L-33.6 2.6 M-30.7 -3.7 L-30.7 2.3 L-30.3 3.3 L-29.7 3.7 L-29.0 3.7 M-31.7 -1.2 L-29.4 -1.2 M-27.1 0.5 L-21.1 0.5 M-16.2 -5.0 L-16.9 -4.3 L-17.5 -3.3 L-18.2 -1.9 L-18.5 -0.2 L-18.5 1.2 L-18.2 3.0 L-17.5 4.3 L-16.9 5.4 L-16.2 6.1 M-13.6 -3.7 L-13.6 3.7 M-13.6 -3.7 L-10.9 -3.7 L-9.9 -3.3 L-9.6 -3.0 L-9.3 -2.3 L-9.3 -1.6 L-9.6 -0.9 L-9.9 -0.5 L-10.9 -0.2 L-13.6 -0.2 M-11.5 -0.2 L-9.3 3.7 M-6.2 -3.7 L-2.8 -3.7 L-4.6 -0.9 L-3.7 -0.9 L-3.1 -0.5 L-2.8 -0.2 L-2.5 0.9 L-2.5 1.6 L-2.8 2.6 L-3.4 3.3 L-4.3 3.7 L-5.3 3.7 L-6.2 3.3 L-6.5 3.0 L-6.8 2.3 M4.3 -1.2 L4.0 -0.2 L3.3 0.5 L2.3 0.9 L2.0 0.9 L1.0 0.5 L0.4 -0.2 L0.0 -1.2 L0.0 -1.6 L0.4 -2.6 L1.0 -3.3 L2.0 -3.7 L2.3 -3.7 L3.3 -3.3 L4.0 -2.6 L4.3 -1.2 L4.3 0.5 L4.0 2.3 L3.3 3.3 L2.3 3.7 L1.7 3.7 L0.7 3.3 L0.4 2.6 M6.9 0.5 L12.8 0.5 M15.7 -3.7 L15.7 3.7 M15.7 -3.7 L18.5 -3.7 L19.4 -3.3 L19.7 -3.0 L20.0 -2.3 L20.0 -1.2 L19.7 -0.5 L19.4 -0.2 L18.5 0.2 L15.7 0.2 M26.2 -1.2 L26.2 3.7 M26.2 -0.2 L25.6 -0.9 L25.0 -1.2 L24.1 -1.2 L23.5 -0.9 L22.8 -0.2 L22.5 0.9 L22.5 1.6 L22.8 2.6 L23.5 3.3 L24.1 3.7 L25.0 3.7 L25.6 3.3 L26.2 2.6 M32.7 -3.7 L32.7 3.7 M32.7 -0.2 L32.1 -0.9 L31.5 -1.2 L30.5 -1.2 L29.9 -0.9 L29.3 -0.2 L29.0 0.9 L29.0 1.6 L29.3 2.6 L29.9 3.3 L30.5 3.7 L31.5 3.7 L32.1 3.3 L32.7 2.6 M35.7 -1.9 L35.7 -2.3 L36.0 -3.0 L36.3 -3.3 L36.9 -3.7 L38.4 -3.7 L39.0 -3.3 L39.5 -3.0 L39.8 -2.3 L39.8 -1.6 L39.5 -0.9 L38.9 0.2 L35.5 3.7 L39.8 3.7 M42.0 -5.0 L42.7 -4.3 L43.4 -3.3 L44.0 -1.9 L44.3 -0.2 L44.3 1.2 L44.0 3.0 L43.4 4.3 L42.7 5.4 L42.0 6.1" stroke="#ffffff" stroke-width="1"/>
<path transform="translate(666.2 481.8) rotate(0)" d="M-43.8 -3.7 L-43.8 3.7 M-43.8 -3.7 L-39.6 3.7 M-39.6 -3.7 L-39.6 3.7 M-36.8 0.9 L-33.1 0.9 L-33.1 0.2 L-33.4 -0.5 L-33.7 -0.9 L-34.3 -1.2 L-35.3 -1.2 L-35.9 -0.9 L-36.5 -0.2 L-36.8 0.9 L-36.8 1.6 L-36.5 2.6 L-35.9 3.3 L-35.3 3.7 L-34.3 3.7 L-33.7 3.3 L-33.1 2.6 M-30.3 -3.7 L-30.3 2.3 L-30.0 3.3 L-29.3 3.7 L-28.7 3.7 M-31.3 -1.2 L-29.0 -1.2 M-26.7 0.5 L-20.9 0.5 M-16.0 -5.1 L-16.6 -4.4 L-17.3 -3.3 L-17.9 -1.9 L-18.3 -0.2 L-18.3 1.2 L-17.9 3.0 L-17.3 4.4 L-16.6 5.5 L-16.0 6.2 M-13.4 -3.7 L-13.4 3.7 M-13.4 -3.7 L-10.7 -3.7 L-9.8 -3.3 L-9.5 -3.0 L-9.2 -2.3 L-9.2 -1.6 L-9.5 -0.9 L-9.8 -0.5 L-10.7 -0.2 L-13.4 -0.2 M-11.3 -0.2 L-9.2 3.7 M-6.1 -3.7 L-2.8 -3.7 L-4.6 -0.9 L-3.7 -0.9 L-3.1 -0.5 L-2.8 -0.2 L-2.5 0.9 L-2.5 1.6 L-2.8 2.6 L-3.4 3.3 L-4.3 3.7 L-5.2 3.7 L-6.1 3.3 L-6.4 3.0 L-6.7 2.3 M1.5 -3.7 L0.6 -3.3 L0.3 -2.6 L0.3 -1.9 L0.6 -1.2 L1.2 -0.9 L2.4 -0.5 L3.4 -0.2 L4.0 0.5 L4.3 1.2 L4.3 2.3 L4.0 3.0 L3.7 3.3 L2.7 3.7 L1.5 3.7 L0.6 3.3 L0.3 3.0 L0.0 2.3 L0.0 1.2 L0.3 0.5 L0.9 -0.2 L1.8 -0.5 L3.1 -0.9 L3.7 -1.2 L4.0 -1.9 L4.0 -2.6 L3.7 -3.3 L2.7 -3.7 L1.5 -3.7 M6.8 0.5 L12.7 0.5 M15.5 -3.7 L15.5 3.7 M15.5 -3.7 L18.3 -3.7 L19.2 -3.3 L19.5 -3.0 L19.8 -2.3 L19.8 -1.2 L19.5 -0.5 L19.2 -0.2 L18.3 0.2 L15.5 0.2 M25.9 -1.2 L25.9 3.7 M25.9 -0.2 L25.3 -0.9 L24.7 -1.2 L23.8 -1.2 L23.2 -0.9 L22.6 -0.2 L22.3 0.9 L22.3 1.6 L22.6 2.6 L23.2 3.3 L23.8 3.7 L24.7 3.7 L25.3 3.3 L25.9 2.6 M32.3 -3.7 L32.3 3.7 M32.3 -0.2 L31.7 -0.9 L31.1 -1.2 L30.2 -1.2 L29.6 -0.9 L29.0 -0.2 L28.7 0.9 L28.7 1.6 L29.0 2.6 L29.6 3.3 L30.2 3.7 L31.1 3.7 L31.7 3.3 L32.3 2.6 M35.2 -1.9 L35.2 -2.3 L35.5 -3.0 L35.8 -3.3 L36.4 -3.7 L37.9 -3.7 L38.5 -3.3 L39.0 -3.0 L39.3 -2.3 L39.3 -1.6 L39.0 -0.9 L38.4 0.2 L35.1 3.7 L39.3 3.7 M41.5 -5.1 L42.2 -4.4 L42.8 -3.3 L43.5 -1.9 L43.8 -0.2 L43.8 1.2 L43.5 3.0 L42.8 4.4 L42.2 5.5 L41.5 6.2" stroke="#ffffff" stroke-width="1"/>
<path transform="translate(689.3 613.2) rotate(0)" d="M-44.0 -3.8 L-44.0 3.8 M-44.0 -3.8 L-39.7 3.8 M-39.7 -3.8 L-39.7 3.8 M-36.9 0.9 L-33.3 0.9 L-33.3 0.2 L-33.6 -0.5 L-33.9 -0.9 L-34.5 -1.2 L-35.4 -1.2 L-36.0 -0.9 L-36.6 -0.2 L-36.9 0.9 L-36.9 1.6 L-36.6 2.7 L-36.0 3.4 L-35.4 3.8 L-34.5 3.8 L-33.9 3.4 L-33.3 2.7 M-30.4 -3.8 L-30.4 2.3 L-30.1 3.4 L-29.5 3.8 L-28.8 3.8 M-31.4 -1.2 L-29.1 -1.2 M-26.8 0.5 L-21.0 0.5 M-16.1 -5.2 L-16.7 -4.5 L-17.4 -3.4 L-18.0 -2.0 L-18.4 -0.2 L-18.4 1.2 L-18.0 3.0 L-17.4 4.5 L-16.7 5.5 L-16.1 6.2 M-13.5 -3.8 L-13.5 3.8 M-13.5 -3.8 L-10.8 -3.8 L-9.9 -3.4 L-9.6 -3.0 L-9.3 -2.3 L-9.3 -1.6 L-9.6 -0.9 L-9.9 -0.5 L-10.8 -0.2 L-13.5 -0.2 M-11.4 -0.2 L-9.3 3.8 M-4.9 -3.8 L-6.6 1.4 L-2.3 1.4 M-3.5 -1.1 L-3.5 3.8 M0.9 -2.3 L1.5 -2.7 L2.5 -3.8 L2.5 3.8 M0.6 3.8 L4.3 3.8 M6.8 0.5 L12.7 0.5 M15.6 -3.8 L15.6 3.8 M15.6 -3.8 L18.3 -3.8 L19.2 -3.4 L19.6 -3.0 L19.9 -2.3 L19.9 -1.2 L19.6 -0.5 L19.2 -0.2 L18.3 0.2 L15.6 0.2 M26.0 -1.2 L26.0 3.8 M26.0 -0.2 L25.4 -0.9 L24.8 -1.2 L23.9 -1.2 L23.3 -0.9 L22.7 -0.2 L22.4 0.9 L22.4 1.6 L22.7 2.7 L23.3 3.4 L23.9 3.8 L24.8 3.8 L25.4 3.4 L26.0 2.7 M32.4 -3.8 L32.4 3.8 M32.4 -0.2 L31.8 -0.9 L31.2 -1.2 L30.3 -1.2 L29.7 -0.9 L29.1 -0.2 L28.8 0.9 L28.8 1.6 L29.1 2.7 L29.7 3.4 L30.3 3.8 L31.2 3.8 L31.8 3.4 L32.4 2.7 M35.4 -2.0 L35.4 -2.3 L35.7 -3.0 L36.0 -3.4 L36.6 -3.8 L38.1 -3.8 L38.7 -3.4 L39.2 -3.0 L39.5 -2.3 L39.5 -1.6 L39.2 -0.9 L38.6 0.2 L35.2 3.8 L39.5 3.8 M41.7 -5.2 L42.4 -4.5 L43.0 -3.4 L43.7 -2.0 L44.0 -0.2 L44.0 1.2 L43.7 3.0 L43.0 4.5 L42.4 5.5 L41.7 6.2" stroke="#ffffff" stroke-width="1"/>
<path transform="translate(961.2 613.2) rotate(0)" d="M-44.4 -3.8 L-44.4 3.8 M-44.4 -3.8 L-40.1 3.8 M-40.1 -3.8 L-40.1 3.8 M-37.3 0.9 L-33.6 0.9 L-33.6 0.2 L-33.9 -0.5 L-34.2 -0.9 L-34.8 -1.2 L-35.7 -1.2 L-36.4 -0.9 L-37.0 -0.2 L-37.3 0.9 L-37.3 1.6 L-37.0 2.7 L-36.4 3.4 L-35.7 3.8 L-34.8 3.8 L-34.2 3.4 L-33.6 2.7 M-30.7 -3.8 L-30.7 2.3 L-30.4 3.4 L-29.7 3.8 L-29.1 3.8 M-31.7 -1.2 L-29.4 -1.2 M-27.1 0.5 L-21.2 0.5 M-16.2 -5.2 L-16.9 -4.5 L-17.5 -3.4 L-18.2 -2.0 L-18.5 -0.2 L-18.5 1.2 L-18.2 3.0 L-17.5 4.5 L-16.9 5.5 L-16.2 6.2 M-13.6 -3.8 L-13.6 3.8 M-13.6 -3.8 L-10.9 -3.8 L-10.0 -3.4 L-9.6 -3.0 L-9.3 -2.3 L-9.3 -1.6 L-9.6 -0.9 L-10.0 -0.5 L-10.9 -0.2 L-13.6 -0.2 M-11.5 -0.2 L-9.3 3.8 M-4.9 -3.8 L-6.6 1.4 L-2.3 1.4 M-3.5 -1.1 L-3.5 3.8 M0.9 -2.3 L1.6 -2.7 L2.5 -3.8 L2.5 3.8 M0.6 3.8 L4.3 3.8 M6.9 0.5 L12.8 0.5 M15.7 -3.8 L15.7 3.8 M15.7 -3.8 L18.5 -3.8 L19.4 -3.4 L19.7 -3.0 L20.0 -2.3 L20.0 -1.2 L19.7 -0.5 L19.4 -0.2 L18.5 0.2 L15.7 0.2 M26.2 -1.2 L26.2 3.8 M26.2 -0.2 L25.6 -0.9 L25.0 -1.2 L24.1 -1.2 L23.5 -0.9 L22.9 -0.2 L22.6 0.9 L22.6 1.6 L22.9 2.7 L23.5 3.4 L24.1 3.8 L25.0 3.8 L25.6 3.4 L26.2 2.7 M32.7 -3.8 L32.7 3.8 M32.7 -0.2 L32.1 -0.9 L31.5 -1.2 L30.6 -1.2 L30.0 -0.9 L29.4 -0.2 L29.0 0.9 L29.0 1.6 L29.4 2.7 L30.0 3.4 L30.6 3.8 L31.5 3.8 L32.1 3.4 L32.7 2.7 M35.7 -2.0 L35.7 -2.3 L36.0 -3.0 L36.3 -3.4 L36.9 -3.8 L38.5 -3.8 L39.1 -3.4 L39.5 -3.0 L39.8 -2.3 L39.8 -1.6 L39.5 -0.9 L38.9 0.2 L35.5 3.8 L39.8 3.8 M42.1 -5.2 L42.8 -4.5 L43.4 -3.4 L44.1 -2.0 L44.4 -0.2 L44.4 1.2 L44.1 3.0 L43.4 4.5 L42.8 5.5 L42.1 6.2" stroke="#ffffff" stroke-width="1"/>
<path transform="translate(707.5 633.2) rotate(0)" d="M-43.9 -3.8 L-43.9 3.8 M-43.9 -3.8 L-39.7 3.8 M-39.7 -3.8 L-39.7 3.8 M-36.9 0.9 L-33.3 0.9 L-33.3 0.2 L-33.6 -0.5 L-33.9 -0.9 L-34.5 -1.2 L-35.4 -1.2 L-36.0 -0.9 L-36.6 -0.2 L-36.9 0.9 L-36.9 1.6 L-36.6 2.7 L-36.0 3.4 L-35.4 3.8 L-34.5 3.8 L-33.9 3.4 L-33.3 2.7 M-30.4 -3.8 L-30.4 2.3 L-30.1 3.4 L-29.4 3.8 L-28.8 3.8 M-31.4 -1.2 L-29.1 -1.2 M-26.8 0.5 L-20.9 0.5 M-16.0 -5.2 L-16.7 -4.5 L-17.4 -3.4 L-18.0 -2.0 L-18.3 -0.2 L-18.3 1.2 L-18.0 3.0 L-17.4 4.5 L-16.7 5.5 L-16.0 6.2 M-13.5 -3.8 L-13.5 3.8 M-13.5 -3.8 L-10.8 -3.8 L-9.9 -3.4 L-9.6 -3.0 L-9.2 -2.3 L-9.2 -1.6 L-9.6 -0.9 L-9.9 -0.5 L-10.8 -0.2 L-13.5 -0.2 M-11.4 -0.2 L-9.2 3.8 M-4.9 -3.8 L-6.6 1.4 L-2.3 1.4 M-3.4 -1.1 L-3.4 3.8 M1.8 -3.8 L0.9 -3.4 L0.3 -2.3 L0.0 -0.5 L0.0 0.5 L0.3 2.3 L0.9 3.4 L1.8 3.8 L2.5 3.8 L3.4 3.4 L4.0 2.3 L4.3 0.5 L4.3 -0.5 L4.0 -2.3 L3.4 -3.4 L2.5 -3.8 L1.8 -3.8 M6.8 0.5 L12.7 0.5 M15.6 -3.8 L15.6 3.8 M15.6 -3.8 L18.3 -3.8 L19.2 -3.4 L19.5 -3.0 L19.8 -2.3 L19.8 -1.2 L19.5 -0.5 L19.2 -0.2 L18.3 0.2 L15.6 0.2 M26.0 -1.2 L26.0 3.8 M26.0 -0.2 L25.4 -0.9 L24.8 -1.2 L23.9 -1.2 L23.2 -0.9 L22.6 -0.2 L22.3 0.9 L22.3 1.6 L22.6 2.7 L23.2 3.4 L23.9 3.8 L24.8 3.8 L25.4 3.4 L26.0 2.7 M32.4 -3.8 L32.4 3.8 M32.4 -0.2 L31.8 -0.9 L31.2 -1.2 L30.3 -1.2 L29.7 -0.9 L29.1 -0.2 L28.8 0.9 L28.8 1.6 L29.1 2.7 L29.7 3.4 L30.3 3.8 L31.2 3.8 L31.8 3.4 L32.4 2.7 M35.3 -2.0 L35.3 -2.3 L35.6 -3.0 L35.9 -3.4 L36.6 -3.8 L38.1 -3.8 L38.7 -3.4 L39.1 -3.0 L39.4 -2.3 L39.4 -1.6 L39.1 -0.9 L38.5 0.2 L35.2 3.8 L39.4 3.8 M41.7 -5.2 L42.3 -4.5 L43.0 -3.4 L43.6 -2.0 L43.9 -0.2 L43.9 1.2 L43.6 3.0 L43.0 4.5 L42.3 5.5 L41.7 6.2" stroke="#ffffff" stroke-width="1"/>
<path transform="translate(1042.6 486.5) rotate(0)" d="M-44.3 -3.8 L-44.3 3.8 M-44.3 -3.8 L-40.0 3.8 M-40.0 -3.8 L-40.0 3.8 M-37.2 0.9 L-33.5 0.9 L-33.5 0.2 L-33.8 -0.5 L-34.1 -0.9 L-34.7 -1.3 L-35.7 -1.3 L-36.3 -0.9 L-36.9 -0.2 L-37.2 0.9 L-37.2 1.6 L-36.9 2.7 L-36.3 3.4 L-35.7 3.8 L-34.7 3.8 L-34.1 3.4 L-33.5 2.7 M-30.6 -3.8 L-30.6 2.4 L-30.3 3.4 L-29.7 3.8 L-29.0 3.8 M-31.6 -1.3 L-29.3 -1.3 M-27.0 0.5 L-21.1 0.5 M-16.2 -5.2 L-16.8 -4.5 L-17.5 -3.4 L-18.1 -2.0 L-18.5 -0.2 L-18.5 1.3 L-18.1 3.1 L-17.5 4.5 L-16.8 5.6 L-16.2 6.3 M-13.6 -3.8 L-13.6 3.8 M-13.6 -3.8 L-10.9 -3.8 L-9.9 -3.4 L-9.6 -3.1 L-9.3 -2.4 L-9.3 -1.6 L-9.6 -0.9 L-9.9 -0.5 L-10.9 -0.2 L-13.6 -0.2 M-11.5 -0.2 L-9.3 3.8 M-4.9 -3.8 L-6.6 1.4 L-2.3 1.4 M-3.5 -1.1 L-3.5 3.8 M1.9 -3.8 L0.9 -3.4 L0.3 -2.4 L0.0 -0.5 L0.0 0.5 L0.3 2.4 L0.9 3.4 L1.9 3.8 L2.5 3.8 L3.4 3.4 L4.0 2.4 L4.3 0.5 L4.3 -0.5 L4.0 -2.4 L3.4 -3.4 L2.5 -3.8 L1.9 -3.8 M6.9 0.5 L12.8 0.5 M15.7 -3.8 L15.7 3.8 M15.7 -3.8 L18.5 -3.8 L19.4 -3.4 L19.7 -3.1 L20.0 -2.4 L20.0 -1.3 L19.7 -0.5 L19.4 -0.2 L18.5 0.2 L15.7 0.2 M26.2 -1.3 L26.2 3.8 M26.2 -0.2 L25.6 -0.9 L25.0 -1.3 L24.0 -1.3 L23.4 -0.9 L22.8 -0.2 L22.5 0.9 L22.5 1.6 L22.8 2.7 L23.4 3.4 L24.0 3.8 L25.0 3.8 L25.6 3.4 L26.2 2.7 M32.7 -3.8 L32.7 3.8 M32.7 -0.2 L32.0 -0.9 L31.4 -1.3 L30.5 -1.3 L29.9 -0.9 L29.3 -0.2 L29.0 0.9 L29.0 1.6 L29.3 2.7 L29.9 3.4 L30.5 3.8 L31.4 3.8 L32.0 3.4 L32.7 2.7 M35.6 -2.0 L35.6 -2.4 L35.9 -3.1 L36.2 -3.4 L36.8 -3.8 L38.4 -3.8 L39.0 -3.4 L39.4 -3.1 L39.7 -2.4 L39.7 -1.6 L39.4 -0.9 L38.8 0.2 L35.5 3.8 L39.7 3.8 M42.0 -5.2 L42.7 -4.5 L43.3 -3.4 L44.0 -2.0 L44.3 -0.2 L44.3 1.3 L44.0 3.1 L43.3 4.5 L42.7 5.6 L42.0 6.3" stroke="#ffffff" stroke-width="1"/>
<path transform="translate(968 701) rotate(-90)" d="M-33.1 -3.3 L-33.1 3.3 M-33.1 -3.3 L-29.9 3.3 M-29.9 -3.3 L-29.9 3.3 M-27.7 0.8 L-25.0 0.8 L-25.0 0.2 L-25.2 -0.5 L-25.5 -0.8 L-25.9 -1.1 L-26.6 -1.1 L-27.1 -0.8 L-27.5 -0.2 L-27.7 0.8 L-27.7 1.4 L-27.5 2.4 L-27.1 3.0 L-26.6 3.3 L-25.9 3.3 L-25.5 3.0 L-25.0 2.4 M-22.9 -3.3 L-22.9 2.0 L-22.6 3.0 L-22.1 3.3 L-21.6 3.3 M-23.6 -1.1 L-21.9 -1.1 M-20.2 0.5 L-15.7 0.5 M-12.1 -4.6 L-12.6 -3.9 L-13.0 -3.0 L-13.5 -1.7 L-13.8 -0.2 L-13.8 1.1 L-13.5 2.7 L-13.0 3.9 L-12.6 4.9 L-12.1 5.5 M-10.1 -3.3 L-10.1 3.3 M-10.1 -3.3 L-8.1 -3.3 L-7.4 -3.0 L-7.2 -2.7 L-7.0 -2.0 L-7.0 -1.4 L-7.2 -0.8 L-7.4 -0.5 L-8.1 -0.2 L-10.1 -0.2 M-8.6 -0.2 L-7.0 3.3 M-3.7 -3.3 L-4.9 1.2 L-1.7 1.2 M-2.6 -1.0 L-2.6 3.3 M1.4 -3.3 L0.7 -3.0 L0.2 -2.0 L0.0 -0.5 L0.0 0.5 L0.2 2.0 L0.7 3.0 L1.4 3.3 L1.8 3.3 L2.5 3.0 L3.0 2.0 L3.2 0.5 L3.2 -0.5 L3.0 -2.0 L2.5 -3.0 L1.8 -3.3 L1.4 -3.3 M5.1 0.5 L9.6 0.5 M11.7 -3.3 L11.7 3.3 M11.7 -3.3 L13.8 -3.3 L14.5 -3.0 L14.7 -2.7 L14.9 -2.0 L14.9 -1.1 L14.7 -0.5 L14.5 -0.2 L13.8 0.2 L11.7 0.2 M19.5 -1.1 L19.5 3.3 M19.5 -0.2 L19.1 -0.8 L18.6 -1.1 L17.9 -1.1 L17.5 -0.8 L17.0 -0.2 L16.8 0.8 L16.8 1.4 L17.0 2.4 L17.5 3.0 L17.9 3.3 L18.6 3.3 L19.1 3.0 L19.5 2.4 M24.4 -3.3 L24.4 3.3 M24.4 -0.2 L23.9 -0.8 L23.4 -1.1 L22.8 -1.1 L22.3 -0.8 L21.9 -0.2 L21.6 0.8 L21.6 1.4 L21.9 2.4 L22.3 3.0 L22.8 3.3 L23.4 3.3 L23.9 3.0 L24.4 2.4 M26.6 -1.7 L26.6 -2.0 L26.8 -2.7 L27.0 -3.0 L27.5 -3.3 L28.6 -3.3 L29.1 -3.0 L29.4 -2.7 L29.7 -2.0 L29.7 -1.4 L29.4 -0.8 L29.0 0.2 L26.5 3.3 L29.7 3.3 M31.3 -4.6 L31.8 -3.9 L32.3 -3.0 L32.8 -1.7 L33.1 -0.2 L33.1 1.1 L32.8 2.7 L32.3 3.9 L31.8 4.9 L31.3 5.5" stroke="#ffffff" stroke-width="1"/>
<path transform="translate(818.6 391.3) rotate(-43.5)" d="M-43.0 -3.8 L-43.0 3.8 M-43.0 -3.8 L-38.8 3.8 M-38.8 -3.8 L-38.8 3.8 M-36.1 0.9 L-32.5 0.9 L-32.5 0.2 L-32.8 -0.5 L-33.1 -0.9 L-33.7 -1.2 L-34.6 -1.2 L-35.2 -0.9 L-35.8 -0.2 L-36.1 0.9 L-36.1 1.6 L-35.8 2.7 L-35.2 3.4 L-34.6 3.8 L-33.7 3.8 L-33.1 3.4 L-32.5 2.7 M-29.7 -3.8 L-29.7 2.3 L-29.4 3.4 L-28.8 3.8 L-28.1 3.8 M-30.7 -1.2 L-28.5 -1.2 M-26.2 0.5 L-20.5 0.5 M-15.7 -5.2 L-16.3 -4.5 L-17.0 -3.4 L-17.6 -2.0 L-17.9 -0.2 L-17.9 1.2 L-17.6 3.0 L-17.0 4.5 L-16.3 5.5 L-15.7 6.2 M-13.2 -3.8 L-13.2 3.8 M-13.2 -3.8 L-10.5 -3.8 L-9.6 -3.4 L-9.3 -3.0 L-9.0 -2.3 L-9.0 -1.6 L-9.3 -0.9 L-9.6 -0.5 L-10.5 -0.2 L-13.2 -0.2 M-11.1 -0.2 L-9.0 3.8 M-6.0 -3.8 L-2.7 -3.8 L-4.5 -0.9 L-3.6 -0.9 L-3.0 -0.5 L-2.7 -0.2 L-2.4 0.9 L-2.4 1.6 L-2.7 2.7 L-3.3 3.4 L-4.2 3.8 L-5.1 3.8 L-6.0 3.4 L-6.3 3.0 L-6.6 2.3 M4.2 -1.2 L3.9 -0.2 L3.2 0.5 L2.3 0.9 L1.9 0.9 L1.0 0.5 L0.3 -0.2 L0.0 -1.2 L0.0 -1.6 L0.3 -2.7 L1.0 -3.4 L1.9 -3.8 L2.3 -3.8 L3.2 -3.4 L3.9 -2.7 L4.2 -1.2 L4.2 0.5 L3.9 2.3 L3.2 3.4 L2.3 3.8 L1.6 3.8 L0.7 3.4 L0.3 2.7 M6.7 0.5 L12.4 0.5 M15.2 -3.8 L15.2 3.8 M15.2 -3.8 L17.9 -3.8 L18.8 -3.4 L19.1 -3.0 L19.4 -2.3 L19.4 -1.2 L19.1 -0.5 L18.8 -0.2 L17.9 0.2 L15.2 0.2 M25.4 -1.2 L25.4 3.8 M25.4 -0.2 L24.8 -0.9 L24.2 -1.2 L23.3 -1.2 L22.7 -0.9 L22.2 -0.2 L21.9 0.9 L21.9 1.6 L22.2 2.7 L22.7 3.4 L23.3 3.8 L24.2 3.8 L24.8 3.4 L25.4 2.7 M31.7 -3.8 L31.7 3.8 M31.7 -0.2 L31.1 -0.9 L30.5 -1.2 L29.6 -1.2 L29.0 -0.9 L28.4 -0.2 L28.1 0.9 L28.1 1.6 L28.4 2.7 L29.0 3.4 L29.6 3.8 L30.5 3.8 L31.1 3.4 L31.7 2.7 M34.6 -2.0 L34.6 -2.3 L34.9 -3.0 L35.2 -3.4 L35.8 -3.8 L37.2 -3.8 L37.8 -3.4 L38.3 -3.0 L38.6 -2.3 L38.6 -1.6 L38.3 -0.9 L37.7 0.2 L34.4 3.8 L38.6 3.8 M40.8 -5.2 L41.4 -4.5 L42.0 -3.4 L42.7 -2.0 L43.0 -0.2 L43.0 1.2 L42.7 3.0 L42.0 4.5 L41.4 5.5 L40.8 6.2" stroke="#ffffff" stroke-width="1"/>
<path transform="translate(850.4 384.5) rotate(-43.5)" d="M-43.0 -3.8 L-43.0 3.8 M-43.0 -3.8 L-38.8 3.8 M-38.8 -3.8 L-38.8 3.8 M-36.1 0.9 L-32.5 0.9 L-32.5 0.2 L-32.8 -0.5 L-33.1 -0.9 L-33.7 -1.2 L-34.6 -1.2 L-35.2 -0.9 L-35.8 -0.2 L-36.1 0.9 L-36.1 1.6 L-35.8 2.7 L-35.2 3.4 L-34.6 3.8 L-33.7 3.8 L-33.1 3.4 L-32.5 2.7 M-29.7 -3.8 L-29.7 2.3 L-29.4 3.4 L-28.8 3.8 L-28.1 3.8 M-30.7 -1.2 L-28.5 -1.2 M-26.2 0.5 L-20.5 0.5 M-15.7 -5.2 L-16.3 -4.5 L-17.0 -3.4 L-17.6 -2.0 L-17.9 -0.2 L-17.9 1.2 L-17.6 3.0 L-17.0 4.5 L-16.3 5.5 L-15.7 6.2 M-13.2 -3.8 L-13.2 3.8 M-13.2 -3.8 L-10.5 -3.8 L-9.6 -3.4 L-9.3 -3.0 L-9.0 -2.3 L-9.0 -1.6 L-9.3 -0.9 L-9.6 -0.5 L-10.5 -0.2 L-13.2 -0.2 M-11.1 -0.2 L-9.0 3.8 M-6.0 -3.8 L-2.7 -3.8 L-4.5 -0.9 L-3.6 -0.9 L-3.0 -0.5 L-2.7 -0.2 L-2.4 0.9 L-2.4 1.6 L-2.7 2.7 L-3.3 3.4 L-4.2 3.8 L-5.1 3.8 L-6.0 3.4 L-6.3 3.0 L-6.6 2.3 M1.5 -3.8 L0.6 -3.4 L0.3 -2.7 L0.3 -2.0 L0.6 -1.2 L1.2 -0.9 L2.4 -0.5 L3.3 -0.2 L3.9 0.5 L4.2 1.2 L4.2 2.3 L3.9 3.0 L3.6 3.4 L2.7 3.8 L1.5 3.8 L0.6 3.4 L0.3 3.0 L0.0 2.3 L0.0 1.2 L0.3 0.5 L0.9 -0.2 L1.8 -0.5 L3.0 -0.9 L3.6 -1.2 L3.9 -2.0 L3.9 -2.7 L3.6 -3.4 L2.7 -3.8 L1.5 -3.8 M6.7 0.5 L12.4 0.5 M15.2 -3.8 L15.2 3.8 M15.2 -3.8 L17.9 -3.8 L18.8 -3.4 L19.1 -3.0 L19.4 -2.3 L19.4 -1.2 L19.1 -0.5 L18.8 -0.2 L17.9 0.2 L15.2 0.2 M25.4 -1.2 L25.4 3.8 M25.4 -0.2 L24.8 -0.9 L24.2 -1.2 L23.3 -1.2 L22.7 -0.9 L22.2 -0.2 L21.9 0.9 L21.9 1.6 L22.2 2.7 L22.7 3.4 L23.3 3.8 L24.2 3.8 L24.8 3.4 L25.4 2.7 M31.7 -3.8 L31.7 3.8 M31.7 -0.2 L31.1 -0.9 L30.5 -1.2 L29.6 -1.2 L29.0 -0.9 L28.4 -0.2 L28.1 0.9 L28.1 1.6 L28.4 2.7 L29.0 3.4 L29.6 3.8 L30.5 3.8 L31.1 3.4 L31.7 2.7 M34.6 -2.0 L34.6 -2.3 L34.9 -3.0 L35.2 -3.4 L35.8 -3.8 L37.2 -3.8 L37.8 -3.4 L38.3 -3.0 L38.6 -2.3 L38.6 -1.6 L38.3 -0.9 L37.7 0.2 L34.4 3.8 L38.6 3.8 M40.8 -5.2 L41.4 -4.5 L42.0 -3.4 L42.7 -2.0 L43.0 -0.2 L43.0 1.2 L42.7 3.0 L42.0 4.5 L41.4 5.5 L40.8 6.2" stroke="#ffffff" stroke-width="1"/>
<path transform="translate(477.8 501.2) rotate(-43)" d="M-33.0 -3.1 L-33.0 3.1 M-33.0 -3.1 L-29.8 3.1 M-29.8 -3.1 L-29.8 3.1 M-27.7 0.8 L-25.0 0.8 L-25.0 0.1 L-25.2 -0.4 L-25.4 -0.8 L-25.9 -1.1 L-26.6 -1.1 L-27.0 -0.8 L-27.5 -0.1 L-27.7 0.8 L-27.7 1.4 L-27.5 2.2 L-27.0 2.9 L-26.6 3.1 L-25.9 3.1 L-25.4 2.9 L-25.0 2.2 M-22.8 -3.1 L-22.8 1.9 L-22.6 2.9 L-22.1 3.1 L-21.6 3.1 M-23.6 -1.1 L-21.8 -1.1 M-20.1 0.5 L-15.7 0.5 M-12.0 -4.3 L-12.5 -3.7 L-13.0 -2.9 L-13.5 -1.6 L-13.8 -0.1 L-13.8 1.0 L-13.5 2.5 L-13.0 3.8 L-12.5 4.7 L-12.0 5.2 M-10.1 -3.1 L-10.1 3.1 M-10.1 -3.1 L-8.1 -3.1 L-7.4 -2.9 L-7.2 -2.6 L-6.9 -1.9 L-6.9 -1.4 L-7.2 -0.8 L-7.4 -0.4 L-8.1 -0.1 L-10.1 -0.1 M-8.5 -0.1 L-6.9 3.1 M-4.6 -3.1 L-2.1 -3.1 L-3.5 -0.8 L-2.8 -0.8 L-2.3 -0.4 L-2.1 -0.1 L-1.9 0.8 L-1.9 1.4 L-2.1 2.2 L-2.5 2.9 L-3.2 3.1 L-3.9 3.1 L-4.6 2.9 L-4.8 2.5 L-5.0 1.9 M3.2 -1.1 L3.0 -0.1 L2.5 0.5 L1.7 0.8 L1.5 0.8 L0.8 0.5 L0.3 -0.1 L0.0 -1.1 L0.0 -1.4 L0.3 -2.2 L0.8 -2.9 L1.5 -3.1 L1.7 -3.1 L2.5 -2.9 L3.0 -2.2 L3.2 -1.1 L3.2 0.5 L3.0 1.9 L2.5 2.9 L1.7 3.1 L1.2 3.1 L0.5 2.9 L0.3 2.2 M5.1 0.5 L9.5 0.5 M11.7 -3.1 L11.7 3.1 M11.7 -3.1 L13.8 -3.1 L14.4 -2.9 L14.7 -2.6 L14.9 -1.9 L14.9 -1.1 L14.7 -0.4 L14.4 -0.1 L13.8 0.1 L11.7 0.1 M19.5 -1.1 L19.5 3.1 M19.5 -0.1 L19.1 -0.8 L18.6 -1.1 L17.9 -1.1 L17.5 -0.8 L17.0 -0.1 L16.8 0.8 L16.8 1.4 L17.0 2.2 L17.5 2.9 L17.9 3.1 L18.6 3.1 L19.1 2.9 L19.5 2.2 M24.3 -3.1 L24.3 3.1 M24.3 -0.1 L23.9 -0.8 L23.4 -1.1 L22.7 -1.1 L22.3 -0.8 L21.8 -0.1 L21.6 0.8 L21.6 1.4 L21.8 2.2 L22.3 2.9 L22.7 3.1 L23.4 3.1 L23.9 2.9 L24.3 2.2 M26.5 -1.6 L26.5 -1.9 L26.8 -2.6 L27.0 -2.9 L27.4 -3.1 L28.6 -3.1 L29.0 -2.9 L29.4 -2.6 L29.6 -1.9 L29.6 -1.4 L29.4 -0.8 L28.9 0.1 L26.4 3.1 L29.6 3.1 M31.3 -4.3 L31.8 -3.7 L32.3 -2.9 L32.8 -1.6 L33.0 -0.1 L33.0 1.0 L32.8 2.5 L32.3 3.8 L31.8 4.7 L31.3 5.2" stroke="#ffffff" stroke-width="1"/>
<path transform="translate(487.2 520.2) rotate(-43)" d="M-33.0 -3.1 L-33.0 3.1 M-33.0 -3.1 L-29.8 3.1 M-29.8 -3.1 L-29.8 3.1 M-27.7 0.8 L-25.0 0.8 L-25.0 0.1 L-25.2 -0.4 L-25.4 -0.8 L-25.9 -1.1 L-26.6 -1.1 L-27.0 -0.8 L-27.5 -0.1 L-27.7 0.8 L-27.7 1.4 L-27.5 2.2 L-27.0 2.9 L-26.6 3.1 L-25.9 3.1 L-25.4 2.9 L-25.0 2.2 M-22.8 -3.1 L-22.8 1.9 L-22.6 2.9 L-22.1 3.1 L-21.6 3.1 M-23.6 -1.1 L-21.8 -1.1 M-20.1 0.5 L-15.7 0.5 M-12.0 -4.3 L-12.5 -3.7 L-13.0 -2.9 L-13.5 -1.6 L-13.8 -0.1 L-13.8 1.0 L-13.5 2.5 L-13.0 3.8 L-12.5 4.7 L-12.0 5.2 M-10.1 -3.1 L-10.1 3.1 M-10.1 -3.1 L-8.1 -3.1 L-7.4 -2.9 L-7.2 -2.6 L-6.9 -1.9 L-6.9 -1.4 L-7.2 -0.8 L-7.4 -0.4 L-8.1 -0.1 L-10.1 -0.1 M-8.5 -0.1 L-6.9 3.1 M-4.6 -3.1 L-2.1 -3.1 L-3.5 -0.8 L-2.8 -0.8 L-2.3 -0.4 L-2.1 -0.1 L-1.9 0.8 L-1.9 1.4 L-2.1 2.2 L-2.5 2.9 L-3.2 3.1 L-3.9 3.1 L-4.6 2.9 L-4.8 2.5 L-5.0 1.9 M1.2 -3.1 L0.5 -2.9 L0.2 -2.2 L0.2 -1.6 L0.5 -1.1 L0.9 -0.8 L1.8 -0.4 L2.5 -0.1 L3.0 0.5 L3.2 1.0 L3.2 1.9 L3.0 2.5 L2.8 2.9 L2.1 3.1 L1.2 3.1 L0.5 2.9 L0.2 2.5 L0.0 1.9 L0.0 1.0 L0.2 0.5 L0.7 -0.1 L1.4 -0.4 L2.3 -0.8 L2.8 -1.1 L3.0 -1.6 L3.0 -2.2 L2.8 -2.9 L2.1 -3.1 L1.2 -3.1 M5.1 0.5 L9.5 0.5 M11.7 -3.1 L11.7 3.1 M11.7 -3.1 L13.8 -3.1 L14.4 -2.9 L14.7 -2.6 L14.9 -1.9 L14.9 -1.1 L14.7 -0.4 L14.4 -0.1 L13.8 0.1 L11.7 0.1 M19.5 -1.1 L19.5 3.1 M19.5 -0.1 L19.1 -0.8 L18.6 -1.1 L17.9 -1.1 L17.5 -0.8 L17.0 -0.1 L16.8 0.8 L16.8 1.4 L17.0 2.2 L17.5 2.9 L17.9 3.1 L18.6 3.1 L19.1 2.9 L19.5 2.2 M24.3 -3.1 L24.3 3.1 M24.3 -0.1 L23.9 -0.8 L23.4 -1.1 L22.7 -1.1 L22.3 -0.8 L21.8 -0.1 L21.6 0.8 L21.6 1.4 L21.8 2.2 L22.3 2.9 L22.7 3.1 L23.4 3.1 L23.9 2.9 L24.3 2.2 M26.5 -1.6 L26.5 -1.9 L26.8 -2.6 L27.0 -2.9 L27.4 -3.1 L28.6 -3.1 L29.0 -2.9 L29.4 -2.6 L29.6 -1.9 L29.6 -1.4 L29.4 -0.8 L28.9 0.1 L26.4 3.1 L29.6 3.1 M31.3 -4.3 L31.8 -3.7 L32.3 -2.9 L32.8 -1.6 L33.0 -0.1 L33.0 1.0 L32.8 2.5 L32.3 3.8 L31.8 4.7 L31.3 5.2" stroke="#ffffff" stroke-width="1"/>
</g>
<g>
<path d="M183.5 160.5 h7 M187 157 v7" stroke="#000084" stroke-width="1"/>
<path d="M403.5 160.5 h7 M407 157 v7" stroke="#000084" stroke-width="1"/>
<path d="M298.5 185.5 h7 M302 182 v7" stroke="#000084" stroke-width="1"/>
<path d="M291.5 330 h7 M295 326.5 v7" stroke="#000084" stroke-width="1"/>
<path d="M319.8 567 h7 M323.3 563.5 v7" stroke="#840084" stroke-width="1"/>
<path d="M390.5 557.5 H414.5 M402.5 552 V563" stroke="#84ffff" stroke-width="1" stroke-linecap="butt"/>
<path d="M390.5 577.5 H414.5 M402.5 572 V583" stroke="#84ffff" stroke-width="1" stroke-linecap="butt"/>
<path d="M390.5 597.5 H414.5 M402.5 592 V603" stroke="#84ffff" stroke-width="1" stroke-linecap="butt"/>
<path d="M402.5 545 V609" stroke="#84ffff" stroke-width="1" stroke-linecap="butt" stroke-dasharray="1 5"/>
<path d="M399.5 542 v1 M398.5 548 v1 M399.5 581 v1 M399.5 601 v1" stroke="#ffffff" stroke-width="1" stroke-linecap="butt"/>
<path d="M731.5 348.5 h7 M735 345 v7" stroke="#000084" stroke-width="1"/>
<path d="M593.5 404.5 h7 M597 401 v7" stroke="#000084" stroke-width="1"/>
<path d="M596.5 548.5 h7 M600 545 v7" stroke="#000084" stroke-width="1"/>
<path d="M776.5 547.5 h7 M780 544 v7" stroke="#000084" stroke-width="1"/>
<path d="M1001.5 752.5 h7 M1005 749 v7" stroke="#000084" stroke-width="1"/>
<path d="M732 177.5 h7 M735.5 174 v7" stroke="#000084" stroke-width="1"/>
<path d="M732 262.5 h7 M735.5 259 v7" stroke="#000084" stroke-width="1"/>
<path d="M768.8 690.5 h7 M772.3 687 v7" stroke="#000084" stroke-width="1"/>
<path d="M706.8 83.5 h7 M710.3 80 v7" stroke="#000084" stroke-width="1"/>
<path d="M1503.5 849.5 L1509.5 855.5" stroke="#000084" stroke-width="1"/>
<path d="M1099.5 213.5 H1123.5 M1111.5 201.5 V225.5" stroke="#fff" stroke-width="1"/>
<path d="M187.5 330.5 H211.5 M199.5 318.5 V342.5" stroke="#fff" stroke-width="1"/>
</g>
<g shape-rendering="auto">
<rect x="1669" y="0" width="18" height="874" fill="#f0f0f0"/>
<rect x="0" y="856" width="1687" height="18" fill="#f0f0f0"/>
<rect x="1669" y="1" width="1" height="856" fill="#fff"/>
<rect x="0" y="856" width="1670" height="1" fill="#fff"/>
<rect x="1670" y="1" width="16" height="1" fill="#fff"/>
<rect x="1685" y="1" width="1" height="872" fill="#fff"/>
<rect x="0" y="872" width="1686" height="1" fill="#fff"/>
<rect x="1670" y="340" width="15" height="85" fill="#cdcdcd"/>
<rect x="329" y="857" width="233" height="15" fill="#cdcdcd"/>
<path d="M1674.6 12 L1677.5 8.2 L1680.4 12" stroke="#505050" stroke-width="2" fill="none" stroke-linecap="butt" stroke-linejoin="miter"/>
<path d="M1674.6 846 L1677.5 849.8 L1680.4 846" stroke="#505050" stroke-width="2" fill="none" stroke-linecap="butt" stroke-linejoin="miter"/>
<path d="M11.2 861.4 L7.4 864.5 L11.2 867.6" stroke="#505050" stroke-width="2" fill="none" stroke-linecap="butt" stroke-linejoin="miter"/>
<path d="M1659.2 861.4 L1663 864.5 L1659.2 867.6" stroke="#505050" stroke-width="2" fill="none" stroke-linecap="butt" stroke-linejoin="miter"/>
<rect x="0" y="0" width="1687" height="1" fill="#696969"/>
<rect x="0" y="0" width="1" height="874" fill="#696969"/>
<rect x="0" y="873" width="1687" height="1" fill="#696969"/>
<rect x="1686" y="0" width="1" height="874" fill="#696969"/>
</g>
</svg>
</body></html>
